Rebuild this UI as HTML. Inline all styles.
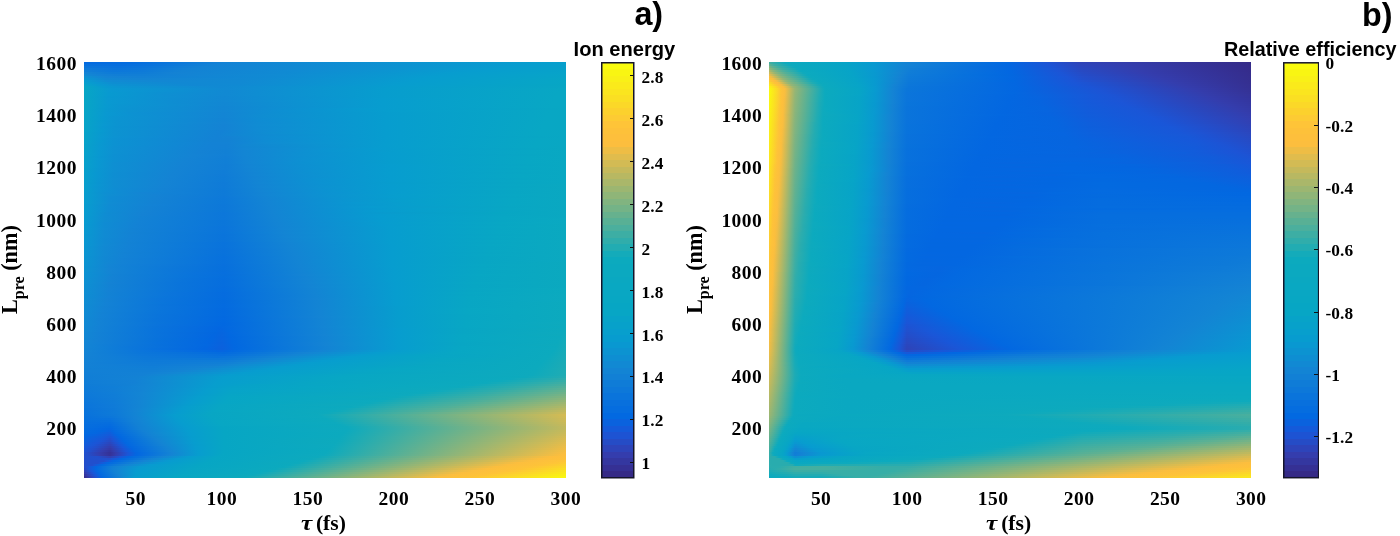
<!DOCTYPE html>
<html><head><meta charset="utf-8"><title>Figure</title>
<style>
html,body{margin:0;padding:0;background:#fff}
#fig{position:relative;width:1400px;height:536px;overflow:hidden;background:#fff;color:#000}
.hm{position:absolute;display:block}
.t{position:absolute;white-space:nowrap;line-height:1;font-family:"Liberation Serif",serif;font-weight:bold;font-size:19.5px;letter-spacing:0.45px;color:#000}
.c{font-size:17.3px;letter-spacing:0.1px}
.yl{text-align:right;width:60px}
.xl{text-align:center;width:60px}
.s{position:absolute;white-space:nowrap;line-height:1;font-family:"Liberation Sans",sans-serif;font-weight:bold;color:#000}
.tk{position:absolute;background:#111;height:1.2px;width:4px}
.ax{position:absolute;white-space:nowrap;line-height:1;font-family:"Liberation Serif",serif;font-weight:bold;font-size:22.2px;color:#000}
</style></head><body><div id="fig">
<svg class="hm" style="left:84px;top:62px" width="482" height="416" viewBox="0 0 482 416" shape-rendering="crispEdges"><defs><linearGradient id="a0"><stop offset="0" stop-color="#046ae0"/><stop offset="0.1" stop-color="#046cdf"/><stop offset="0.29" stop-color="#1382d5"/><stop offset="0.668" stop-color="#0c93d1"/><stop offset="0.959" stop-color="#079ece"/><stop offset="1" stop-color="#079fcd"/></linearGradient><linearGradient id="a1"><stop offset="0" stop-color="#0770dd"/><stop offset="0.079" stop-color="#066ede"/><stop offset="0.141" stop-color="#0973dc"/><stop offset="0.266" stop-color="#1382d5"/><stop offset="0.465" stop-color="#108ad3"/><stop offset="0.909" stop-color="#079dcf"/><stop offset="1" stop-color="#07a0cc"/></linearGradient><linearGradient id="a2"><stop offset="0" stop-color="#0a75db"/><stop offset="0.071" stop-color="#0871dd"/><stop offset="0.129" stop-color="#0a75db"/><stop offset="0.245" stop-color="#1382d5"/><stop offset="0.436" stop-color="#1189d3"/><stop offset="0.88" stop-color="#079dcf"/><stop offset="1" stop-color="#07a0cb"/></linearGradient><linearGradient id="a3"><stop offset="0" stop-color="#0e7ad9"/><stop offset="0.066" stop-color="#0a74db"/><stop offset="0.124" stop-color="#0c77da"/><stop offset="0.224" stop-color="#1382d5"/><stop offset="0.423" stop-color="#1189d3"/><stop offset="0.838" stop-color="#079dcf"/><stop offset="1" stop-color="#07a1ca"/></linearGradient><linearGradient id="a4"><stop offset="0" stop-color="#117fd6"/><stop offset="0.062" stop-color="#0c77da"/><stop offset="0.124" stop-color="#0e7ad8"/><stop offset="0.203" stop-color="#1382d4"/><stop offset="0.444" stop-color="#108bd3"/><stop offset="0.801" stop-color="#079dcf"/><stop offset="1" stop-color="#07a2c9"/></linearGradient><linearGradient id="a5"><stop offset="0" stop-color="#1484d4"/><stop offset="0.058" stop-color="#0e7bd8"/><stop offset="0.12" stop-color="#0f7cd7"/><stop offset="0.187" stop-color="#1482d4"/><stop offset="0.411" stop-color="#108ad3"/><stop offset="0.768" stop-color="#079dcf"/><stop offset="1" stop-color="#07a3c9"/></linearGradient><linearGradient id="a6"><stop offset="0" stop-color="#108ad3"/><stop offset="0.029" stop-color="#1382d5"/><stop offset="0.071" stop-color="#117ed6"/><stop offset="0.12" stop-color="#117fd6"/><stop offset="0.22" stop-color="#1384d4"/><stop offset="0.407" stop-color="#108bd3"/><stop offset="0.743" stop-color="#079dcf"/><stop offset="1" stop-color="#07a4c8"/></linearGradient><linearGradient id="a7"><stop offset="0" stop-color="#0d91d2"/><stop offset="0.046" stop-color="#1483d4"/><stop offset="0.116" stop-color="#1381d5"/><stop offset="0.386" stop-color="#108ad3"/><stop offset="0.718" stop-color="#079dcf"/><stop offset="1" stop-color="#07a4c7"/></linearGradient><linearGradient id="a8"><stop offset="0" stop-color="#0997d1"/><stop offset="0.046" stop-color="#1287d3"/><stop offset="0.112" stop-color="#1484d4"/><stop offset="0.349" stop-color="#1189d3"/><stop offset="0.697" stop-color="#079dcf"/><stop offset="1" stop-color="#07a5c6"/></linearGradient><linearGradient id="a9"><stop offset="0" stop-color="#079dcf"/><stop offset="0.05" stop-color="#108bd3"/><stop offset="0.154" stop-color="#1287d3"/><stop offset="0.328" stop-color="#1189d3"/><stop offset="0.68" stop-color="#079dcf"/><stop offset="1" stop-color="#07a6c5"/></linearGradient><linearGradient id="a10"><stop offset="0" stop-color="#07a0cc"/><stop offset="0.025" stop-color="#0998d1"/><stop offset="0.058" stop-color="#0e8ed2"/><stop offset="0.195" stop-color="#1188d3"/><stop offset="0.324" stop-color="#1189d3"/><stop offset="0.664" stop-color="#079dcf"/><stop offset="1" stop-color="#07a6c5"/></linearGradient><linearGradient id="a11"><stop offset="0" stop-color="#07a3c9"/><stop offset="0.037" stop-color="#0998d1"/><stop offset="0.062" stop-color="#0c92d2"/><stop offset="0.228" stop-color="#1188d3"/><stop offset="0.328" stop-color="#108ad3"/><stop offset="0.651" stop-color="#079dcf"/><stop offset="1" stop-color="#07a6c4"/></linearGradient><linearGradient id="a12"><stop offset="0" stop-color="#07a6c5"/><stop offset="0.046" stop-color="#0899d0"/><stop offset="0.071" stop-color="#0b95d1"/><stop offset="0.282" stop-color="#1189d3"/><stop offset="0.635" stop-color="#079dce"/><stop offset="1" stop-color="#08a6c4"/></linearGradient><linearGradient id="a13"><stop offset="0" stop-color="#07a6c5"/><stop offset="0.058" stop-color="#0999d1"/><stop offset="0.295" stop-color="#118ad3"/><stop offset="0.622" stop-color="#079dce"/><stop offset="0.988" stop-color="#08a7c4"/><stop offset="1" stop-color="#08a7c4"/></linearGradient><linearGradient id="a14"><stop offset="0" stop-color="#07a6c5"/><stop offset="0.054" stop-color="#0999d1"/><stop offset="0.295" stop-color="#1189d3"/><stop offset="0.622" stop-color="#079dce"/><stop offset="0.988" stop-color="#08a7c4"/><stop offset="1" stop-color="#08a7c4"/></linearGradient><linearGradient id="a15"><stop offset="0" stop-color="#07a6c5"/><stop offset="0.05" stop-color="#089ad0"/><stop offset="0.166" stop-color="#0d90d2"/><stop offset="0.295" stop-color="#1189d3"/><stop offset="0.622" stop-color="#079dce"/><stop offset="0.983" stop-color="#08a7c4"/><stop offset="1" stop-color="#08a7c4"/></linearGradient><linearGradient id="a16"><stop offset="0" stop-color="#07a6c5"/><stop offset="0.05" stop-color="#089ad0"/><stop offset="0.17" stop-color="#0e8fd2"/><stop offset="0.29" stop-color="#1189d3"/><stop offset="0.622" stop-color="#079dce"/><stop offset="0.983" stop-color="#08a7c4"/><stop offset="1" stop-color="#08a7c4"/></linearGradient><linearGradient id="a17"><stop offset="0" stop-color="#07a6c5"/><stop offset="0.05" stop-color="#0899d0"/><stop offset="0.178" stop-color="#0e8fd2"/><stop offset="0.29" stop-color="#1188d3"/><stop offset="0.622" stop-color="#079dce"/><stop offset="0.979" stop-color="#08a7c4"/><stop offset="1" stop-color="#08a7c4"/></linearGradient><linearGradient id="a18"><stop offset="0" stop-color="#07a6c5"/><stop offset="0.05" stop-color="#0999d0"/><stop offset="0.183" stop-color="#0e8ed2"/><stop offset="0.29" stop-color="#1188d3"/><stop offset="0.618" stop-color="#079dcf"/><stop offset="0.979" stop-color="#08a7c4"/><stop offset="1" stop-color="#08a7c4"/></linearGradient><linearGradient id="a19"><stop offset="0" stop-color="#07a6c5"/><stop offset="0.05" stop-color="#0999d1"/><stop offset="0.178" stop-color="#0e8ed2"/><stop offset="0.29" stop-color="#1288d3"/><stop offset="0.618" stop-color="#079dcf"/><stop offset="0.975" stop-color="#08a7c4"/><stop offset="1" stop-color="#08a7c4"/></linearGradient><linearGradient id="a20"><stop offset="0" stop-color="#07a6c5"/><stop offset="0.05" stop-color="#0999d1"/><stop offset="0.178" stop-color="#0e8ed2"/><stop offset="0.29" stop-color="#1287d3"/><stop offset="0.618" stop-color="#079dcf"/><stop offset="0.975" stop-color="#08a7c4"/><stop offset="1" stop-color="#08a7c4"/></linearGradient><linearGradient id="a21"><stop offset="0" stop-color="#07a6c5"/><stop offset="0.046" stop-color="#089ad0"/><stop offset="0.071" stop-color="#0a96d1"/><stop offset="0.29" stop-color="#1287d3"/><stop offset="0.618" stop-color="#079dcf"/><stop offset="0.971" stop-color="#08a7c4"/><stop offset="1" stop-color="#08a7c4"/></linearGradient><linearGradient id="a22"><stop offset="0" stop-color="#07a6c5"/><stop offset="0.046" stop-color="#089ad0"/><stop offset="0.075" stop-color="#0b95d1"/><stop offset="0.29" stop-color="#1286d3"/><stop offset="0.618" stop-color="#079dcf"/><stop offset="0.971" stop-color="#08a7c4"/><stop offset="1" stop-color="#08a7c3"/></linearGradient><linearGradient id="a23"><stop offset="0" stop-color="#07a6c6"/><stop offset="0.046" stop-color="#0899d0"/><stop offset="0.083" stop-color="#0b94d1"/><stop offset="0.29" stop-color="#1286d3"/><stop offset="0.581" stop-color="#079cd0"/><stop offset="0.967" stop-color="#08a6c4"/><stop offset="1" stop-color="#08a7c3"/></linearGradient><linearGradient id="a24"><stop offset="0" stop-color="#07a5c6"/><stop offset="0.046" stop-color="#0999d0"/><stop offset="0.091" stop-color="#0c93d1"/><stop offset="0.29" stop-color="#1386d4"/><stop offset="0.415" stop-color="#0d90d2"/><stop offset="0.631" stop-color="#079ece"/><stop offset="0.967" stop-color="#08a7c4"/><stop offset="1" stop-color="#08a7c3"/></linearGradient><linearGradient id="a25"><stop offset="0" stop-color="#07a5c6"/><stop offset="0.046" stop-color="#0999d1"/><stop offset="0.095" stop-color="#0c92d2"/><stop offset="0.29" stop-color="#1385d4"/><stop offset="0.39" stop-color="#0e8ed2"/><stop offset="0.627" stop-color="#079dce"/><stop offset="0.967" stop-color="#08a7c4"/><stop offset="1" stop-color="#08a7c3"/></linearGradient><linearGradient id="a26"><stop offset="0" stop-color="#07a5c6"/><stop offset="0.046" stop-color="#0999d1"/><stop offset="0.1" stop-color="#0c92d2"/><stop offset="0.29" stop-color="#1385d4"/><stop offset="0.369" stop-color="#0f8dd2"/><stop offset="0.627" stop-color="#079dce"/><stop offset="0.963" stop-color="#08a7c4"/><stop offset="1" stop-color="#08a7c3"/></linearGradient><linearGradient id="a27"><stop offset="0" stop-color="#07a5c6"/><stop offset="0.041" stop-color="#089ad0"/><stop offset="0.062" stop-color="#0b95d1"/><stop offset="0.29" stop-color="#1385d4"/><stop offset="0.369" stop-color="#0f8dd2"/><stop offset="0.627" stop-color="#079dce"/><stop offset="0.963" stop-color="#08a7c4"/><stop offset="1" stop-color="#08a7c3"/></linearGradient><linearGradient id="a28"><stop offset="0" stop-color="#07a5c6"/><stop offset="0.041" stop-color="#089ad0"/><stop offset="0.062" stop-color="#0b95d1"/><stop offset="0.29" stop-color="#1384d4"/><stop offset="0.361" stop-color="#0f8cd3"/><stop offset="0.627" stop-color="#079dce"/><stop offset="0.959" stop-color="#08a7c4"/><stop offset="1" stop-color="#08a7c3"/></linearGradient><linearGradient id="a29"><stop offset="0" stop-color="#07a4c7"/><stop offset="0.041" stop-color="#0899d0"/><stop offset="0.066" stop-color="#0b94d1"/><stop offset="0.29" stop-color="#1384d4"/><stop offset="0.365" stop-color="#0f8cd3"/><stop offset="0.627" stop-color="#079dcf"/><stop offset="0.959" stop-color="#08a7c4"/><stop offset="1" stop-color="#08a7c3"/></linearGradient><linearGradient id="a30"><stop offset="0" stop-color="#07a4c7"/><stop offset="0.041" stop-color="#0999d0"/><stop offset="0.066" stop-color="#0b94d1"/><stop offset="0.29" stop-color="#1484d4"/><stop offset="0.357" stop-color="#108bd3"/><stop offset="0.627" stop-color="#079dcf"/><stop offset="0.959" stop-color="#08a7c4"/><stop offset="1" stop-color="#08a7c3"/></linearGradient><linearGradient id="a31"><stop offset="0" stop-color="#07a4c7"/><stop offset="0.041" stop-color="#0999d1"/><stop offset="0.066" stop-color="#0b94d1"/><stop offset="0.29" stop-color="#1483d4"/><stop offset="0.361" stop-color="#108cd3"/><stop offset="0.627" stop-color="#079dcf"/><stop offset="0.954" stop-color="#08a7c4"/><stop offset="1" stop-color="#08a7c3"/></linearGradient><linearGradient id="a32"><stop offset="0" stop-color="#07a4c7"/><stop offset="0.041" stop-color="#0998d1"/><stop offset="0.066" stop-color="#0b93d1"/><stop offset="0.29" stop-color="#1483d4"/><stop offset="0.357" stop-color="#108bd3"/><stop offset="0.627" stop-color="#079dcf"/><stop offset="0.954" stop-color="#08a7c4"/><stop offset="1" stop-color="#08a7c3"/></linearGradient><linearGradient id="a33"><stop offset="0" stop-color="#07a4c7"/><stop offset="0.037" stop-color="#089ad0"/><stop offset="0.062" stop-color="#0b94d1"/><stop offset="0.29" stop-color="#1483d4"/><stop offset="0.365" stop-color="#108cd3"/><stop offset="0.627" stop-color="#079dcf"/><stop offset="0.95" stop-color="#08a7c4"/><stop offset="1" stop-color="#08a7c3"/></linearGradient><linearGradient id="a34"><stop offset="0" stop-color="#07a4c8"/><stop offset="0.037" stop-color="#089ad0"/><stop offset="0.062" stop-color="#0c93d1"/><stop offset="0.286" stop-color="#1382d5"/><stop offset="0.361" stop-color="#108bd3"/><stop offset="0.627" stop-color="#079dcf"/><stop offset="0.95" stop-color="#08a7c4"/><stop offset="1" stop-color="#09a7c3"/></linearGradient><linearGradient id="a35"><stop offset="0" stop-color="#07a3c8"/><stop offset="0.037" stop-color="#0899d0"/><stop offset="0.062" stop-color="#0c93d1"/><stop offset="0.282" stop-color="#1382d5"/><stop offset="0.382" stop-color="#0f8dd2"/><stop offset="0.627" stop-color="#079dcf"/><stop offset="0.946" stop-color="#08a7c4"/><stop offset="1" stop-color="#09a7c3"/></linearGradient><linearGradient id="a36"><stop offset="0" stop-color="#07a3c8"/><stop offset="0.037" stop-color="#0999d0"/><stop offset="0.062" stop-color="#0c93d1"/><stop offset="0.278" stop-color="#1382d5"/><stop offset="0.332" stop-color="#1188d3"/><stop offset="0.627" stop-color="#079dcf"/><stop offset="0.946" stop-color="#08a7c4"/><stop offset="1" stop-color="#09a7c3"/></linearGradient><linearGradient id="a37"><stop offset="0" stop-color="#07a3c8"/><stop offset="0.037" stop-color="#0999d1"/><stop offset="0.062" stop-color="#0c93d2"/><stop offset="0.274" stop-color="#1382d5"/><stop offset="0.303" stop-color="#1483d4"/><stop offset="0.378" stop-color="#0f8cd3"/><stop offset="0.627" stop-color="#079dcf"/><stop offset="0.942" stop-color="#08a6c4"/><stop offset="1" stop-color="#09a7c3"/></linearGradient><linearGradient id="a38"><stop offset="0" stop-color="#07a3c8"/><stop offset="0.037" stop-color="#0998d1"/><stop offset="0.062" stop-color="#0c92d2"/><stop offset="0.27" stop-color="#1382d5"/><stop offset="0.299" stop-color="#1482d4"/><stop offset="0.373" stop-color="#108bd3"/><stop offset="0.627" stop-color="#079dcf"/><stop offset="0.942" stop-color="#08a7c4"/><stop offset="1" stop-color="#09a7c3"/></linearGradient><linearGradient id="a39"><stop offset="0" stop-color="#07a3c9"/><stop offset="0.033" stop-color="#089ad0"/><stop offset="0.062" stop-color="#0c92d2"/><stop offset="0.266" stop-color="#1382d4"/><stop offset="0.299" stop-color="#1382d4"/><stop offset="0.378" stop-color="#0f8cd3"/><stop offset="0.627" stop-color="#079dcf"/><stop offset="0.942" stop-color="#08a7c4"/><stop offset="1" stop-color="#09a7c3"/></linearGradient><linearGradient id="a40"><stop offset="0" stop-color="#07a3c9"/><stop offset="0.037" stop-color="#0998d1"/><stop offset="0.062" stop-color="#0c92d2"/><stop offset="0.266" stop-color="#1382d5"/><stop offset="0.299" stop-color="#1382d5"/><stop offset="0.378" stop-color="#108cd3"/><stop offset="0.627" stop-color="#079dcf"/><stop offset="0.938" stop-color="#08a7c4"/><stop offset="1" stop-color="#09a7c3"/></linearGradient><linearGradient id="a41"><stop offset="0" stop-color="#07a2c9"/><stop offset="0.033" stop-color="#0999d0"/><stop offset="0.062" stop-color="#0c92d2"/><stop offset="0.261" stop-color="#1382d5"/><stop offset="0.295" stop-color="#1381d5"/><stop offset="0.332" stop-color="#1287d3"/><stop offset="0.622" stop-color="#079dcf"/><stop offset="0.938" stop-color="#08a7c4"/><stop offset="1" stop-color="#09a7c3"/></linearGradient><linearGradient id="a42"><stop offset="0" stop-color="#07a2c9"/><stop offset="0.033" stop-color="#0999d1"/><stop offset="0.062" stop-color="#0d91d2"/><stop offset="0.257" stop-color="#1382d5"/><stop offset="0.295" stop-color="#1381d5"/><stop offset="0.332" stop-color="#1286d3"/><stop offset="0.622" stop-color="#079dcf"/><stop offset="0.934" stop-color="#08a7c4"/><stop offset="1" stop-color="#09a7c2"/></linearGradient><linearGradient id="a43"><stop offset="0" stop-color="#07a2c9"/><stop offset="0.033" stop-color="#0999d1"/><stop offset="0.062" stop-color="#0d91d2"/><stop offset="0.253" stop-color="#1382d5"/><stop offset="0.295" stop-color="#1281d5"/><stop offset="0.332" stop-color="#1386d4"/><stop offset="0.602" stop-color="#079cd0"/><stop offset="0.929" stop-color="#08a6c4"/><stop offset="1" stop-color="#09a7c2"/></linearGradient><linearGradient id="a44"><stop offset="0" stop-color="#07a2c9"/><stop offset="0.033" stop-color="#0998d1"/><stop offset="0.062" stop-color="#0d91d2"/><stop offset="0.241" stop-color="#1482d4"/><stop offset="0.295" stop-color="#1280d5"/><stop offset="0.332" stop-color="#1385d4"/><stop offset="0.506" stop-color="#0b95d1"/><stop offset="0.651" stop-color="#079ece"/><stop offset="0.934" stop-color="#08a7c4"/><stop offset="1" stop-color="#09a8c2"/></linearGradient><linearGradient id="a45"><stop offset="0" stop-color="#07a2ca"/><stop offset="0.033" stop-color="#0998d1"/><stop offset="0.062" stop-color="#0d91d2"/><stop offset="0.237" stop-color="#1482d4"/><stop offset="0.295" stop-color="#1280d5"/><stop offset="0.332" stop-color="#1385d4"/><stop offset="0.448" stop-color="#0d90d2"/><stop offset="0.631" stop-color="#079dcf"/><stop offset="0.929" stop-color="#08a7c4"/><stop offset="1" stop-color="#09a8c2"/></linearGradient><linearGradient id="a46"><stop offset="0" stop-color="#07a2ca"/><stop offset="0.033" stop-color="#0998d1"/><stop offset="0.062" stop-color="#0d90d2"/><stop offset="0.228" stop-color="#1483d4"/><stop offset="0.295" stop-color="#1280d6"/><stop offset="0.332" stop-color="#1385d4"/><stop offset="0.436" stop-color="#0e8fd2"/><stop offset="0.631" stop-color="#079dcf"/><stop offset="0.925" stop-color="#08a6c4"/><stop offset="1" stop-color="#09a8c2"/></linearGradient><linearGradient id="a47"><stop offset="0" stop-color="#07a1ca"/><stop offset="0.033" stop-color="#0997d1"/><stop offset="0.062" stop-color="#0d90d2"/><stop offset="0.224" stop-color="#1483d4"/><stop offset="0.295" stop-color="#127fd6"/><stop offset="0.336" stop-color="#1385d4"/><stop offset="0.452" stop-color="#0d90d2"/><stop offset="0.631" stop-color="#079dcf"/><stop offset="0.925" stop-color="#08a7c4"/><stop offset="1" stop-color="#09a8c2"/></linearGradient><linearGradient id="a48"><stop offset="0" stop-color="#07a1ca"/><stop offset="0.029" stop-color="#0999d1"/><stop offset="0.062" stop-color="#0d90d2"/><stop offset="0.216" stop-color="#1483d4"/><stop offset="0.295" stop-color="#117fd6"/><stop offset="0.336" stop-color="#1385d4"/><stop offset="0.444" stop-color="#0d90d2"/><stop offset="0.631" stop-color="#079dcf"/><stop offset="0.925" stop-color="#08a7c4"/><stop offset="1" stop-color="#09a8c2"/></linearGradient><linearGradient id="a49"><stop offset="0" stop-color="#07a1ca"/><stop offset="0.029" stop-color="#0998d1"/><stop offset="0.062" stop-color="#0d90d2"/><stop offset="0.212" stop-color="#1483d4"/><stop offset="0.295" stop-color="#117fd6"/><stop offset="0.34" stop-color="#1385d4"/><stop offset="0.461" stop-color="#0d91d2"/><stop offset="0.635" stop-color="#079dce"/><stop offset="0.921" stop-color="#08a7c4"/><stop offset="1" stop-color="#09a8c2"/></linearGradient><linearGradient id="a50"><stop offset="0" stop-color="#07a1cb"/><stop offset="0.029" stop-color="#0998d1"/><stop offset="0.062" stop-color="#0e8fd2"/><stop offset="0.207" stop-color="#1483d4"/><stop offset="0.295" stop-color="#117fd6"/><stop offset="0.34" stop-color="#1385d4"/><stop offset="0.448" stop-color="#0d90d2"/><stop offset="0.635" stop-color="#079dce"/><stop offset="0.921" stop-color="#08a7c4"/><stop offset="1" stop-color="#09a8c2"/></linearGradient><linearGradient id="a51"><stop offset="0" stop-color="#07a1cb"/><stop offset="0.029" stop-color="#0998d1"/><stop offset="0.062" stop-color="#0e8fd2"/><stop offset="0.203" stop-color="#1483d4"/><stop offset="0.295" stop-color="#117ed6"/><stop offset="0.34" stop-color="#1384d4"/><stop offset="0.432" stop-color="#0e8ed2"/><stop offset="0.631" stop-color="#079dcf"/><stop offset="0.917" stop-color="#08a6c4"/><stop offset="1" stop-color="#09a8c2"/></linearGradient><linearGradient id="a52"><stop offset="0" stop-color="#07a1cb"/><stop offset="0.029" stop-color="#0998d1"/><stop offset="0.062" stop-color="#0e8fd2"/><stop offset="0.199" stop-color="#1483d4"/><stop offset="0.295" stop-color="#117ed6"/><stop offset="0.344" stop-color="#1385d4"/><stop offset="0.456" stop-color="#0d90d2"/><stop offset="0.635" stop-color="#079dcf"/><stop offset="0.917" stop-color="#08a7c4"/><stop offset="1" stop-color="#09a8c2"/></linearGradient><linearGradient id="a53"><stop offset="0" stop-color="#07a0cb"/><stop offset="0.029" stop-color="#0997d1"/><stop offset="0.062" stop-color="#0e8fd2"/><stop offset="0.195" stop-color="#1483d4"/><stop offset="0.295" stop-color="#117ed6"/><stop offset="0.344" stop-color="#1384d4"/><stop offset="0.436" stop-color="#0e8ed2"/><stop offset="0.631" stop-color="#079dcf"/><stop offset="0.913" stop-color="#08a6c4"/><stop offset="1" stop-color="#09a8c2"/></linearGradient><linearGradient id="a54"><stop offset="0" stop-color="#07a0cb"/><stop offset="0.029" stop-color="#0a97d1"/><stop offset="0.062" stop-color="#0e8fd2"/><stop offset="0.191" stop-color="#1483d4"/><stop offset="0.29" stop-color="#107dd7"/><stop offset="0.349" stop-color="#1385d4"/><stop offset="0.465" stop-color="#0d91d2"/><stop offset="0.635" stop-color="#079dcf"/><stop offset="0.913" stop-color="#08a7c4"/><stop offset="1" stop-color="#09a8c2"/></linearGradient><linearGradient id="a55"><stop offset="0" stop-color="#07a0cc"/><stop offset="0.025" stop-color="#0998d1"/><stop offset="0.062" stop-color="#0e8ed2"/><stop offset="0.187" stop-color="#1483d4"/><stop offset="0.29" stop-color="#107dd7"/><stop offset="0.349" stop-color="#1384d4"/><stop offset="0.444" stop-color="#0e8fd2"/><stop offset="0.631" stop-color="#079dcf"/><stop offset="0.909" stop-color="#08a6c4"/><stop offset="1" stop-color="#09a8c2"/></linearGradient><linearGradient id="a56"><stop offset="0" stop-color="#07a0cc"/><stop offset="0.025" stop-color="#0998d1"/><stop offset="0.062" stop-color="#0e8ed2"/><stop offset="0.183" stop-color="#1483d4"/><stop offset="0.29" stop-color="#107cd7"/><stop offset="0.353" stop-color="#1385d4"/><stop offset="0.473" stop-color="#0d91d2"/><stop offset="0.635" stop-color="#079dcf"/><stop offset="0.909" stop-color="#08a7c4"/><stop offset="1" stop-color="#09a8c2"/></linearGradient><linearGradient id="a57"><stop offset="0" stop-color="#07a0cc"/><stop offset="0.025" stop-color="#0998d1"/><stop offset="0.062" stop-color="#0e8ed2"/><stop offset="0.183" stop-color="#1483d4"/><stop offset="0.29" stop-color="#0f7cd7"/><stop offset="0.353" stop-color="#1384d4"/><stop offset="0.452" stop-color="#0e8fd2"/><stop offset="0.635" stop-color="#079dcf"/><stop offset="0.909" stop-color="#08a7c4"/><stop offset="1" stop-color="#09a8c2"/></linearGradient><linearGradient id="a58"><stop offset="0" stop-color="#07a0cc"/><stop offset="0.029" stop-color="#0a96d1"/><stop offset="0.062" stop-color="#0f8ed2"/><stop offset="0.178" stop-color="#1483d4"/><stop offset="0.29" stop-color="#0f7cd7"/><stop offset="0.357" stop-color="#1385d4"/><stop offset="0.481" stop-color="#0c92d2"/><stop offset="0.635" stop-color="#079dcf"/><stop offset="0.905" stop-color="#08a6c4"/><stop offset="1" stop-color="#09a8c2"/></linearGradient><linearGradient id="a59"><stop offset="0" stop-color="#079fcc"/><stop offset="0.029" stop-color="#0a96d1"/><stop offset="0.062" stop-color="#0f8dd2"/><stop offset="0.174" stop-color="#1483d4"/><stop offset="0.29" stop-color="#0f7cd8"/><stop offset="0.357" stop-color="#1384d4"/><stop offset="0.465" stop-color="#0d90d2"/><stop offset="0.635" stop-color="#079dcf"/><stop offset="0.905" stop-color="#08a7c4"/><stop offset="1" stop-color="#09a8c2"/></linearGradient><linearGradient id="a60"><stop offset="0" stop-color="#079fcc"/><stop offset="0.029" stop-color="#0a95d1"/><stop offset="0.062" stop-color="#0f8dd2"/><stop offset="0.174" stop-color="#1483d4"/><stop offset="0.29" stop-color="#0f7bd8"/><stop offset="0.361" stop-color="#1385d4"/><stop offset="0.49" stop-color="#0c92d2"/><stop offset="0.639" stop-color="#079dce"/><stop offset="0.9" stop-color="#08a6c4"/><stop offset="1" stop-color="#09a8c2"/></linearGradient><linearGradient id="a61"><stop offset="0" stop-color="#079fcd"/><stop offset="0.025" stop-color="#0a97d1"/><stop offset="0.062" stop-color="#0f8dd2"/><stop offset="0.17" stop-color="#1483d4"/><stop offset="0.29" stop-color="#0f7bd8"/><stop offset="0.361" stop-color="#1384d4"/><stop offset="0.473" stop-color="#0d90d2"/><stop offset="0.635" stop-color="#079dcf"/><stop offset="0.9" stop-color="#08a7c4"/><stop offset="1" stop-color="#0aa8c1"/></linearGradient><linearGradient id="a62"><stop offset="0" stop-color="#079fcd"/><stop offset="0.025" stop-color="#0a96d1"/><stop offset="0.062" stop-color="#0f8dd2"/><stop offset="0.166" stop-color="#1483d4"/><stop offset="0.29" stop-color="#0f7bd8"/><stop offset="0.365" stop-color="#1385d4"/><stop offset="0.502" stop-color="#0c93d1"/><stop offset="0.639" stop-color="#079dcf"/><stop offset="0.896" stop-color="#08a6c4"/><stop offset="1" stop-color="#0aa8c1"/></linearGradient><linearGradient id="a63"><stop offset="0" stop-color="#079fcd"/><stop offset="0.029" stop-color="#0b95d1"/><stop offset="0.066" stop-color="#0f8cd3"/><stop offset="0.17" stop-color="#1482d4"/><stop offset="0.29" stop-color="#0e7bd8"/><stop offset="0.365" stop-color="#1384d4"/><stop offset="0.485" stop-color="#0d91d2"/><stop offset="0.635" stop-color="#079dcf"/><stop offset="0.896" stop-color="#08a7c4"/><stop offset="1" stop-color="#0aa8c1"/></linearGradient><linearGradient id="a64"><stop offset="0" stop-color="#079fcd"/><stop offset="0.037" stop-color="#0c92d2"/><stop offset="0.075" stop-color="#108bd3"/><stop offset="0.174" stop-color="#1382d5"/><stop offset="0.29" stop-color="#0e7ad8"/><stop offset="0.369" stop-color="#1385d4"/><stop offset="0.515" stop-color="#0b94d1"/><stop offset="0.639" stop-color="#079dcf"/><stop offset="0.892" stop-color="#08a6c4"/><stop offset="1" stop-color="#0aa8c1"/></linearGradient><linearGradient id="a65"><stop offset="0" stop-color="#079ecd"/><stop offset="0.041" stop-color="#0d90d2"/><stop offset="0.12" stop-color="#1385d4"/><stop offset="0.203" stop-color="#1280d6"/><stop offset="0.29" stop-color="#0e7ad8"/><stop offset="0.369" stop-color="#1384d4"/><stop offset="0.498" stop-color="#0c92d2"/><stop offset="0.639" stop-color="#079dcf"/><stop offset="0.892" stop-color="#08a6c4"/><stop offset="1" stop-color="#0aa8c1"/></linearGradient><linearGradient id="a66"><stop offset="0" stop-color="#079ece"/><stop offset="0.05" stop-color="#0f8ed2"/><stop offset="0.145" stop-color="#1483d4"/><stop offset="0.29" stop-color="#0e7ad8"/><stop offset="0.373" stop-color="#1385d4"/><stop offset="0.527" stop-color="#0b95d1"/><stop offset="0.651" stop-color="#079ece"/><stop offset="0.896" stop-color="#08a7c4"/><stop offset="1" stop-color="#0aa8c1"/></linearGradient><linearGradient id="a67"><stop offset="0" stop-color="#079ece"/><stop offset="0.054" stop-color="#0f8cd3"/><stop offset="0.154" stop-color="#1482d4"/><stop offset="0.29" stop-color="#0e79d9"/><stop offset="0.373" stop-color="#1384d4"/><stop offset="0.51" stop-color="#0c93d1"/><stop offset="0.639" stop-color="#079dcf"/><stop offset="0.888" stop-color="#08a6c4"/><stop offset="1" stop-color="#0aa8c1"/></linearGradient><linearGradient id="a68"><stop offset="0" stop-color="#079ece"/><stop offset="0.054" stop-color="#0f8cd3"/><stop offset="0.149" stop-color="#1482d4"/><stop offset="0.29" stop-color="#0d79d9"/><stop offset="0.378" stop-color="#1384d4"/><stop offset="0.544" stop-color="#0a96d1"/><stop offset="0.66" stop-color="#079ecd"/><stop offset="0.892" stop-color="#08a7c4"/><stop offset="1" stop-color="#0aa8c1"/></linearGradient><linearGradient id="a69"><stop offset="0" stop-color="#079ece"/><stop offset="0.054" stop-color="#0f8cd3"/><stop offset="0.149" stop-color="#1382d4"/><stop offset="0.29" stop-color="#0d79d9"/><stop offset="0.378" stop-color="#1384d4"/><stop offset="0.527" stop-color="#0b94d1"/><stop offset="0.647" stop-color="#079ece"/><stop offset="0.888" stop-color="#08a7c4"/><stop offset="1" stop-color="#0aa8c1"/></linearGradient><linearGradient id="a70"><stop offset="0" stop-color="#079ece"/><stop offset="0.054" stop-color="#108cd3"/><stop offset="0.145" stop-color="#1382d4"/><stop offset="0.29" stop-color="#0d79d9"/><stop offset="0.382" stop-color="#1384d4"/><stop offset="0.564" stop-color="#0998d1"/><stop offset="0.697" stop-color="#07a0cc"/><stop offset="0.896" stop-color="#08a7c4"/><stop offset="1" stop-color="#0aa8c1"/></linearGradient><linearGradient id="a71"><stop offset="0" stop-color="#079dce"/><stop offset="0.054" stop-color="#108bd3"/><stop offset="0.145" stop-color="#1382d5"/><stop offset="0.29" stop-color="#0d78d9"/><stop offset="0.382" stop-color="#1384d4"/><stop offset="0.539" stop-color="#0a95d1"/><stop offset="0.656" stop-color="#079ece"/><stop offset="0.884" stop-color="#08a7c4"/><stop offset="1" stop-color="#0aa8c1"/></linearGradient><linearGradient id="a72"><stop offset="0" stop-color="#079dcf"/><stop offset="0.05" stop-color="#0f8cd3"/><stop offset="0.137" stop-color="#1382d4"/><stop offset="0.29" stop-color="#0d78d9"/><stop offset="0.386" stop-color="#1384d4"/><stop offset="0.593" stop-color="#089bd0"/><stop offset="0.876" stop-color="#08a6c4"/><stop offset="1" stop-color="#0aa8c1"/></linearGradient><linearGradient id="a73"><stop offset="0" stop-color="#079dcf"/><stop offset="0.05" stop-color="#0f8cd3"/><stop offset="0.133" stop-color="#1382d4"/><stop offset="0.29" stop-color="#0d78d9"/><stop offset="0.386" stop-color="#1384d4"/><stop offset="0.56" stop-color="#0997d1"/><stop offset="0.676" stop-color="#079fcd"/><stop offset="0.884" stop-color="#08a7c4"/><stop offset="1" stop-color="#0aa8c1"/></linearGradient><linearGradient id="a74"><stop offset="0" stop-color="#079dcf"/><stop offset="0.05" stop-color="#0f8cd3"/><stop offset="0.129" stop-color="#1482d4"/><stop offset="0.29" stop-color="#0c78d9"/><stop offset="0.39" stop-color="#1384d4"/><stop offset="0.61" stop-color="#079cd0"/><stop offset="0.876" stop-color="#08a6c4"/><stop offset="1" stop-color="#0aa8c1"/></linearGradient><linearGradient id="a75"><stop offset="0" stop-color="#079dcf"/><stop offset="0.046" stop-color="#0f8cd2"/><stop offset="0.124" stop-color="#1482d4"/><stop offset="0.29" stop-color="#0c77da"/><stop offset="0.39" stop-color="#1384d4"/><stop offset="0.581" stop-color="#0899d0"/><stop offset="0.859" stop-color="#07a6c4"/><stop offset="1" stop-color="#0aa8c1"/></linearGradient><linearGradient id="a76"><stop offset="0" stop-color="#079dcf"/><stop offset="0.046" stop-color="#0f8cd3"/><stop offset="0.12" stop-color="#1482d4"/><stop offset="0.29" stop-color="#0c77da"/><stop offset="0.394" stop-color="#1384d4"/><stop offset="0.614" stop-color="#079cd0"/><stop offset="0.871" stop-color="#08a6c4"/><stop offset="1" stop-color="#0aa8c1"/></linearGradient><linearGradient id="a77"><stop offset="0" stop-color="#079cd0"/><stop offset="0.041" stop-color="#0f8dd2"/><stop offset="0.12" stop-color="#1382d4"/><stop offset="0.29" stop-color="#0c77da"/><stop offset="0.394" stop-color="#1384d4"/><stop offset="0.61" stop-color="#079cd0"/><stop offset="0.871" stop-color="#08a7c4"/><stop offset="1" stop-color="#0aa8c1"/></linearGradient><linearGradient id="a78"><stop offset="0" stop-color="#079cd0"/><stop offset="0.041" stop-color="#0f8dd2"/><stop offset="0.116" stop-color="#1382d4"/><stop offset="0.29" stop-color="#0c77da"/><stop offset="0.398" stop-color="#1384d4"/><stop offset="0.618" stop-color="#079cd0"/><stop offset="0.871" stop-color="#08a7c4"/><stop offset="1" stop-color="#0aa9c1"/></linearGradient><linearGradient id="a79"><stop offset="0" stop-color="#079cd0"/><stop offset="0.041" stop-color="#0f8dd2"/><stop offset="0.116" stop-color="#1382d5"/><stop offset="0.29" stop-color="#0b76da"/><stop offset="0.398" stop-color="#1384d4"/><stop offset="0.614" stop-color="#079cd0"/><stop offset="0.867" stop-color="#08a6c4"/><stop offset="1" stop-color="#0aa9c1"/></linearGradient><linearGradient id="a80"><stop offset="0" stop-color="#079cd0"/><stop offset="0.041" stop-color="#0f8cd3"/><stop offset="0.112" stop-color="#1382d5"/><stop offset="0.29" stop-color="#0b76da"/><stop offset="0.402" stop-color="#1384d4"/><stop offset="0.627" stop-color="#079dcf"/><stop offset="0.867" stop-color="#08a7c4"/><stop offset="1" stop-color="#0aa9c1"/></linearGradient><linearGradient id="a81"><stop offset="0" stop-color="#079bd0"/><stop offset="0.041" stop-color="#0f8cd3"/><stop offset="0.108" stop-color="#1382d5"/><stop offset="0.29" stop-color="#0b76da"/><stop offset="0.402" stop-color="#1384d4"/><stop offset="0.618" stop-color="#079cd0"/><stop offset="0.863" stop-color="#08a6c4"/><stop offset="1" stop-color="#0aa9c0"/></linearGradient><linearGradient id="a82"><stop offset="0" stop-color="#089bd0"/><stop offset="0.041" stop-color="#0f8cd3"/><stop offset="0.108" stop-color="#1382d5"/><stop offset="0.29" stop-color="#0b75db"/><stop offset="0.407" stop-color="#1384d4"/><stop offset="0.631" stop-color="#079dcf"/><stop offset="0.863" stop-color="#08a7c4"/><stop offset="1" stop-color="#0aa9c0"/></linearGradient><linearGradient id="a83"><stop offset="0" stop-color="#089bd0"/><stop offset="0.041" stop-color="#108cd3"/><stop offset="0.104" stop-color="#1382d4"/><stop offset="0.29" stop-color="#0b75db"/><stop offset="0.411" stop-color="#1385d4"/><stop offset="0.635" stop-color="#079dcf"/><stop offset="0.859" stop-color="#08a6c4"/><stop offset="1" stop-color="#0aa9c0"/></linearGradient><linearGradient id="a84"><stop offset="0" stop-color="#089ad0"/><stop offset="0.041" stop-color="#108bd3"/><stop offset="0.104" stop-color="#1382d5"/><stop offset="0.29" stop-color="#0b75db"/><stop offset="0.411" stop-color="#1384d4"/><stop offset="0.635" stop-color="#079dcf"/><stop offset="0.859" stop-color="#08a7c4"/><stop offset="1" stop-color="#0aa9c0"/></linearGradient><linearGradient id="a85"><stop offset="0" stop-color="#089ad0"/><stop offset="0.041" stop-color="#108bd3"/><stop offset="0.1" stop-color="#1382d4"/><stop offset="0.29" stop-color="#0a75db"/><stop offset="0.415" stop-color="#1385d4"/><stop offset="0.635" stop-color="#079dcf"/><stop offset="0.859" stop-color="#08a7c4"/><stop offset="1" stop-color="#0aa9c0"/></linearGradient><linearGradient id="a86"><stop offset="0" stop-color="#0899d0"/><stop offset="0.041" stop-color="#108bd3"/><stop offset="0.1" stop-color="#1382d5"/><stop offset="0.29" stop-color="#0a74db"/><stop offset="0.415" stop-color="#1384d4"/><stop offset="0.635" stop-color="#079dcf"/><stop offset="0.855" stop-color="#08a6c4"/><stop offset="1" stop-color="#0aa9c0"/></linearGradient><linearGradient id="a87"><stop offset="0" stop-color="#0999d0"/><stop offset="0.041" stop-color="#108bd3"/><stop offset="0.1" stop-color="#1382d5"/><stop offset="0.29" stop-color="#0a74db"/><stop offset="0.419" stop-color="#1385d4"/><stop offset="0.635" stop-color="#079dcf"/><stop offset="0.855" stop-color="#08a7c4"/><stop offset="1" stop-color="#0aa9c0"/></linearGradient><linearGradient id="a88"><stop offset="0" stop-color="#0999d1"/><stop offset="0.041" stop-color="#108ad3"/><stop offset="0.095" stop-color="#1382d5"/><stop offset="0.29" stop-color="#0a74db"/><stop offset="0.419" stop-color="#1384d4"/><stop offset="0.635" stop-color="#079dcf"/><stop offset="0.851" stop-color="#08a6c4"/><stop offset="1" stop-color="#0aa9c0"/></linearGradient><linearGradient id="a89"><stop offset="0" stop-color="#0998d1"/><stop offset="0.041" stop-color="#108ad3"/><stop offset="0.095" stop-color="#1382d5"/><stop offset="0.29" stop-color="#0a74db"/><stop offset="0.423" stop-color="#1385d4"/><stop offset="0.635" stop-color="#079dcf"/><stop offset="0.851" stop-color="#08a7c4"/><stop offset="1" stop-color="#0ba9c0"/></linearGradient><linearGradient id="a90"><stop offset="0" stop-color="#0998d1"/><stop offset="0.041" stop-color="#108ad3"/><stop offset="0.091" stop-color="#1382d4"/><stop offset="0.29" stop-color="#0973dc"/><stop offset="0.423" stop-color="#1384d4"/><stop offset="0.635" stop-color="#079dcf"/><stop offset="0.846" stop-color="#08a6c4"/><stop offset="1" stop-color="#0ba9c0"/></linearGradient><linearGradient id="a91"><stop offset="0" stop-color="#0998d1"/><stop offset="0.041" stop-color="#118ad3"/><stop offset="0.091" stop-color="#1382d5"/><stop offset="0.29" stop-color="#0973dc"/><stop offset="0.427" stop-color="#1384d4"/><stop offset="0.639" stop-color="#079dcf"/><stop offset="0.846" stop-color="#08a7c4"/><stop offset="1" stop-color="#0ba9c0"/></linearGradient><linearGradient id="a92"><stop offset="0" stop-color="#0997d1"/><stop offset="0.041" stop-color="#1189d3"/><stop offset="0.091" stop-color="#1382d5"/><stop offset="0.29" stop-color="#0973dc"/><stop offset="0.427" stop-color="#1384d4"/><stop offset="0.639" stop-color="#079dcf"/><stop offset="0.842" stop-color="#08a6c4"/><stop offset="1" stop-color="#0ba9c0"/></linearGradient><linearGradient id="a93"><stop offset="0" stop-color="#0a97d1"/><stop offset="0.041" stop-color="#1189d3"/><stop offset="0.087" stop-color="#1382d5"/><stop offset="0.29" stop-color="#0972dc"/><stop offset="0.432" stop-color="#1384d4"/><stop offset="0.639" stop-color="#079dcf"/><stop offset="0.842" stop-color="#08a6c4"/><stop offset="1" stop-color="#0ba9c0"/></linearGradient><linearGradient id="a94"><stop offset="0" stop-color="#0a96d1"/><stop offset="0.041" stop-color="#1189d3"/><stop offset="0.087" stop-color="#1382d5"/><stop offset="0.29" stop-color="#0972dc"/><stop offset="0.432" stop-color="#1384d4"/><stop offset="0.639" stop-color="#079dcf"/><stop offset="0.842" stop-color="#08a7c4"/><stop offset="1" stop-color="#0ba9c0"/></linearGradient><linearGradient id="a95"><stop offset="0" stop-color="#0a96d1"/><stop offset="0.041" stop-color="#1189d3"/><stop offset="0.083" stop-color="#1382d4"/><stop offset="0.29" stop-color="#0972dc"/><stop offset="0.436" stop-color="#1384d4"/><stop offset="0.639" stop-color="#079dcf"/><stop offset="0.838" stop-color="#08a6c4"/><stop offset="1" stop-color="#0ba9c0"/></linearGradient><linearGradient id="a96"><stop offset="0" stop-color="#0a96d1"/><stop offset="0.041" stop-color="#1189d3"/><stop offset="0.083" stop-color="#1382d5"/><stop offset="0.29" stop-color="#0872dc"/><stop offset="0.436" stop-color="#1384d4"/><stop offset="0.639" stop-color="#079dcf"/><stop offset="0.838" stop-color="#08a7c4"/><stop offset="1" stop-color="#0ba9c0"/></linearGradient><linearGradient id="a97"><stop offset="0" stop-color="#0a95d1"/><stop offset="0.041" stop-color="#1188d3"/><stop offset="0.083" stop-color="#1382d5"/><stop offset="0.29" stop-color="#0871dd"/><stop offset="0.44" stop-color="#1384d4"/><stop offset="0.639" stop-color="#079dcf"/><stop offset="0.834" stop-color="#08a6c4"/><stop offset="1" stop-color="#0ba9c0"/></linearGradient><linearGradient id="a98"><stop offset="0" stop-color="#0b95d1"/><stop offset="0.041" stop-color="#1188d3"/><stop offset="0.083" stop-color="#1381d5"/><stop offset="0.29" stop-color="#0871dd"/><stop offset="0.44" stop-color="#1384d4"/><stop offset="0.639" stop-color="#079dcf"/><stop offset="0.834" stop-color="#08a6c4"/><stop offset="1" stop-color="#0ba9c0"/></linearGradient><linearGradient id="a99"><stop offset="0" stop-color="#0b95d1"/><stop offset="0.041" stop-color="#1188d3"/><stop offset="0.079" stop-color="#1382d5"/><stop offset="0.29" stop-color="#0871dd"/><stop offset="0.444" stop-color="#1384d4"/><stop offset="0.639" stop-color="#079dcf"/><stop offset="0.83" stop-color="#08a6c4"/><stop offset="1" stop-color="#0ba9c0"/></linearGradient><linearGradient id="a100"><stop offset="0" stop-color="#0b94d1"/><stop offset="0.046" stop-color="#1287d3"/><stop offset="0.079" stop-color="#1382d5"/><stop offset="0.29" stop-color="#0871dd"/><stop offset="0.444" stop-color="#1384d4"/><stop offset="0.639" stop-color="#079dcf"/><stop offset="0.83" stop-color="#08a6c4"/><stop offset="1" stop-color="#0ba9bf"/></linearGradient><linearGradient id="a101"><stop offset="0" stop-color="#0b94d1"/><stop offset="0.05" stop-color="#1385d4"/><stop offset="0.091" stop-color="#1280d6"/><stop offset="0.29" stop-color="#0870dd"/><stop offset="0.448" stop-color="#1384d4"/><stop offset="0.639" stop-color="#079dcf"/><stop offset="0.83" stop-color="#08a7c4"/><stop offset="1" stop-color="#0ba9bf"/></linearGradient><linearGradient id="a102"><stop offset="0" stop-color="#0b93d1"/><stop offset="0.054" stop-color="#1384d4"/><stop offset="0.158" stop-color="#0e7ad8"/><stop offset="0.29" stop-color="#0770dd"/><stop offset="0.448" stop-color="#1384d4"/><stop offset="0.639" stop-color="#079dcf"/><stop offset="0.826" stop-color="#08a6c4"/><stop offset="1" stop-color="#0ba9bf"/></linearGradient><linearGradient id="a103"><stop offset="0" stop-color="#0c93d1"/><stop offset="0.054" stop-color="#1484d4"/><stop offset="0.166" stop-color="#0d79d9"/><stop offset="0.29" stop-color="#0770dd"/><stop offset="0.452" stop-color="#1384d4"/><stop offset="0.643" stop-color="#079dcf"/><stop offset="0.826" stop-color="#08a7c4"/><stop offset="1" stop-color="#0ba9bf"/></linearGradient><linearGradient id="a104"><stop offset="0" stop-color="#0c93d1"/><stop offset="0.054" stop-color="#1484d4"/><stop offset="0.174" stop-color="#0d78d9"/><stop offset="0.29" stop-color="#076fdd"/><stop offset="0.452" stop-color="#1384d4"/><stop offset="0.643" stop-color="#079dcf"/><stop offset="0.822" stop-color="#08a6c4"/><stop offset="1" stop-color="#0ba9bf"/></linearGradient><linearGradient id="a105"><stop offset="0" stop-color="#0c92d2"/><stop offset="0.058" stop-color="#1483d4"/><stop offset="0.207" stop-color="#0b75db"/><stop offset="0.29" stop-color="#076fde"/><stop offset="0.456" stop-color="#1384d4"/><stop offset="0.643" stop-color="#079dcf"/><stop offset="0.822" stop-color="#08a6c4"/><stop offset="1" stop-color="#0ba9bf"/></linearGradient><linearGradient id="a106"><stop offset="0" stop-color="#0c92d2"/><stop offset="0.062" stop-color="#1382d4"/><stop offset="0.232" stop-color="#0973dc"/><stop offset="0.295" stop-color="#076fdd"/><stop offset="0.456" stop-color="#1484d4"/><stop offset="0.643" stop-color="#079dcf"/><stop offset="0.822" stop-color="#08a7c4"/><stop offset="1" stop-color="#0ba9bf"/></linearGradient><linearGradient id="a107"><stop offset="0" stop-color="#0c92d2"/><stop offset="0.058" stop-color="#1482d4"/><stop offset="0.207" stop-color="#0a75db"/><stop offset="0.29" stop-color="#066fde"/><stop offset="0.461" stop-color="#1384d4"/><stop offset="0.643" stop-color="#079dcf"/><stop offset="0.817" stop-color="#08a6c4"/><stop offset="1" stop-color="#0ba9bf"/></linearGradient><linearGradient id="a108"><stop offset="0" stop-color="#0d91d2"/><stop offset="0.058" stop-color="#1482d4"/><stop offset="0.207" stop-color="#0a74db"/><stop offset="0.29" stop-color="#066ede"/><stop offset="0.461" stop-color="#1484d4"/><stop offset="0.643" stop-color="#079dcf"/><stop offset="0.813" stop-color="#08a6c4"/><stop offset="1" stop-color="#0ba9bf"/></linearGradient><linearGradient id="a109"><stop offset="0" stop-color="#0d91d2"/><stop offset="0.058" stop-color="#1382d4"/><stop offset="0.207" stop-color="#0a74db"/><stop offset="0.29" stop-color="#066ede"/><stop offset="0.465" stop-color="#1384d4"/><stop offset="0.643" stop-color="#079dcf"/><stop offset="0.813" stop-color="#08a6c4"/><stop offset="1" stop-color="#0ba9bf"/></linearGradient><linearGradient id="a110"><stop offset="0" stop-color="#0d91d2"/><stop offset="0.054" stop-color="#1482d4"/><stop offset="0.199" stop-color="#0a74db"/><stop offset="0.29" stop-color="#066ede"/><stop offset="0.469" stop-color="#1385d4"/><stop offset="0.647" stop-color="#079dcf"/><stop offset="0.813" stop-color="#08a7c4"/><stop offset="1" stop-color="#0ba9bf"/></linearGradient><linearGradient id="a111"><stop offset="0" stop-color="#0d90d2"/><stop offset="0.054" stop-color="#1382d4"/><stop offset="0.199" stop-color="#0a74db"/><stop offset="0.29" stop-color="#066ede"/><stop offset="0.469" stop-color="#1384d4"/><stop offset="0.647" stop-color="#079dcf"/><stop offset="0.809" stop-color="#08a6c4"/><stop offset="1" stop-color="#0ba9bf"/></linearGradient><linearGradient id="a112"><stop offset="0" stop-color="#0d90d2"/><stop offset="0.054" stop-color="#1382d4"/><stop offset="0.199" stop-color="#0a74db"/><stop offset="0.29" stop-color="#066dde"/><stop offset="0.473" stop-color="#1385d4"/><stop offset="0.647" stop-color="#079dcf"/><stop offset="0.809" stop-color="#08a6c4"/><stop offset="1" stop-color="#0ba9bf"/></linearGradient><linearGradient id="a113"><stop offset="0" stop-color="#0e8fd2"/><stop offset="0.054" stop-color="#1382d5"/><stop offset="0.199" stop-color="#0a74db"/><stop offset="0.29" stop-color="#056ddf"/><stop offset="0.473" stop-color="#1384d4"/><stop offset="0.647" stop-color="#079dcf"/><stop offset="0.809" stop-color="#08a7c4"/><stop offset="1" stop-color="#0baabf"/></linearGradient><linearGradient id="a114"><stop offset="0" stop-color="#0e8fd2"/><stop offset="0.05" stop-color="#1482d4"/><stop offset="0.17" stop-color="#0b76da"/><stop offset="0.29" stop-color="#056ddf"/><stop offset="0.477" stop-color="#1384d4"/><stop offset="0.647" stop-color="#079dcf"/><stop offset="0.805" stop-color="#08a6c4"/><stop offset="1" stop-color="#0baabf"/></linearGradient><linearGradient id="a115"><stop offset="0" stop-color="#0e8fd2"/><stop offset="0.05" stop-color="#1382d4"/><stop offset="0.174" stop-color="#0b75db"/><stop offset="0.29" stop-color="#056cdf"/><stop offset="0.477" stop-color="#1384d4"/><stop offset="0.647" stop-color="#079dcf"/><stop offset="0.805" stop-color="#08a7c4"/><stop offset="1" stop-color="#0baabf"/></linearGradient><linearGradient id="a116"><stop offset="0" stop-color="#0e8ed2"/><stop offset="0.05" stop-color="#1382d4"/><stop offset="0.174" stop-color="#0b75db"/><stop offset="0.29" stop-color="#056cdf"/><stop offset="0.481" stop-color="#1384d4"/><stop offset="0.647" stop-color="#079dcf"/><stop offset="0.801" stop-color="#08a6c4"/><stop offset="1" stop-color="#0caabf"/></linearGradient><linearGradient id="a117"><stop offset="0" stop-color="#0e8ed2"/><stop offset="0.05" stop-color="#1382d5"/><stop offset="0.174" stop-color="#0a75db"/><stop offset="0.29" stop-color="#056cdf"/><stop offset="0.481" stop-color="#1384d4"/><stop offset="0.647" stop-color="#079dcf"/><stop offset="0.801" stop-color="#08a7c4"/><stop offset="1" stop-color="#0caabf"/></linearGradient><linearGradient id="a118"><stop offset="0" stop-color="#0f8ed2"/><stop offset="0.046" stop-color="#1482d4"/><stop offset="0.162" stop-color="#0b75db"/><stop offset="0.29" stop-color="#046cdf"/><stop offset="0.481" stop-color="#1484d4"/><stop offset="0.647" stop-color="#079dcf"/><stop offset="0.801" stop-color="#08a7c4"/><stop offset="1" stop-color="#0caabf"/></linearGradient><linearGradient id="a119"><stop offset="0" stop-color="#0f8dd2"/><stop offset="0.046" stop-color="#1382d4"/><stop offset="0.162" stop-color="#0b75db"/><stop offset="0.29" stop-color="#046bdf"/><stop offset="0.485" stop-color="#1384d4"/><stop offset="0.647" stop-color="#079dcf"/><stop offset="0.797" stop-color="#08a6c4"/><stop offset="1" stop-color="#0caabf"/></linearGradient><linearGradient id="a120"><stop offset="0" stop-color="#0f8dd2"/><stop offset="0.046" stop-color="#1382d5"/><stop offset="0.166" stop-color="#0a75db"/><stop offset="0.29" stop-color="#046bdf"/><stop offset="0.485" stop-color="#1384d4"/><stop offset="0.647" stop-color="#079dcf"/><stop offset="0.797" stop-color="#08a6c4"/><stop offset="1" stop-color="#0caabe"/></linearGradient><linearGradient id="a121"><stop offset="0" stop-color="#0f8cd2"/><stop offset="0.046" stop-color="#1382d5"/><stop offset="0.166" stop-color="#0a74db"/><stop offset="0.29" stop-color="#046be0"/><stop offset="0.485" stop-color="#1384d4"/><stop offset="0.647" stop-color="#079dcf"/><stop offset="0.797" stop-color="#08a6c4"/><stop offset="1" stop-color="#0caabe"/></linearGradient><linearGradient id="a122"><stop offset="0" stop-color="#0f8cd3"/><stop offset="0.041" stop-color="#1382d4"/><stop offset="0.158" stop-color="#0b75db"/><stop offset="0.29" stop-color="#046be0"/><stop offset="0.485" stop-color="#1384d4"/><stop offset="0.651" stop-color="#079dce"/><stop offset="0.797" stop-color="#08a6c4"/><stop offset="1" stop-color="#0caabe"/></linearGradient><linearGradient id="a123"><stop offset="0" stop-color="#0f8cd3"/><stop offset="0.041" stop-color="#1382d5"/><stop offset="0.158" stop-color="#0b75db"/><stop offset="0.29" stop-color="#046ae0"/><stop offset="0.49" stop-color="#1385d4"/><stop offset="0.651" stop-color="#079dce"/><stop offset="0.797" stop-color="#08a7c4"/><stop offset="1" stop-color="#0caabe"/></linearGradient><linearGradient id="a124"><stop offset="0" stop-color="#108bd3"/><stop offset="0.041" stop-color="#1382d5"/><stop offset="0.158" stop-color="#0a75db"/><stop offset="0.29" stop-color="#036ae0"/><stop offset="0.49" stop-color="#1384d4"/><stop offset="0.651" stop-color="#079dce"/><stop offset="0.797" stop-color="#08a7c4"/><stop offset="1" stop-color="#0caabe"/></linearGradient><linearGradient id="a125"><stop offset="0" stop-color="#108bd3"/><stop offset="0.037" stop-color="#1382d4"/><stop offset="0.154" stop-color="#0a75db"/><stop offset="0.29" stop-color="#036ae0"/><stop offset="0.49" stop-color="#1384d4"/><stop offset="0.651" stop-color="#079dce"/><stop offset="0.797" stop-color="#08a7c4"/><stop offset="1" stop-color="#0caabe"/></linearGradient><linearGradient id="a126"><stop offset="0" stop-color="#108bd3"/><stop offset="0.037" stop-color="#1382d5"/><stop offset="0.154" stop-color="#0a74db"/><stop offset="0.29" stop-color="#036ae0"/><stop offset="0.49" stop-color="#1384d4"/><stop offset="0.651" stop-color="#079dce"/><stop offset="0.793" stop-color="#08a6c4"/><stop offset="1" stop-color="#0caabe"/></linearGradient><linearGradient id="a127"><stop offset="0" stop-color="#108ad3"/><stop offset="0.037" stop-color="#1382d5"/><stop offset="0.154" stop-color="#0a74db"/><stop offset="0.29" stop-color="#0369e0"/><stop offset="0.49" stop-color="#1484d4"/><stop offset="0.651" stop-color="#079dce"/><stop offset="0.793" stop-color="#08a6c4"/><stop offset="1" stop-color="#0caabe"/></linearGradient><linearGradient id="a128"><stop offset="0" stop-color="#108ad3"/><stop offset="0.033" stop-color="#1382d4"/><stop offset="0.149" stop-color="#0a74db"/><stop offset="0.29" stop-color="#0369e1"/><stop offset="0.494" stop-color="#1384d4"/><stop offset="0.651" stop-color="#079dce"/><stop offset="0.793" stop-color="#08a6c4"/><stop offset="1" stop-color="#0caabe"/></linearGradient><linearGradient id="a129"><stop offset="0" stop-color="#1189d3"/><stop offset="0.033" stop-color="#1382d5"/><stop offset="0.149" stop-color="#0a74db"/><stop offset="0.29" stop-color="#0269e1"/><stop offset="0.494" stop-color="#1384d4"/><stop offset="0.651" stop-color="#079dce"/><stop offset="0.793" stop-color="#08a7c4"/><stop offset="1" stop-color="#0caabe"/></linearGradient><linearGradient id="a130"><stop offset="0" stop-color="#1189d3"/><stop offset="0.033" stop-color="#1382d5"/><stop offset="0.154" stop-color="#0a74db"/><stop offset="0.29" stop-color="#0268e1"/><stop offset="0.494" stop-color="#1384d4"/><stop offset="0.651" stop-color="#079dce"/><stop offset="0.793" stop-color="#08a7c4"/><stop offset="1" stop-color="#0daabe"/></linearGradient><linearGradient id="a131"><stop offset="0" stop-color="#1189d3"/><stop offset="0.033" stop-color="#1382d5"/><stop offset="0.154" stop-color="#0a73dc"/><stop offset="0.29" stop-color="#0268e1"/><stop offset="0.494" stop-color="#1384d4"/><stop offset="0.651" stop-color="#079dce"/><stop offset="0.793" stop-color="#08a7c4"/><stop offset="1" stop-color="#0daabd"/></linearGradient><linearGradient id="a132"><stop offset="0" stop-color="#1188d3"/><stop offset="0.029" stop-color="#1382d5"/><stop offset="0.149" stop-color="#0a73db"/><stop offset="0.282" stop-color="#0367e1"/><stop offset="0.336" stop-color="#066ede"/><stop offset="0.498" stop-color="#1385d4"/><stop offset="0.651" stop-color="#079dce"/><stop offset="0.793" stop-color="#08a7c4"/><stop offset="0.996" stop-color="#0caabe"/><stop offset="1" stop-color="#0eaabd"/></linearGradient><linearGradient id="a133"><stop offset="0" stop-color="#1188d3"/><stop offset="0.029" stop-color="#1382d5"/><stop offset="0.149" stop-color="#0973dc"/><stop offset="0.278" stop-color="#0367e1"/><stop offset="0.286" stop-color="#0466e0"/><stop offset="0.299" stop-color="#0369e1"/><stop offset="0.498" stop-color="#1384d4"/><stop offset="0.651" stop-color="#079dcf"/><stop offset="0.788" stop-color="#08a6c4"/><stop offset="0.996" stop-color="#0daabd"/><stop offset="1" stop-color="#0faabc"/></linearGradient><linearGradient id="a134"><stop offset="0" stop-color="#1288d3"/><stop offset="0.029" stop-color="#1382d5"/><stop offset="0.149" stop-color="#0973dc"/><stop offset="0.274" stop-color="#0368e1"/><stop offset="0.286" stop-color="#0566e0"/><stop offset="0.299" stop-color="#0269e1"/><stop offset="0.498" stop-color="#1384d4"/><stop offset="0.651" stop-color="#079dcf"/><stop offset="0.788" stop-color="#08a6c4"/><stop offset="0.992" stop-color="#0caabe"/><stop offset="1" stop-color="#10aabc"/></linearGradient><linearGradient id="a135"><stop offset="0" stop-color="#1287d3"/><stop offset="0.029" stop-color="#1381d5"/><stop offset="0.154" stop-color="#0972dc"/><stop offset="0.274" stop-color="#0367e0"/><stop offset="0.286" stop-color="#0665df"/><stop offset="0.303" stop-color="#0369e1"/><stop offset="0.498" stop-color="#1384d4"/><stop offset="0.651" stop-color="#079dcf"/><stop offset="0.788" stop-color="#08a6c4"/><stop offset="0.992" stop-color="#0daabe"/><stop offset="1" stop-color="#1ab"/></linearGradient><linearGradient id="a136"><stop offset="0" stop-color="#1287d3"/><stop offset="0.025" stop-color="#1382d5"/><stop offset="0.149" stop-color="#0973dc"/><stop offset="0.27" stop-color="#0367e1"/><stop offset="0.286" stop-color="#0765df"/><stop offset="0.303" stop-color="#0269e1"/><stop offset="0.498" stop-color="#1484d4"/><stop offset="0.651" stop-color="#079dcf"/><stop offset="0.788" stop-color="#08a7c4"/><stop offset="0.992" stop-color="#0daabd"/><stop offset="1" stop-color="#12aabb"/></linearGradient><linearGradient id="a137"><stop offset="0" stop-color="#1287d3"/><stop offset="0.029" stop-color="#1381d5"/><stop offset="0.154" stop-color="#0972dc"/><stop offset="0.266" stop-color="#0367e1"/><stop offset="0.286" stop-color="#0764df"/><stop offset="0.303" stop-color="#0268e1"/><stop offset="0.502" stop-color="#1384d4"/><stop offset="0.651" stop-color="#079dcf"/><stop offset="0.788" stop-color="#08a7c4"/><stop offset="0.988" stop-color="#0caabe"/><stop offset="1" stop-color="#12abbb"/></linearGradient><linearGradient id="a138"><stop offset="0" stop-color="#1286d3"/><stop offset="0.029" stop-color="#1381d5"/><stop offset="0.154" stop-color="#0872dc"/><stop offset="0.261" stop-color="#0268e1"/><stop offset="0.286" stop-color="#0864df"/><stop offset="0.307" stop-color="#0269e1"/><stop offset="0.502" stop-color="#1384d4"/><stop offset="0.651" stop-color="#079dcf"/><stop offset="0.788" stop-color="#08a7c4"/><stop offset="0.988" stop-color="#0daabe"/><stop offset="1" stop-color="#13abba"/></linearGradient><linearGradient id="a139"><stop offset="0" stop-color="#1386d4"/><stop offset="0.025" stop-color="#1381d5"/><stop offset="0.154" stop-color="#0871dc"/><stop offset="0.261" stop-color="#0367e1"/><stop offset="0.286" stop-color="#0963de"/><stop offset="0.307" stop-color="#0268e1"/><stop offset="0.502" stop-color="#1384d4"/><stop offset="0.651" stop-color="#079dcf"/><stop offset="0.788" stop-color="#08a7c4"/><stop offset="0.983" stop-color="#0caabe"/><stop offset="1" stop-color="#14abba"/></linearGradient><linearGradient id="a140"><stop offset="0" stop-color="#1385d4"/><stop offset="0.033" stop-color="#1280d6"/><stop offset="0.154" stop-color="#0871dd"/><stop offset="0.257" stop-color="#0367e1"/><stop offset="0.286" stop-color="#0962de"/><stop offset="0.307" stop-color="#0268e1"/><stop offset="0.502" stop-color="#1484d4"/><stop offset="0.651" stop-color="#079dcf"/><stop offset="0.784" stop-color="#08a6c4"/><stop offset="0.983" stop-color="#0caabe"/><stop offset="1" stop-color="#15abb9"/></linearGradient><linearGradient id="a141"><stop offset="0" stop-color="#1385d4"/><stop offset="0.05" stop-color="#107dd7"/><stop offset="0.17" stop-color="#076fdd"/><stop offset="0.253" stop-color="#0368e1"/><stop offset="0.286" stop-color="#0a62de"/><stop offset="0.311" stop-color="#0268e1"/><stop offset="0.502" stop-color="#1484d4"/><stop offset="0.651" stop-color="#079dcf"/><stop offset="0.784" stop-color="#08a6c4"/><stop offset="0.983" stop-color="#0daabd"/><stop offset="1" stop-color="#16abb9"/></linearGradient><linearGradient id="a142"><stop offset="0" stop-color="#1385d4"/><stop offset="0.095" stop-color="#0c77da"/><stop offset="0.253" stop-color="#0367e1"/><stop offset="0.286" stop-color="#0b61de"/><stop offset="0.311" stop-color="#0268e1"/><stop offset="0.506" stop-color="#1384d4"/><stop offset="0.651" stop-color="#079dcf"/><stop offset="0.784" stop-color="#08a7c4"/><stop offset="0.979" stop-color="#0caabe"/><stop offset="1" stop-color="#16abb8"/></linearGradient><linearGradient id="a143"><stop offset="0" stop-color="#1384d4"/><stop offset="0.145" stop-color="#0871dd"/><stop offset="0.249" stop-color="#0367e1"/><stop offset="0.286" stop-color="#0b61dd"/><stop offset="0.315" stop-color="#0269e1"/><stop offset="0.506" stop-color="#1384d4"/><stop offset="0.651" stop-color="#079dcf"/><stop offset="0.784" stop-color="#08a7c4"/><stop offset="0.979" stop-color="#0daabe"/><stop offset="1" stop-color="#17abb8"/></linearGradient><linearGradient id="a144"><stop offset="0" stop-color="#1484d4"/><stop offset="0.12" stop-color="#0b75db"/><stop offset="0.274" stop-color="#0367e1"/><stop offset="0.286" stop-color="#0665e0"/><stop offset="0.299" stop-color="#0268e1"/><stop offset="0.49" stop-color="#1384d4"/><stop offset="0.631" stop-color="#079dcf"/><stop offset="0.776" stop-color="#08a7c4"/><stop offset="0.975" stop-color="#0caabe"/><stop offset="1" stop-color="#18abb8"/></linearGradient><linearGradient id="a145"><stop offset="0" stop-color="#1483d4"/><stop offset="0.12" stop-color="#0b76da"/><stop offset="0.212" stop-color="#0871dc"/><stop offset="0.29" stop-color="#046bdf"/><stop offset="0.461" stop-color="#1484d4"/><stop offset="0.606" stop-color="#079dcf"/><stop offset="0.768" stop-color="#08a7c4"/><stop offset="0.971" stop-color="#0caabe"/><stop offset="1" stop-color="#19abb7"/></linearGradient><linearGradient id="a146"><stop offset="0" stop-color="#1483d4"/><stop offset="0.124" stop-color="#0c77da"/><stop offset="0.245" stop-color="#0972dc"/><stop offset="0.29" stop-color="#076fde"/><stop offset="0.436" stop-color="#1384d4"/><stop offset="0.577" stop-color="#079dcf"/><stop offset="0.71" stop-color="#07a5c6"/><stop offset="0.967" stop-color="#0caabe"/><stop offset="1" stop-color="#19abb7"/></linearGradient><linearGradient id="a147"><stop offset="0" stop-color="#1482d4"/><stop offset="0.071" stop-color="#107dd7"/><stop offset="0.129" stop-color="#0d78d9"/><stop offset="0.278" stop-color="#0973dc"/><stop offset="0.324" stop-color="#0d78d9"/><stop offset="0.407" stop-color="#1384d4"/><stop offset="0.548" stop-color="#079dcf"/><stop offset="0.693" stop-color="#07a5c6"/><stop offset="0.963" stop-color="#0caabe"/><stop offset="1" stop-color="#1aabb7"/></linearGradient><linearGradient id="a148"><stop offset="0" stop-color="#1382d4"/><stop offset="0.079" stop-color="#107dd7"/><stop offset="0.129" stop-color="#0d79d9"/><stop offset="0.295" stop-color="#0c78d9"/><stop offset="0.382" stop-color="#1385d4"/><stop offset="0.523" stop-color="#079dcf"/><stop offset="0.743" stop-color="#08a7c3"/><stop offset="0.959" stop-color="#0caabe"/><stop offset="1" stop-color="#1babb6"/></linearGradient><linearGradient id="a149"><stop offset="0" stop-color="#1382d5"/><stop offset="0.133" stop-color="#0e7ad8"/><stop offset="0.295" stop-color="#0f7cd8"/><stop offset="0.353" stop-color="#1384d4"/><stop offset="0.494" stop-color="#079dcf"/><stop offset="0.739" stop-color="#08a7c3"/><stop offset="0.954" stop-color="#0caabe"/><stop offset="1" stop-color="#1babb6"/></linearGradient><linearGradient id="a150"><stop offset="0" stop-color="#1381d5"/><stop offset="0.079" stop-color="#107dd7"/><stop offset="0.162" stop-color="#0f7bd8"/><stop offset="0.29" stop-color="#117fd6"/><stop offset="0.328" stop-color="#1385d4"/><stop offset="0.465" stop-color="#079dcf"/><stop offset="0.73" stop-color="#09a7c3"/><stop offset="0.95" stop-color="#0caabe"/><stop offset="1" stop-color="#1cabb5"/></linearGradient><linearGradient id="a151"><stop offset="0" stop-color="#1381d5"/><stop offset="0.141" stop-color="#107cd7"/><stop offset="0.278" stop-color="#1381d5"/><stop offset="0.315" stop-color="#1288d3"/><stop offset="0.44" stop-color="#079dcf"/><stop offset="0.726" stop-color="#09a7c2"/><stop offset="0.946" stop-color="#0caabe"/><stop offset="1" stop-color="#1dabb5"/></linearGradient><linearGradient id="a152"><stop offset="0" stop-color="#1281d5"/><stop offset="0.141" stop-color="#107ed7"/><stop offset="0.257" stop-color="#1483d4"/><stop offset="0.411" stop-color="#079dcf"/><stop offset="0.689" stop-color="#08a7c3"/><stop offset="0.942" stop-color="#0caabe"/><stop offset="1" stop-color="#1dabb5"/></linearGradient><linearGradient id="a153"><stop offset="0" stop-color="#1280d5"/><stop offset="0.145" stop-color="#117fd6"/><stop offset="0.232" stop-color="#1484d4"/><stop offset="0.386" stop-color="#079dcf"/><stop offset="0.651" stop-color="#08a7c4"/><stop offset="0.938" stop-color="#0caabe"/><stop offset="1" stop-color="#1eacb4"/></linearGradient><linearGradient id="a154"><stop offset="0" stop-color="#1280d6"/><stop offset="0.145" stop-color="#1280d5"/><stop offset="0.207" stop-color="#1385d4"/><stop offset="0.357" stop-color="#079dcf"/><stop offset="0.618" stop-color="#08a7c4"/><stop offset="0.938" stop-color="#0eaabd"/><stop offset="1" stop-color="#1facb4"/></linearGradient><linearGradient id="a155"><stop offset="0" stop-color="#127fd6"/><stop offset="0.137" stop-color="#1381d5"/><stop offset="0.183" stop-color="#1386d4"/><stop offset="0.332" stop-color="#079dcf"/><stop offset="0.589" stop-color="#08a6c4"/><stop offset="0.934" stop-color="#0eaabd"/><stop offset="1" stop-color="#1facb4"/></linearGradient><linearGradient id="a156"><stop offset="0" stop-color="#117fd6"/><stop offset="0.12" stop-color="#1381d5"/><stop offset="0.162" stop-color="#1287d3"/><stop offset="0.303" stop-color="#079dcf"/><stop offset="0.564" stop-color="#08a7c4"/><stop offset="0.929" stop-color="#0eaabd"/><stop offset="1" stop-color="#20acb3"/></linearGradient><linearGradient id="a157"><stop offset="0" stop-color="#117ed6"/><stop offset="0.112" stop-color="#1382d4"/><stop offset="0.29" stop-color="#079ece"/><stop offset="0.539" stop-color="#08a7c4"/><stop offset="0.913" stop-color="#0daabd"/><stop offset="1" stop-color="#25acb1"/></linearGradient><linearGradient id="a158"><stop offset="0" stop-color="#117ed6"/><stop offset="0.108" stop-color="#1382d5"/><stop offset="0.174" stop-color="#0f8cd2"/><stop offset="0.286" stop-color="#079ece"/><stop offset="0.527" stop-color="#08a7c4"/><stop offset="0.884" stop-color="#0daabe"/><stop offset="0.983" stop-color="#29acaf"/><stop offset="1" stop-color="#2fadac"/></linearGradient><linearGradient id="a159"><stop offset="0" stop-color="#107dd7"/><stop offset="0.104" stop-color="#1381d5"/><stop offset="0.145" stop-color="#1288d3"/><stop offset="0.278" stop-color="#079ece"/><stop offset="0.498" stop-color="#08a6c4"/><stop offset="0.859" stop-color="#0daabd"/><stop offset="0.959" stop-color="#29acaf"/><stop offset="1" stop-color="#38aea7"/></linearGradient><linearGradient id="a160"><stop offset="0" stop-color="#107dd7"/><stop offset="0.104" stop-color="#1381d5"/><stop offset="0.141" stop-color="#1287d3"/><stop offset="0.274" stop-color="#079ece"/><stop offset="0.477" stop-color="#08a6c4"/><stop offset="0.834" stop-color="#0daabd"/><stop offset="0.938" stop-color="#2badae"/><stop offset="1" stop-color="#41aea2"/></linearGradient><linearGradient id="a161"><stop offset="0" stop-color="#0f7cd7"/><stop offset="0.087" stop-color="#1280d5"/><stop offset="0.129" stop-color="#1385d4"/><stop offset="0.27" stop-color="#079ece"/><stop offset="0.353" stop-color="#07a3c8"/><stop offset="0.573" stop-color="#09a8c2"/><stop offset="0.805" stop-color="#0daabe"/><stop offset="0.913" stop-color="#2badae"/><stop offset="1" stop-color="#4aaf9d"/></linearGradient><linearGradient id="a162"><stop offset="0" stop-color="#0f7bd8"/><stop offset="0.058" stop-color="#107ed7"/><stop offset="0.124" stop-color="#1385d4"/><stop offset="0.261" stop-color="#079dce"/><stop offset="0.311" stop-color="#07a2c9"/><stop offset="0.485" stop-color="#08a7c4"/><stop offset="0.78" stop-color="#0daabd"/><stop offset="0.892" stop-color="#2cadad"/><stop offset="1" stop-color="#54b098"/></linearGradient><linearGradient id="a163"><stop offset="0" stop-color="#0e7bd8"/><stop offset="0.062" stop-color="#117ed6"/><stop offset="0.124" stop-color="#1385d4"/><stop offset="0.257" stop-color="#079ece"/><stop offset="0.307" stop-color="#07a3c9"/><stop offset="0.485" stop-color="#08a7c3"/><stop offset="0.755" stop-color="#0eaabd"/><stop offset="0.876" stop-color="#2fadab"/><stop offset="1" stop-color="#5db193"/></linearGradient><linearGradient id="a164"><stop offset="0" stop-color="#0e7ad8"/><stop offset="0.062" stop-color="#117ed6"/><stop offset="0.12" stop-color="#1384d4"/><stop offset="0.253" stop-color="#079ece"/><stop offset="0.307" stop-color="#07a4c8"/><stop offset="0.635" stop-color="#0ba9c0"/><stop offset="0.726" stop-color="#0daabe"/><stop offset="0.855" stop-color="#31adaa"/><stop offset="0.979" stop-color="#5eb192"/><stop offset="1" stop-color="#66b28e"/></linearGradient><linearGradient id="a165"><stop offset="0" stop-color="#0e79d9"/><stop offset="0.062" stop-color="#107ed7"/><stop offset="0.12" stop-color="#1385d4"/><stop offset="0.245" stop-color="#079dcf"/><stop offset="0.303" stop-color="#07a4c7"/><stop offset="0.701" stop-color="#0daabd"/><stop offset="0.838" stop-color="#34ada9"/><stop offset="0.954" stop-color="#5eb193"/><stop offset="1" stop-color="#6fb289"/></linearGradient><linearGradient id="a166"><stop offset="0" stop-color="#0d79d9"/><stop offset="0.062" stop-color="#107dd7"/><stop offset="0.12" stop-color="#1385d4"/><stop offset="0.241" stop-color="#079dce"/><stop offset="0.303" stop-color="#07a5c6"/><stop offset="0.672" stop-color="#0daabe"/><stop offset="0.822" stop-color="#36aea7"/><stop offset="0.925" stop-color="#5bb194"/><stop offset="1" stop-color="#79b384"/></linearGradient><linearGradient id="a167"><stop offset="0" stop-color="#0d78d9"/><stop offset="0.062" stop-color="#107dd7"/><stop offset="0.116" stop-color="#1384d4"/><stop offset="0.237" stop-color="#079ece"/><stop offset="0.303" stop-color="#07a6c5"/><stop offset="0.647" stop-color="#0daabd"/><stop offset="0.809" stop-color="#3aaea5"/><stop offset="0.905" stop-color="#5db193"/><stop offset="1" stop-color="#82b47f"/></linearGradient><linearGradient id="a168"><stop offset="0" stop-color="#0c77da"/><stop offset="0.062" stop-color="#107cd7"/><stop offset="0.116" stop-color="#1384d4"/><stop offset="0.232" stop-color="#079ece"/><stop offset="0.299" stop-color="#07a6c5"/><stop offset="0.627" stop-color="#0caabe"/><stop offset="0.68" stop-color="#1dabb5"/><stop offset="0.834" stop-color="#4aaf9d"/><stop offset="1" stop-color="#8bb57a"/></linearGradient><linearGradient id="a169"><stop offset="0" stop-color="#0c77da"/><stop offset="0.062" stop-color="#0f7cd7"/><stop offset="0.116" stop-color="#1385d4"/><stop offset="0.224" stop-color="#079dcf"/><stop offset="0.295" stop-color="#07a6c5"/><stop offset="0.61" stop-color="#0daabe"/><stop offset="0.66" stop-color="#1eabb4"/><stop offset="0.813" stop-color="#4baf9c"/><stop offset="1" stop-color="#94b575"/></linearGradient><linearGradient id="a170"><stop offset="0" stop-color="#0b76da"/><stop offset="0.062" stop-color="#0f7cd8"/><stop offset="0.116" stop-color="#1385d4"/><stop offset="0.22" stop-color="#079dcf"/><stop offset="0.29" stop-color="#07a6c5"/><stop offset="0.593" stop-color="#0daabd"/><stop offset="0.656" stop-color="#24acb1"/><stop offset="0.797" stop-color="#4eb09b"/><stop offset="1" stop-color="#9eb670"/></linearGradient><linearGradient id="a171"><stop offset="0" stop-color="#0b75db"/><stop offset="0.062" stop-color="#0f7bd8"/><stop offset="0.112" stop-color="#1384d4"/><stop offset="0.216" stop-color="#079dce"/><stop offset="0.286" stop-color="#08a6c4"/><stop offset="0.577" stop-color="#0eaabd"/><stop offset="0.656" stop-color="#2badae"/><stop offset="0.776" stop-color="#4fb09a"/><stop offset="1" stop-color="#a7b76b"/></linearGradient><linearGradient id="a172"><stop offset="0" stop-color="#0b75db"/><stop offset="0.062" stop-color="#0f7bd8"/><stop offset="0.112" stop-color="#1384d4"/><stop offset="0.212" stop-color="#079ece"/><stop offset="0.282" stop-color="#08a6c4"/><stop offset="0.556" stop-color="#0caabe"/><stop offset="0.656" stop-color="#32adaa"/><stop offset="0.755" stop-color="#50b099"/><stop offset="1" stop-color="#b0b866"/></linearGradient><linearGradient id="a173"><stop offset="0" stop-color="#0a74db"/><stop offset="0.062" stop-color="#0e7ad8"/><stop offset="0.112" stop-color="#1385d4"/><stop offset="0.203" stop-color="#079dcf"/><stop offset="0.278" stop-color="#08a6c4"/><stop offset="0.539" stop-color="#0daabe"/><stop offset="0.656" stop-color="#39aea6"/><stop offset="0.734" stop-color="#52b099"/><stop offset="1" stop-color="#bab861"/></linearGradient><linearGradient id="a174"><stop offset="0" stop-color="#0a73db"/><stop offset="0.062" stop-color="#0e7ad8"/><stop offset="0.108" stop-color="#1484d4"/><stop offset="0.199" stop-color="#079dcf"/><stop offset="0.274" stop-color="#08a7c4"/><stop offset="0.523" stop-color="#0daabd"/><stop offset="0.656" stop-color="#40aea2"/><stop offset="0.718" stop-color="#54b097"/><stop offset="1" stop-color="#c3b95c"/></linearGradient><linearGradient id="a175"><stop offset="0" stop-color="#0973dc"/><stop offset="0.066" stop-color="#0e7bd8"/><stop offset="0.108" stop-color="#1384d4"/><stop offset="0.195" stop-color="#079dcf"/><stop offset="0.266" stop-color="#08a6c4"/><stop offset="0.506" stop-color="#0daabd"/><stop offset="0.656" stop-color="#47af9f"/><stop offset="1" stop-color="#ccba58"/></linearGradient><linearGradient id="a176"><stop offset="0" stop-color="#0972dc"/><stop offset="0.066" stop-color="#0e7ad8"/><stop offset="0.108" stop-color="#1384d4"/><stop offset="0.187" stop-color="#079dcf"/><stop offset="0.261" stop-color="#08a6c4"/><stop offset="0.485" stop-color="#0caabe"/><stop offset="1" stop-color="#d5bb53"/></linearGradient><linearGradient id="a177"><stop offset="0" stop-color="#0871dc"/><stop offset="0.058" stop-color="#0c77da"/><stop offset="0.108" stop-color="#1483d4"/><stop offset="0.191" stop-color="#079dcf"/><stop offset="0.266" stop-color="#08a6c4"/><stop offset="0.494" stop-color="#0daabe"/><stop offset="1" stop-color="#d3bb54"/></linearGradient><linearGradient id="a178"><stop offset="0" stop-color="#0871dd"/><stop offset="0.054" stop-color="#0973dc"/><stop offset="0.112" stop-color="#1484d4"/><stop offset="0.195" stop-color="#079dcf"/><stop offset="0.27" stop-color="#08a6c4"/><stop offset="0.502" stop-color="#0caabe"/><stop offset="1" stop-color="#d0ba56"/></linearGradient><linearGradient id="a179"><stop offset="0" stop-color="#0770dd"/><stop offset="0.054" stop-color="#0871dd"/><stop offset="0.1" stop-color="#1280d6"/><stop offset="0.12" stop-color="#1385d4"/><stop offset="0.199" stop-color="#079dcf"/><stop offset="0.278" stop-color="#08a7c4"/><stop offset="0.515" stop-color="#0daabd"/><stop offset="1" stop-color="#cdba57"/></linearGradient><linearGradient id="a180"><stop offset="0" stop-color="#076fde"/><stop offset="0.054" stop-color="#066ede"/><stop offset="0.104" stop-color="#1280d5"/><stop offset="0.12" stop-color="#1384d4"/><stop offset="0.203" stop-color="#079dcf"/><stop offset="0.282" stop-color="#08a7c4"/><stop offset="0.523" stop-color="#0daabe"/><stop offset="1" stop-color="#c9ba59"/></linearGradient><linearGradient id="a181"><stop offset="0" stop-color="#066ede"/><stop offset="0.054" stop-color="#056cdf"/><stop offset="0.108" stop-color="#1280d5"/><stop offset="0.129" stop-color="#1286d4"/><stop offset="0.207" stop-color="#079dcf"/><stop offset="0.286" stop-color="#08a7c4"/><stop offset="0.531" stop-color="#0caabe"/><stop offset="1" stop-color="#c6b95b"/></linearGradient><linearGradient id="a182"><stop offset="0" stop-color="#066ede"/><stop offset="0.054" stop-color="#036ae0"/><stop offset="0.112" stop-color="#1280d5"/><stop offset="0.133" stop-color="#1286d3"/><stop offset="0.212" stop-color="#079dcf"/><stop offset="0.286" stop-color="#07a6c4"/><stop offset="0.544" stop-color="#0daabd"/><stop offset="1" stop-color="#c2b95d"/></linearGradient><linearGradient id="a183"><stop offset="0" stop-color="#056ddf"/><stop offset="0.05" stop-color="#0367e1"/><stop offset="0.054" stop-color="#0467e0"/><stop offset="0.066" stop-color="#056ddf"/><stop offset="0.116" stop-color="#1281d5"/><stop offset="0.137" stop-color="#1286d3"/><stop offset="0.216" stop-color="#079dcf"/><stop offset="0.29" stop-color="#07a6c4"/><stop offset="0.548" stop-color="#0daabe"/><stop offset="1" stop-color="#c2b95d"/></linearGradient><linearGradient id="a184"><stop offset="0" stop-color="#046bdf"/><stop offset="0.037" stop-color="#0367e0"/><stop offset="0.054" stop-color="#0a62de"/><stop offset="0.058" stop-color="#0466e0"/><stop offset="0.066" stop-color="#046be0"/><stop offset="0.124" stop-color="#1381d5"/><stop offset="0.154" stop-color="#108ad3"/><stop offset="0.216" stop-color="#079dcf"/><stop offset="0.29" stop-color="#07a6c4"/><stop offset="0.544" stop-color="#0daabe"/><stop offset="1" stop-color="#c7ba5a"/></linearGradient><linearGradient id="a185"><stop offset="0" stop-color="#036ae0"/><stop offset="0.025" stop-color="#0467e0"/><stop offset="0.054" stop-color="#105ddb"/><stop offset="0.062" stop-color="#0566e0"/><stop offset="0.066" stop-color="#0369e1"/><stop offset="0.129" stop-color="#1381d5"/><stop offset="0.149" stop-color="#1288d3"/><stop offset="0.22" stop-color="#079dcf"/><stop offset="0.29" stop-color="#07a6c4"/><stop offset="0.539" stop-color="#0caabe"/><stop offset="0.996" stop-color="#c9ba59"/><stop offset="1" stop-color="#cbba58"/></linearGradient><linearGradient id="a186"><stop offset="0" stop-color="#0268e1"/><stop offset="0.025" stop-color="#0863df"/><stop offset="0.054" stop-color="#1659d9"/><stop offset="0.066" stop-color="#0565e0"/><stop offset="0.071" stop-color="#0269e1"/><stop offset="0.133" stop-color="#1381d5"/><stop offset="0.154" stop-color="#1288d3"/><stop offset="0.22" stop-color="#079dcf"/><stop offset="0.29" stop-color="#07a6c4"/><stop offset="0.535" stop-color="#0caabe"/><stop offset="0.988" stop-color="#caba59"/><stop offset="1" stop-color="#d0ba55"/></linearGradient><linearGradient id="a187"><stop offset="0" stop-color="#0466e0"/><stop offset="0.037" stop-color="#125cda"/><stop offset="0.054" stop-color="#1c54d5"/><stop offset="0.071" stop-color="#0665e0"/><stop offset="0.075" stop-color="#0268e1"/><stop offset="0.141" stop-color="#1382d4"/><stop offset="0.224" stop-color="#079dce"/><stop offset="0.29" stop-color="#07a6c4"/><stop offset="0.531" stop-color="#0caabe"/><stop offset="0.979" stop-color="#cbba58"/><stop offset="1" stop-color="#d5bb53"/></linearGradient><linearGradient id="a188"><stop offset="0" stop-color="#0864df"/><stop offset="0.037" stop-color="#1758d9"/><stop offset="0.046" stop-color="#1c54d5"/><stop offset="0.054" stop-color="#214fcd"/><stop offset="0.058" stop-color="#1d54d4"/><stop offset="0.075" stop-color="#0665df"/><stop offset="0.079" stop-color="#0268e1"/><stop offset="0.149" stop-color="#1483d4"/><stop offset="0.224" stop-color="#079dcf"/><stop offset="0.29" stop-color="#07a6c4"/><stop offset="0.531" stop-color="#0daabd"/><stop offset="0.975" stop-color="#ceba57"/><stop offset="1" stop-color="#dabb50"/></linearGradient><linearGradient id="a189"><stop offset="0" stop-color="#0b61dd"/><stop offset="0.037" stop-color="#1c54d5"/><stop offset="0.054" stop-color="#264bc5"/><stop offset="0.062" stop-color="#1d53d4"/><stop offset="0.075" stop-color="#0c60dd"/><stop offset="0.083" stop-color="#0268e1"/><stop offset="0.154" stop-color="#1483d4"/><stop offset="0.228" stop-color="#079dce"/><stop offset="0.29" stop-color="#07a6c4"/><stop offset="0.527" stop-color="#0daabd"/><stop offset="0.68" stop-color="#50b09a"/><stop offset="0.971" stop-color="#d0ba55"/><stop offset="1" stop-color="#debc4e"/></linearGradient><linearGradient id="a190"><stop offset="0" stop-color="#0f5edc"/><stop offset="0.029" stop-color="#1c54d6"/><stop offset="0.054" stop-color="#2b46bd"/><stop offset="0.066" stop-color="#1d53d3"/><stop offset="0.075" stop-color="#125cda"/><stop offset="0.087" stop-color="#0268e1"/><stop offset="0.158" stop-color="#1483d4"/><stop offset="0.228" stop-color="#079dcf"/><stop offset="0.29" stop-color="#07a6c4"/><stop offset="0.523" stop-color="#0daabd"/><stop offset="0.676" stop-color="#51b099"/><stop offset="0.967" stop-color="#d3bb54"/><stop offset="1" stop-color="#e3bc4b"/></linearGradient><linearGradient id="a191"><stop offset="0" stop-color="#125cdb"/><stop offset="0.021" stop-color="#1b55d6"/><stop offset="0.037" stop-color="#254cc7"/><stop offset="0.054" stop-color="#3042b5"/><stop offset="0.071" stop-color="#1e53d3"/><stop offset="0.079" stop-color="#135bda"/><stop offset="0.091" stop-color="#0368e1"/><stop offset="0.162" stop-color="#1483d4"/><stop offset="0.232" stop-color="#079dce"/><stop offset="0.29" stop-color="#07a6c4"/><stop offset="0.519" stop-color="#0daabe"/><stop offset="0.963" stop-color="#d6bb52"/><stop offset="1" stop-color="#e8bc49"/></linearGradient><linearGradient id="a192"><stop offset="0" stop-color="#1659d9"/><stop offset="0.017" stop-color="#1d53d4"/><stop offset="0.029" stop-color="#244dc9"/><stop offset="0.054" stop-color="#343dad"/><stop offset="0.075" stop-color="#1e52d2"/><stop offset="0.079" stop-color="#1957d8"/><stop offset="0.095" stop-color="#0367e1"/><stop offset="0.17" stop-color="#1384d4"/><stop offset="0.232" stop-color="#079dcf"/><stop offset="0.29" stop-color="#07a6c4"/><stop offset="0.515" stop-color="#0daabe"/><stop offset="0.967" stop-color="#dcbb4f"/><stop offset="1" stop-color="#edbd46"/></linearGradient><linearGradient id="a193"><stop offset="0" stop-color="#1956d8"/><stop offset="0.017" stop-color="#2050cf"/><stop offset="0.046" stop-color="#343eae"/><stop offset="0.054" stop-color="#3439a6"/><stop offset="0.058" stop-color="#343dad"/><stop offset="0.083" stop-color="#1956d8"/><stop offset="0.1" stop-color="#0367e0"/><stop offset="0.145" stop-color="#0e79d9"/><stop offset="0.174" stop-color="#1384d4"/><stop offset="0.232" stop-color="#079dcf"/><stop offset="0.29" stop-color="#07a6c4"/><stop offset="0.51" stop-color="#0caabe"/><stop offset="0.983" stop-color="#e9bc48"/><stop offset="1" stop-color="#f1bd44"/></linearGradient><linearGradient id="a194"><stop offset="0" stop-color="#1c54d5"/><stop offset="0.012" stop-color="#214fcd"/><stop offset="0.037" stop-color="#343eb0"/><stop offset="0.054" stop-color="#34359e"/><stop offset="0.062" stop-color="#343dac"/><stop offset="0.087" stop-color="#1a56d8"/><stop offset="0.104" stop-color="#0467e0"/><stop offset="0.116" stop-color="#056cdf"/><stop offset="0.178" stop-color="#1484d4"/><stop offset="0.237" stop-color="#079dcf"/><stop offset="0.29" stop-color="#07a6c4"/><stop offset="0.506" stop-color="#0caabe"/><stop offset="1" stop-color="#f6be41"/></linearGradient><linearGradient id="a195"><stop offset="0" stop-color="#1f51d1"/><stop offset="0.012" stop-color="#264ac5"/><stop offset="0.033" stop-color="#343dad"/><stop offset="0.054" stop-color="#353196"/><stop offset="0.066" stop-color="#343cac"/><stop offset="0.083" stop-color="#244dc9"/><stop offset="0.091" stop-color="#1a56d7"/><stop offset="0.108" stop-color="#0466e0"/><stop offset="0.116" stop-color="#046ae0"/><stop offset="0.183" stop-color="#1484d4"/><stop offset="0.237" stop-color="#079dcf"/><stop offset="0.29" stop-color="#07a6c4"/><stop offset="0.502" stop-color="#0caabe"/><stop offset="1" stop-color="#fbbe3f"/></linearGradient><linearGradient id="a196"><stop offset="0" stop-color="#214fcd"/><stop offset="0.008" stop-color="#224ecb"/><stop offset="0.033" stop-color="#343eae"/><stop offset="0.054" stop-color="#353297"/><stop offset="0.066" stop-color="#343dae"/><stop offset="0.087" stop-color="#1e52d2"/><stop offset="0.091" stop-color="#1957d8"/><stop offset="0.108" stop-color="#0367e1"/><stop offset="0.178" stop-color="#1483d4"/><stop offset="0.237" stop-color="#079dcf"/><stop offset="0.286" stop-color="#07a6c4"/><stop offset="0.498" stop-color="#0daabe"/><stop offset="0.992" stop-color="#fcbe3e"/><stop offset="1" stop-color="#fcbf3d"/></linearGradient><linearGradient id="a197"><stop offset="0" stop-color="#224fcc"/><stop offset="0.029" stop-color="#214fcd"/><stop offset="0.054" stop-color="#3240b3"/><stop offset="0.075" stop-color="#1b55d7"/><stop offset="0.091" stop-color="#0466e0"/><stop offset="0.1" stop-color="#046bdf"/><stop offset="0.162" stop-color="#1484d4"/><stop offset="0.216" stop-color="#079dcf"/><stop offset="0.278" stop-color="#07a6c4"/><stop offset="0.485" stop-color="#0daabd"/><stop offset="0.967" stop-color="#fcbe3e"/><stop offset="1" stop-color="#fdc03c"/></linearGradient><linearGradient id="a198"><stop offset="0" stop-color="#234ecb"/><stop offset="0.008" stop-color="#214fcd"/><stop offset="0.054" stop-color="#2150ce"/><stop offset="0.058" stop-color="#1c54d5"/><stop offset="0.075" stop-color="#0665e0"/><stop offset="0.079" stop-color="#0269e1"/><stop offset="0.141" stop-color="#1483d4"/><stop offset="0.195" stop-color="#079cd0"/><stop offset="0.27" stop-color="#07a6c4"/><stop offset="0.469" stop-color="#0caabe"/><stop offset="0.718" stop-color="#8ab47b"/><stop offset="0.946" stop-color="#fcbe3e"/><stop offset="1" stop-color="#fec13a"/></linearGradient><linearGradient id="a199"><stop offset="0" stop-color="#244dc9"/><stop offset="0.004" stop-color="#214fcd"/><stop offset="0.041" stop-color="#214fcd"/><stop offset="0.046" stop-color="#1c54d6"/><stop offset="0.058" stop-color="#0764df"/><stop offset="0.062" stop-color="#0268e1"/><stop offset="0.124" stop-color="#1484d4"/><stop offset="0.174" stop-color="#089bd0"/><stop offset="0.261" stop-color="#07a6c4"/><stop offset="0.456" stop-color="#0daabe"/><stop offset="0.689" stop-color="#84b47e"/><stop offset="0.925" stop-color="#fcbe3e"/><stop offset="0.996" stop-color="#fec438"/><stop offset="1" stop-color="#fec537"/></linearGradient><linearGradient id="a200"><stop offset="0" stop-color="#244cc8"/><stop offset="0.004" stop-color="#214fcd"/><stop offset="0.029" stop-color="#214fcd"/><stop offset="0.037" stop-color="#1659d9"/><stop offset="0.046" stop-color="#0765df"/><stop offset="0.05" stop-color="#0369e0"/><stop offset="0.104" stop-color="#1483d4"/><stop offset="0.158" stop-color="#079bd0"/><stop offset="0.253" stop-color="#07a6c4"/><stop offset="0.444" stop-color="#0daabd"/><stop offset="0.68" stop-color="#89b47b"/><stop offset="0.9" stop-color="#fcbe3e"/><stop offset="0.975" stop-color="#fec438"/><stop offset="1" stop-color="#fdcb32"/></linearGradient><linearGradient id="a201"><stop offset="0" stop-color="#254cc7"/><stop offset="0.004" stop-color="#214fcd"/><stop offset="0.017" stop-color="#214fcd"/><stop offset="0.021" stop-color="#1e53d3"/><stop offset="0.029" stop-color="#0f5edc"/><stop offset="0.037" stop-color="#0269e1"/><stop offset="0.062" stop-color="#0d78d9"/><stop offset="0.087" stop-color="#1483d4"/><stop offset="0.137" stop-color="#089bd0"/><stop offset="0.245" stop-color="#07a6c4"/><stop offset="0.427" stop-color="#0caabe"/><stop offset="0.88" stop-color="#fcbe3e"/><stop offset="0.95" stop-color="#fec338"/><stop offset="1" stop-color="#fcd12e"/></linearGradient><linearGradient id="a202"><stop offset="0" stop-color="#264bc5"/><stop offset="0.004" stop-color="#214fcd"/><stop offset="0.008" stop-color="#1f52d1"/><stop offset="0.012" stop-color="#1857d8"/><stop offset="0.025" stop-color="#0268e1"/><stop offset="0.058" stop-color="#117fd6"/><stop offset="0.071" stop-color="#1484d4"/><stop offset="0.116" stop-color="#089ad0"/><stop offset="0.237" stop-color="#07a6c4"/><stop offset="0.415" stop-color="#0caabe"/><stop offset="0.855" stop-color="#fbbe3e"/><stop offset="0.929" stop-color="#fec438"/><stop offset="1" stop-color="#fbd729"/></linearGradient><linearGradient id="a203"><stop offset="0" stop-color="#2c46bc"/><stop offset="0.008" stop-color="#1e52d2"/><stop offset="0.012" stop-color="#1758d8"/><stop offset="0.025" stop-color="#0269e1"/><stop offset="0.058" stop-color="#1280d5"/><stop offset="0.071" stop-color="#1386d4"/><stop offset="0.112" stop-color="#079bd0"/><stop offset="0.228" stop-color="#08a6c4"/><stop offset="0.398" stop-color="#0caabe"/><stop offset="0.834" stop-color="#fcbe3e"/><stop offset="0.905" stop-color="#fec338"/><stop offset="1" stop-color="#fade24"/></linearGradient><linearGradient id="a204"><stop offset="0" stop-color="#333fb1"/><stop offset="0.012" stop-color="#1e52d2"/><stop offset="0.017" stop-color="#1758d9"/><stop offset="0.025" stop-color="#0764df"/><stop offset="0.029" stop-color="#0369e0"/><stop offset="0.062" stop-color="#1281d5"/><stop offset="0.071" stop-color="#1385d4"/><stop offset="0.108" stop-color="#079cd0"/><stop offset="0.22" stop-color="#08a6c4"/><stop offset="0.382" stop-color="#0caabe"/><stop offset="0.809" stop-color="#fcbe3e"/><stop offset="0.88" stop-color="#fec338"/><stop offset="1" stop-color="#fae51f"/></linearGradient><linearGradient id="a205"><stop offset="0" stop-color="#3439a5"/><stop offset="0.004" stop-color="#333fb1"/><stop offset="0.017" stop-color="#1e52d3"/><stop offset="0.021" stop-color="#1659d9"/><stop offset="0.029" stop-color="#0565e0"/><stop offset="0.033" stop-color="#036ae0"/><stop offset="0.066" stop-color="#1382d5"/><stop offset="0.087" stop-color="#0e8fd2"/><stop offset="0.108" stop-color="#079dcf"/><stop offset="0.212" stop-color="#08a6c4"/><stop offset="0.365" stop-color="#0caabe"/><stop offset="0.784" stop-color="#fbbe3f"/><stop offset="0.855" stop-color="#fec338"/><stop offset="1" stop-color="#faeb1a"/></linearGradient><linearGradient id="a206"><stop offset="0" stop-color="#353399"/><stop offset="0.008" stop-color="#333fb1"/><stop offset="0.021" stop-color="#1d53d3"/><stop offset="0.029" stop-color="#0d60dd"/><stop offset="0.033" stop-color="#0467e0"/><stop offset="0.041" stop-color="#066ede"/><stop offset="0.071" stop-color="#1483d4"/><stop offset="0.108" stop-color="#079dce"/><stop offset="0.203" stop-color="#08a7c4"/><stop offset="0.353" stop-color="#0daabd"/><stop offset="0.763" stop-color="#fcbe3e"/><stop offset="0.83" stop-color="#fec338"/><stop offset="0.971" stop-color="#faea1b"/><stop offset="1" stop-color="#f9f115"/></linearGradient><linearGradient id="a207"><stop offset="0" stop-color="#352d8d"/><stop offset="0.012" stop-color="#333fb1"/><stop offset="0.025" stop-color="#1d53d4"/><stop offset="0.037" stop-color="#0268e1"/><stop offset="0.071" stop-color="#1381d5"/><stop offset="0.083" stop-color="#108cd3"/><stop offset="0.104" stop-color="#079dcf"/><stop offset="0.187" stop-color="#07a6c4"/><stop offset="0.336" stop-color="#0daabd"/><stop offset="0.739" stop-color="#fbbe3e"/><stop offset="0.809" stop-color="#fec437"/><stop offset="0.938" stop-color="#fae81c"/><stop offset="1" stop-color="#f9f711"/></linearGradient></defs><rect y="0" width="482" height="2.6" fill="url(#a0)"/><rect y="2" width="482" height="2.6" fill="url(#a1)"/><rect y="4" width="482" height="2.6" fill="url(#a2)"/><rect y="6" width="482" height="2.6" fill="url(#a3)"/><rect y="8" width="482" height="2.6" fill="url(#a4)"/><rect y="10" width="482" height="2.6" fill="url(#a5)"/><rect y="12" width="482" height="2.6" fill="url(#a6)"/><rect y="14" width="482" height="2.6" fill="url(#a7)"/><rect y="16" width="482" height="2.6" fill="url(#a8)"/><rect y="18" width="482" height="2.6" fill="url(#a9)"/><rect y="20" width="482" height="2.6" fill="url(#a10)"/><rect y="22" width="482" height="2.6" fill="url(#a11)"/><rect y="24" width="482" height="2.6" fill="url(#a12)"/><rect y="26" width="482" height="2.6" fill="url(#a13)"/><rect y="28" width="482" height="2.6" fill="url(#a14)"/><rect y="30" width="482" height="2.6" fill="url(#a15)"/><rect y="32" width="482" height="2.6" fill="url(#a16)"/><rect y="34" width="482" height="2.6" fill="url(#a17)"/><rect y="36" width="482" height="2.6" fill="url(#a18)"/><rect y="38" width="482" height="2.6" fill="url(#a19)"/><rect y="40" width="482" height="2.6" fill="url(#a20)"/><rect y="42" width="482" height="2.6" fill="url(#a21)"/><rect y="44" width="482" height="2.6" fill="url(#a22)"/><rect y="46" width="482" height="2.6" fill="url(#a23)"/><rect y="48" width="482" height="2.6" fill="url(#a24)"/><rect y="50" width="482" height="2.6" fill="url(#a25)"/><rect y="52" width="482" height="2.6" fill="url(#a26)"/><rect y="54" width="482" height="2.6" fill="url(#a27)"/><rect y="56" width="482" height="2.6" fill="url(#a28)"/><rect y="58" width="482" height="2.6" fill="url(#a29)"/><rect y="60" width="482" height="2.6" fill="url(#a30)"/><rect y="62" width="482" height="2.6" fill="url(#a31)"/><rect y="64" width="482" height="2.6" fill="url(#a32)"/><rect y="66" width="482" height="2.6" fill="url(#a33)"/><rect y="68" width="482" height="2.6" fill="url(#a34)"/><rect y="70" width="482" height="2.6" fill="url(#a35)"/><rect y="72" width="482" height="2.6" fill="url(#a36)"/><rect y="74" width="482" height="2.6" fill="url(#a37)"/><rect y="76" width="482" height="2.6" fill="url(#a38)"/><rect y="78" width="482" height="2.6" fill="url(#a39)"/><rect y="80" width="482" height="2.6" fill="url(#a40)"/><rect y="82" width="482" height="2.6" fill="url(#a41)"/><rect y="84" width="482" height="2.6" fill="url(#a42)"/><rect y="86" width="482" height="2.6" fill="url(#a43)"/><rect y="88" width="482" height="2.6" fill="url(#a44)"/><rect y="90" width="482" height="2.6" fill="url(#a45)"/><rect y="92" width="482" height="2.6" fill="url(#a46)"/><rect y="94" width="482" height="2.6" fill="url(#a47)"/><rect y="96" width="482" height="2.6" fill="url(#a48)"/><rect y="98" width="482" height="2.6" fill="url(#a49)"/><rect y="100" width="482" height="2.6" fill="url(#a50)"/><rect y="102" width="482" height="2.6" fill="url(#a51)"/><rect y="104" width="482" height="2.6" fill="url(#a52)"/><rect y="106" width="482" height="2.6" fill="url(#a53)"/><rect y="108" width="482" height="2.6" fill="url(#a54)"/><rect y="110" width="482" height="2.6" fill="url(#a55)"/><rect y="112" width="482" height="2.6" fill="url(#a56)"/><rect y="114" width="482" height="2.6" fill="url(#a57)"/><rect y="116" width="482" height="2.6" fill="url(#a58)"/><rect y="118" width="482" height="2.6" fill="url(#a59)"/><rect y="120" width="482" height="2.6" fill="url(#a60)"/><rect y="122" width="482" height="2.6" fill="url(#a61)"/><rect y="124" width="482" height="2.6" fill="url(#a62)"/><rect y="126" width="482" height="2.6" fill="url(#a63)"/><rect y="128" width="482" height="2.6" fill="url(#a64)"/><rect y="130" width="482" height="2.6" fill="url(#a65)"/><rect y="132" width="482" height="2.6" fill="url(#a66)"/><rect y="134" width="482" height="2.6" fill="url(#a67)"/><rect y="136" width="482" height="2.6" fill="url(#a68)"/><rect y="138" width="482" height="2.6" fill="url(#a69)"/><rect y="140" width="482" height="2.6" fill="url(#a70)"/><rect y="142" width="482" height="2.6" fill="url(#a71)"/><rect y="144" width="482" height="2.6" fill="url(#a72)"/><rect y="146" width="482" height="2.6" fill="url(#a73)"/><rect y="148" width="482" height="2.6" fill="url(#a74)"/><rect y="150" width="482" height="2.6" fill="url(#a75)"/><rect y="152" width="482" height="2.6" fill="url(#a76)"/><rect y="154" width="482" height="2.6" fill="url(#a77)"/><rect y="156" width="482" height="2.6" fill="url(#a78)"/><rect y="158" width="482" height="2.6" fill="url(#a79)"/><rect y="160" width="482" height="2.6" fill="url(#a80)"/><rect y="162" width="482" height="2.6" fill="url(#a81)"/><rect y="164" width="482" height="2.6" fill="url(#a82)"/><rect y="166" width="482" height="2.6" fill="url(#a83)"/><rect y="168" width="482" height="2.6" fill="url(#a84)"/><rect y="170" width="482" height="2.6" fill="url(#a85)"/><rect y="172" width="482" height="2.6" fill="url(#a86)"/><rect y="174" width="482" height="2.6" fill="url(#a87)"/><rect y="176" width="482" height="2.6" fill="url(#a88)"/><rect y="178" width="482" height="2.6" fill="url(#a89)"/><rect y="180" width="482" height="2.6" fill="url(#a90)"/><rect y="182" width="482" height="2.6" fill="url(#a91)"/><rect y="184" width="482" height="2.6" fill="url(#a92)"/><rect y="186" width="482" height="2.6" fill="url(#a93)"/><rect y="188" width="482" height="2.6" fill="url(#a94)"/><rect y="190" width="482" height="2.6" fill="url(#a95)"/><rect y="192" width="482" height="2.6" fill="url(#a96)"/><rect y="194" width="482" height="2.6" fill="url(#a97)"/><rect y="196" width="482" height="2.6" fill="url(#a98)"/><rect y="198" width="482" height="2.6" fill="url(#a99)"/><rect y="200" width="482" height="2.6" fill="url(#a100)"/><rect y="202" width="482" height="2.6" fill="url(#a101)"/><rect y="204" width="482" height="2.6" fill="url(#a102)"/><rect y="206" width="482" height="2.6" fill="url(#a103)"/><rect y="208" width="482" height="2.6" fill="url(#a104)"/><rect y="210" width="482" height="2.6" fill="url(#a105)"/><rect y="212" width="482" height="2.6" fill="url(#a106)"/><rect y="214" width="482" height="2.6" fill="url(#a107)"/><rect y="216" width="482" height="2.6" fill="url(#a108)"/><rect y="218" width="482" height="2.6" fill="url(#a109)"/><rect y="220" width="482" height="2.6" fill="url(#a110)"/><rect y="222" width="482" height="2.6" fill="url(#a111)"/><rect y="224" width="482" height="2.6" fill="url(#a112)"/><rect y="226" width="482" height="2.6" fill="url(#a113)"/><rect y="228" width="482" height="2.6" fill="url(#a114)"/><rect y="230" width="482" height="2.6" fill="url(#a115)"/><rect y="232" width="482" height="2.6" fill="url(#a116)"/><rect y="234" width="482" height="2.6" fill="url(#a117)"/><rect y="236" width="482" height="2.6" fill="url(#a118)"/><rect y="238" width="482" height="2.6" fill="url(#a119)"/><rect y="240" width="482" height="2.6" fill="url(#a120)"/><rect y="242" width="482" height="2.6" fill="url(#a121)"/><rect y="244" width="482" height="2.6" fill="url(#a122)"/><rect y="246" width="482" height="2.6" fill="url(#a123)"/><rect y="248" width="482" height="2.6" fill="url(#a124)"/><rect y="250" width="482" height="2.6" fill="url(#a125)"/><rect y="252" width="482" height="2.6" fill="url(#a126)"/><rect y="254" width="482" height="2.6" fill="url(#a127)"/><rect y="256" width="482" height="2.6" fill="url(#a128)"/><rect y="258" width="482" height="2.6" fill="url(#a129)"/><rect y="260" width="482" height="2.6" fill="url(#a130)"/><rect y="262" width="482" height="2.6" fill="url(#a131)"/><rect y="264" width="482" height="2.6" fill="url(#a132)"/><rect y="266" width="482" height="2.6" fill="url(#a133)"/><rect y="268" width="482" height="2.6" fill="url(#a134)"/><rect y="270" width="482" height="2.6" fill="url(#a135)"/><rect y="272" width="482" height="2.6" fill="url(#a136)"/><rect y="274" width="482" height="2.6" fill="url(#a137)"/><rect y="276" width="482" height="2.6" fill="url(#a138)"/><rect y="278" width="482" height="2.6" fill="url(#a139)"/><rect y="280" width="482" height="2.6" fill="url(#a140)"/><rect y="282" width="482" height="2.6" fill="url(#a141)"/><rect y="284" width="482" height="2.6" fill="url(#a142)"/><rect y="286" width="482" height="2.6" fill="url(#a143)"/><rect y="288" width="482" height="2.6" fill="url(#a144)"/><rect y="290" width="482" height="2.6" fill="url(#a145)"/><rect y="292" width="482" height="2.6" fill="url(#a146)"/><rect y="294" width="482" height="2.6" fill="url(#a147)"/><rect y="296" width="482" height="2.6" fill="url(#a148)"/><rect y="298" width="482" height="2.6" fill="url(#a149)"/><rect y="300" width="482" height="2.6" fill="url(#a150)"/><rect y="302" width="482" height="2.6" fill="url(#a151)"/><rect y="304" width="482" height="2.6" fill="url(#a152)"/><rect y="306" width="482" height="2.6" fill="url(#a153)"/><rect y="308" width="482" height="2.6" fill="url(#a154)"/><rect y="310" width="482" height="2.6" fill="url(#a155)"/><rect y="312" width="482" height="2.6" fill="url(#a156)"/><rect y="314" width="482" height="2.6" fill="url(#a157)"/><rect y="316" width="482" height="2.6" fill="url(#a158)"/><rect y="318" width="482" height="2.6" fill="url(#a159)"/><rect y="320" width="482" height="2.6" fill="url(#a160)"/><rect y="322" width="482" height="2.6" fill="url(#a161)"/><rect y="324" width="482" height="2.6" fill="url(#a162)"/><rect y="326" width="482" height="2.6" fill="url(#a163)"/><rect y="328" width="482" height="2.6" fill="url(#a164)"/><rect y="330" width="482" height="2.6" fill="url(#a165)"/><rect y="332" width="482" height="2.6" fill="url(#a166)"/><rect y="334" width="482" height="2.6" fill="url(#a167)"/><rect y="336" width="482" height="2.6" fill="url(#a168)"/><rect y="338" width="482" height="2.6" fill="url(#a169)"/><rect y="340" width="482" height="2.6" fill="url(#a170)"/><rect y="342" width="482" height="2.6" fill="url(#a171)"/><rect y="344" width="482" height="2.6" fill="url(#a172)"/><rect y="346" width="482" height="2.6" fill="url(#a173)"/><rect y="348" width="482" height="2.6" fill="url(#a174)"/><rect y="350" width="482" height="2.6" fill="url(#a175)"/><rect y="352" width="482" height="2.6" fill="url(#a176)"/><rect y="354" width="482" height="2.6" fill="url(#a177)"/><rect y="356" width="482" height="2.6" fill="url(#a178)"/><rect y="358" width="482" height="2.6" fill="url(#a179)"/><rect y="360" width="482" height="2.6" fill="url(#a180)"/><rect y="362" width="482" height="2.6" fill="url(#a181)"/><rect y="364" width="482" height="2.6" fill="url(#a182)"/><rect y="366" width="482" height="2.6" fill="url(#a183)"/><rect y="368" width="482" height="2.6" fill="url(#a184)"/><rect y="370" width="482" height="2.6" fill="url(#a185)"/><rect y="372" width="482" height="2.6" fill="url(#a186)"/><rect y="374" width="482" height="2.6" fill="url(#a187)"/><rect y="376" width="482" height="2.6" fill="url(#a188)"/><rect y="378" width="482" height="2.6" fill="url(#a189)"/><rect y="380" width="482" height="2.6" fill="url(#a190)"/><rect y="382" width="482" height="2.6" fill="url(#a191)"/><rect y="384" width="482" height="2.6" fill="url(#a192)"/><rect y="386" width="482" height="2.6" fill="url(#a193)"/><rect y="388" width="482" height="2.6" fill="url(#a194)"/><rect y="390" width="482" height="2.6" fill="url(#a195)"/><rect y="392" width="482" height="2.6" fill="url(#a196)"/><rect y="394" width="482" height="2.6" fill="url(#a197)"/><rect y="396" width="482" height="2.6" fill="url(#a198)"/><rect y="398" width="482" height="2.6" fill="url(#a199)"/><rect y="400" width="482" height="2.6" fill="url(#a200)"/><rect y="402" width="482" height="2.6" fill="url(#a201)"/><rect y="404" width="482" height="2.6" fill="url(#a202)"/><rect y="406" width="482" height="2.6" fill="url(#a203)"/><rect y="408" width="482" height="2.6" fill="url(#a204)"/><rect y="410" width="482" height="2.6" fill="url(#a205)"/><rect y="412" width="482" height="2.6" fill="url(#a206)"/><rect y="414" width="482" height="2" fill="url(#a207)"/></svg><svg class="hm" style="left:769px;top:62px" width="482" height="416" viewBox="0 0 482 416" shape-rendering="crispEdges"><defs><linearGradient id="b0"><stop offset="0" stop-color="#4aaf9d"/><stop offset="0.004" stop-color="#3daea4"/><stop offset="0.033" stop-color="#0faabc"/><stop offset="0.037" stop-color="#0caabe"/><stop offset="0.158" stop-color="#07a4c7"/><stop offset="0.216" stop-color="#089ad0"/><stop offset="0.286" stop-color="#1382d4"/><stop offset="0.494" stop-color="#0268e1"/><stop offset="0.577" stop-color="#1c54d5"/><stop offset="0.647" stop-color="#2e43b8"/><stop offset="0.734" stop-color="#343dac"/><stop offset="1" stop-color="#352b88"/></linearGradient><linearGradient id="b1"><stop offset="0" stop-color="#65b18e"/><stop offset="0.008" stop-color="#49af9e"/><stop offset="0.012" stop-color="#3daea4"/><stop offset="0.041" stop-color="#10aabc"/><stop offset="0.046" stop-color="#0caabe"/><stop offset="0.158" stop-color="#07a4c7"/><stop offset="0.216" stop-color="#089ad0"/><stop offset="0.282" stop-color="#1483d4"/><stop offset="0.494" stop-color="#0268e1"/><stop offset="0.581" stop-color="#1c54d6"/><stop offset="0.647" stop-color="#2d45bb"/><stop offset="0.743" stop-color="#343dad"/><stop offset="1" stop-color="#352b89"/></linearGradient><linearGradient id="b2"><stop offset="0" stop-color="#80b480"/><stop offset="0.008" stop-color="#60b191"/><stop offset="0.021" stop-color="#3eaea3"/><stop offset="0.05" stop-color="#10aabc"/><stop offset="0.054" stop-color="#0caabe"/><stop offset="0.162" stop-color="#07a4c7"/><stop offset="0.22" stop-color="#0999d1"/><stop offset="0.282" stop-color="#1382d5"/><stop offset="0.444" stop-color="#066dde"/><stop offset="0.498" stop-color="#0367e1"/><stop offset="0.589" stop-color="#1c54d5"/><stop offset="0.647" stop-color="#2b46be"/><stop offset="0.755" stop-color="#343dac"/><stop offset="1" stop-color="#352b8a"/></linearGradient><linearGradient id="b3"><stop offset="0" stop-color="#9bb672"/><stop offset="0.008" stop-color="#78b385"/><stop offset="0.017" stop-color="#5cb193"/><stop offset="0.029" stop-color="#3eaea3"/><stop offset="0.054" stop-color="#17abb8"/><stop offset="0.058" stop-color="#0eaabd"/><stop offset="0.071" stop-color="#0ba9bf"/><stop offset="0.166" stop-color="#07a4c7"/><stop offset="0.22" stop-color="#0999d1"/><stop offset="0.278" stop-color="#1483d4"/><stop offset="0.295" stop-color="#117ed6"/><stop offset="0.498" stop-color="#0268e1"/><stop offset="0.593" stop-color="#1c55d6"/><stop offset="0.647" stop-color="#2948c0"/><stop offset="0.763" stop-color="#343dad"/><stop offset="1" stop-color="#352c8b"/></linearGradient><linearGradient id="b4"><stop offset="0" stop-color="#b7b863"/><stop offset="0.008" stop-color="#8fb578"/><stop offset="0.017" stop-color="#71b288"/><stop offset="0.029" stop-color="#4fb09a"/><stop offset="0.041" stop-color="#38aea7"/><stop offset="0.054" stop-color="#24acb1"/><stop offset="0.062" stop-color="#12abbb"/><stop offset="0.066" stop-color="#0caabe"/><stop offset="0.166" stop-color="#07a4c7"/><stop offset="0.22" stop-color="#0999d1"/><stop offset="0.278" stop-color="#1382d4"/><stop offset="0.295" stop-color="#107dd7"/><stop offset="0.502" stop-color="#0367e1"/><stop offset="0.602" stop-color="#1c54d5"/><stop offset="0.647" stop-color="#274ac3"/><stop offset="0.768" stop-color="#343eae"/><stop offset="1" stop-color="#352c8c"/></linearGradient><linearGradient id="b5"><stop offset="0" stop-color="#d2ba55"/><stop offset="0.012" stop-color="#95b575"/><stop offset="0.021" stop-color="#78b385"/><stop offset="0.033" stop-color="#57b096"/><stop offset="0.05" stop-color="#38aea7"/><stop offset="0.058" stop-color="#28acaf"/><stop offset="0.071" stop-color="#0faabd"/><stop offset="0.079" stop-color="#0caabf"/><stop offset="0.17" stop-color="#07a4c7"/><stop offset="0.22" stop-color="#0999d0"/><stop offset="0.274" stop-color="#1483d4"/><stop offset="0.29" stop-color="#107dd7"/><stop offset="0.469" stop-color="#046be0"/><stop offset="0.502" stop-color="#0367e1"/><stop offset="0.606" stop-color="#1b55d6"/><stop offset="0.651" stop-color="#264bc5"/><stop offset="0.78" stop-color="#343dae"/><stop offset="1" stop-color="#352d8d"/></linearGradient><linearGradient id="b6"><stop offset="0" stop-color="#edbd46"/><stop offset="0.017" stop-color="#9bb672"/><stop offset="0.025" stop-color="#7eb381"/><stop offset="0.037" stop-color="#5eb192"/><stop offset="0.058" stop-color="#35ada8"/><stop offset="0.071" stop-color="#19abb7"/><stop offset="0.079" stop-color="#0caabe"/><stop offset="0.17" stop-color="#07a4c7"/><stop offset="0.22" stop-color="#0999d0"/><stop offset="0.274" stop-color="#1382d4"/><stop offset="0.29" stop-color="#0f7cd8"/><stop offset="0.456" stop-color="#046cdf"/><stop offset="0.506" stop-color="#0367e0"/><stop offset="0.614" stop-color="#1c54d6"/><stop offset="0.651" stop-color="#244cc8"/><stop offset="0.797" stop-color="#343dad"/><stop offset="1" stop-color="#352d8e"/></linearGradient><linearGradient id="b7"><stop offset="0" stop-color="#fdbf3c"/><stop offset="0.004" stop-color="#f3bd43"/><stop offset="0.021" stop-color="#a1b66e"/><stop offset="0.025" stop-color="#90b577"/><stop offset="0.037" stop-color="#6eb28a"/><stop offset="0.062" stop-color="#39aea6"/><stop offset="0.075" stop-color="#1cabb5"/><stop offset="0.083" stop-color="#0faabc"/><stop offset="0.087" stop-color="#0caabe"/><stop offset="0.174" stop-color="#07a4c7"/><stop offset="0.22" stop-color="#0899d0"/><stop offset="0.27" stop-color="#1483d4"/><stop offset="0.29" stop-color="#0e7bd8"/><stop offset="0.49" stop-color="#0369e1"/><stop offset="0.515" stop-color="#0566e0"/><stop offset="0.618" stop-color="#1b55d7"/><stop offset="0.651" stop-color="#234ecb"/><stop offset="0.805" stop-color="#343dae"/><stop offset="1" stop-color="#352e8e"/></linearGradient><linearGradient id="b8"><stop offset="0" stop-color="#fec338"/><stop offset="0.008" stop-color="#fabe3f"/><stop offset="0.029" stop-color="#95b575"/><stop offset="0.041" stop-color="#73b387"/><stop offset="0.071" stop-color="#33ada9"/><stop offset="0.083" stop-color="#18abb7"/><stop offset="0.091" stop-color="#0daabe"/><stop offset="0.178" stop-color="#07a4c7"/><stop offset="0.22" stop-color="#089ad0"/><stop offset="0.27" stop-color="#1382d4"/><stop offset="0.29" stop-color="#0e7ad8"/><stop offset="0.506" stop-color="#0367e1"/><stop offset="0.627" stop-color="#1c54d6"/><stop offset="0.651" stop-color="#214fcd"/><stop offset="0.817" stop-color="#343dae"/><stop offset="1" stop-color="#352e8f"/></linearGradient><linearGradient id="b9"><stop offset="0" stop-color="#fcd12e"/><stop offset="0.004" stop-color="#fdc636"/><stop offset="0.008" stop-color="#fdc13b"/><stop offset="0.012" stop-color="#fcbe3d"/><stop offset="0.017" stop-color="#ecbd46"/><stop offset="0.033" stop-color="#9ab672"/><stop offset="0.041" stop-color="#82b47f"/><stop offset="0.087" stop-color="#1babb6"/><stop offset="0.1" stop-color="#0caabe"/><stop offset="0.178" stop-color="#07a4c7"/><stop offset="0.22" stop-color="#089ad0"/><stop offset="0.266" stop-color="#1483d4"/><stop offset="0.29" stop-color="#0d79d9"/><stop offset="0.506" stop-color="#0268e1"/><stop offset="0.631" stop-color="#1b55d7"/><stop offset="0.656" stop-color="#2051cf"/><stop offset="0.834" stop-color="#343dad"/><stop offset="1" stop-color="#352f90"/></linearGradient><linearGradient id="b10"><stop offset="0" stop-color="#fade24"/><stop offset="0.012" stop-color="#fec13a"/><stop offset="0.017" stop-color="#fdbf3c"/><stop offset="0.021" stop-color="#f3bd43"/><stop offset="0.037" stop-color="#a1b66f"/><stop offset="0.041" stop-color="#91b577"/><stop offset="0.091" stop-color="#1eacb4"/><stop offset="0.104" stop-color="#0daabd"/><stop offset="0.183" stop-color="#07a4c7"/><stop offset="0.22" stop-color="#089ad0"/><stop offset="0.266" stop-color="#1382d4"/><stop offset="0.29" stop-color="#0c78d9"/><stop offset="0.51" stop-color="#0367e1"/><stop offset="0.635" stop-color="#1a56d7"/><stop offset="0.838" stop-color="#343eae"/><stop offset="1" stop-color="#352f91"/></linearGradient><linearGradient id="b11"><stop offset="0" stop-color="#fae91b"/><stop offset="0.017" stop-color="#fec338"/><stop offset="0.025" stop-color="#f9be3f"/><stop offset="0.046" stop-color="#95b575"/><stop offset="0.1" stop-color="#1aabb6"/><stop offset="0.112" stop-color="#0caabe"/><stop offset="0.187" stop-color="#07a4c8"/><stop offset="0.22" stop-color="#089ad0"/><stop offset="0.261" stop-color="#1483d4"/><stop offset="0.29" stop-color="#0c77da"/><stop offset="0.51" stop-color="#0367e1"/><stop offset="0.639" stop-color="#1956d8"/><stop offset="0.855" stop-color="#343dad"/><stop offset="1" stop-color="#353092"/></linearGradient><linearGradient id="b12"><stop offset="0" stop-color="#f9f513"/><stop offset="0.017" stop-color="#fcd02e"/><stop offset="0.021" stop-color="#fdc636"/><stop offset="0.025" stop-color="#fdc13b"/><stop offset="0.029" stop-color="#fcbe3d"/><stop offset="0.033" stop-color="#ecbd47"/><stop offset="0.05" stop-color="#9ab672"/><stop offset="0.066" stop-color="#72b288"/><stop offset="0.104" stop-color="#1dabb5"/><stop offset="0.112" stop-color="#10aabc"/><stop offset="0.116" stop-color="#0caabe"/><stop offset="0.187" stop-color="#07a4c7"/><stop offset="0.22" stop-color="#089bd0"/><stop offset="0.261" stop-color="#1382d4"/><stop offset="0.29" stop-color="#0b76da"/><stop offset="0.515" stop-color="#0367e1"/><stop offset="0.668" stop-color="#1c54d5"/><stop offset="0.867" stop-color="#343dad"/><stop offset="1" stop-color="#353093"/></linearGradient><linearGradient id="b13"><stop offset="0" stop-color="#f9fb0e"/><stop offset="0.017" stop-color="#fbd829"/><stop offset="0.025" stop-color="#fec338"/><stop offset="0.033" stop-color="#fbbe3f"/><stop offset="0.054" stop-color="#96b575"/><stop offset="0.108" stop-color="#1babb6"/><stop offset="0.116" stop-color="#0daabd"/><stop offset="0.187" stop-color="#07a5c6"/><stop offset="0.22" stop-color="#089bd0"/><stop offset="0.257" stop-color="#1484d4"/><stop offset="0.286" stop-color="#0b76da"/><stop offset="0.515" stop-color="#0367e1"/><stop offset="0.68" stop-color="#1c54d5"/><stop offset="0.88" stop-color="#343dad"/><stop offset="1" stop-color="#353194"/></linearGradient><linearGradient id="b14"><stop offset="0" stop-color="#f9fa0f"/><stop offset="0.017" stop-color="#fbd729"/><stop offset="0.025" stop-color="#fec338"/><stop offset="0.033" stop-color="#f9be3f"/><stop offset="0.054" stop-color="#95b575"/><stop offset="0.108" stop-color="#1babb6"/><stop offset="0.116" stop-color="#0caabe"/><stop offset="0.187" stop-color="#07a5c6"/><stop offset="0.22" stop-color="#089bd0"/><stop offset="0.257" stop-color="#1483d4"/><stop offset="0.286" stop-color="#0b76da"/><stop offset="0.51" stop-color="#0367e1"/><stop offset="0.689" stop-color="#1c54d5"/><stop offset="0.888" stop-color="#343dad"/><stop offset="1" stop-color="#353296"/></linearGradient><linearGradient id="b15"><stop offset="0" stop-color="#f9fa0f"/><stop offset="0.017" stop-color="#fbd72a"/><stop offset="0.025" stop-color="#fec239"/><stop offset="0.029" stop-color="#fdc03c"/><stop offset="0.033" stop-color="#f8be40"/><stop offset="0.054" stop-color="#93b576"/><stop offset="0.108" stop-color="#1aabb7"/><stop offset="0.116" stop-color="#0caabe"/><stop offset="0.187" stop-color="#07a5c6"/><stop offset="0.22" stop-color="#089ad0"/><stop offset="0.257" stop-color="#1483d4"/><stop offset="0.286" stop-color="#0b75db"/><stop offset="0.506" stop-color="#0368e1"/><stop offset="0.593" stop-color="#0e5fdc"/><stop offset="0.697" stop-color="#1c54d5"/><stop offset="0.9" stop-color="#343dac"/><stop offset="1" stop-color="#353398"/></linearGradient><linearGradient id="b16"><stop offset="0" stop-color="#f9f90f"/><stop offset="0.017" stop-color="#fbd62a"/><stop offset="0.025" stop-color="#fec239"/><stop offset="0.029" stop-color="#fdc03c"/><stop offset="0.033" stop-color="#f7be41"/><stop offset="0.054" stop-color="#92b576"/><stop offset="0.104" stop-color="#21acb3"/><stop offset="0.116" stop-color="#0caabe"/><stop offset="0.187" stop-color="#07a5c7"/><stop offset="0.22" stop-color="#089ad0"/><stop offset="0.257" stop-color="#1483d4"/><stop offset="0.286" stop-color="#0b75db"/><stop offset="0.506" stop-color="#0367e1"/><stop offset="0.564" stop-color="#0963de"/><stop offset="0.66" stop-color="#1659d9"/><stop offset="0.71" stop-color="#1c54d5"/><stop offset="0.909" stop-color="#343dac"/><stop offset="1" stop-color="#35349a"/></linearGradient><linearGradient id="b17"><stop offset="0" stop-color="#f9f910"/><stop offset="0.017" stop-color="#fbd52b"/><stop offset="0.025" stop-color="#fec239"/><stop offset="0.029" stop-color="#fdc03c"/><stop offset="0.033" stop-color="#f6bd41"/><stop offset="0.054" stop-color="#91b577"/><stop offset="0.104" stop-color="#20acb3"/><stop offset="0.116" stop-color="#0caabe"/><stop offset="0.187" stop-color="#07a4c7"/><stop offset="0.22" stop-color="#089ad0"/><stop offset="0.257" stop-color="#1483d4"/><stop offset="0.286" stop-color="#0b75db"/><stop offset="0.502" stop-color="#0367e1"/><stop offset="0.56" stop-color="#0864df"/><stop offset="0.66" stop-color="#1659d9"/><stop offset="0.718" stop-color="#1c54d5"/><stop offset="0.917" stop-color="#343dad"/><stop offset="1" stop-color="#34349c"/></linearGradient><linearGradient id="b18"><stop offset="0" stop-color="#f9f810"/><stop offset="0.017" stop-color="#fbd52b"/><stop offset="0.025" stop-color="#fec23a"/><stop offset="0.029" stop-color="#fdbf3c"/><stop offset="0.033" stop-color="#f4bd42"/><stop offset="0.054" stop-color="#90b577"/><stop offset="0.104" stop-color="#1facb4"/><stop offset="0.116" stop-color="#0caabe"/><stop offset="0.187" stop-color="#07a4c7"/><stop offset="0.22" stop-color="#089ad0"/><stop offset="0.257" stop-color="#1483d4"/><stop offset="0.286" stop-color="#0b75db"/><stop offset="0.502" stop-color="#0367e1"/><stop offset="0.56" stop-color="#0764df"/><stop offset="0.66" stop-color="#1559d9"/><stop offset="0.726" stop-color="#1c54d5"/><stop offset="0.925" stop-color="#343dad"/><stop offset="1" stop-color="#34359e"/></linearGradient><linearGradient id="b19"><stop offset="0" stop-color="#f9f711"/><stop offset="0.017" stop-color="#fbd42c"/><stop offset="0.025" stop-color="#fec13a"/><stop offset="0.029" stop-color="#fdbf3c"/><stop offset="0.033" stop-color="#f3bd43"/><stop offset="0.054" stop-color="#8fb578"/><stop offset="0.104" stop-color="#1eacb4"/><stop offset="0.116" stop-color="#0caabe"/><stop offset="0.187" stop-color="#07a4c7"/><stop offset="0.22" stop-color="#089ad0"/><stop offset="0.257" stop-color="#1483d4"/><stop offset="0.286" stop-color="#0b75db"/><stop offset="0.498" stop-color="#0367e1"/><stop offset="0.564" stop-color="#0764df"/><stop offset="0.66" stop-color="#155ada"/><stop offset="0.73" stop-color="#1c55d6"/><stop offset="0.934" stop-color="#343dad"/><stop offset="1" stop-color="#3436a0"/></linearGradient><linearGradient id="b20"><stop offset="0" stop-color="#f9f711"/><stop offset="0.017" stop-color="#fcd32c"/><stop offset="0.025" stop-color="#fec13a"/><stop offset="0.029" stop-color="#fdbf3d"/><stop offset="0.033" stop-color="#f2bd43"/><stop offset="0.05" stop-color="#a1b66f"/><stop offset="0.054" stop-color="#8eb579"/><stop offset="0.104" stop-color="#1dabb5"/><stop offset="0.116" stop-color="#0caabe"/><stop offset="0.187" stop-color="#07a4c7"/><stop offset="0.22" stop-color="#0899d0"/><stop offset="0.257" stop-color="#1483d4"/><stop offset="0.286" stop-color="#0a75db"/><stop offset="0.498" stop-color="#0367e1"/><stop offset="0.564" stop-color="#0764df"/><stop offset="0.66" stop-color="#145ada"/><stop offset="0.734" stop-color="#1b55d7"/><stop offset="0.946" stop-color="#343dac"/><stop offset="1" stop-color="#3437a2"/></linearGradient><linearGradient id="b21"><stop offset="0" stop-color="#f9f612"/><stop offset="0.017" stop-color="#fcd32d"/><stop offset="0.021" stop-color="#fdc834"/><stop offset="0.025" stop-color="#fec13a"/><stop offset="0.029" stop-color="#fcbf3d"/><stop offset="0.033" stop-color="#f0bd44"/><stop offset="0.05" stop-color="#9fb66f"/><stop offset="0.054" stop-color="#8db579"/><stop offset="0.104" stop-color="#1dabb5"/><stop offset="0.116" stop-color="#0caabe"/><stop offset="0.187" stop-color="#07a4c7"/><stop offset="0.22" stop-color="#0899d0"/><stop offset="0.257" stop-color="#1482d4"/><stop offset="0.286" stop-color="#0a75db"/><stop offset="0.494" stop-color="#0367e1"/><stop offset="0.568" stop-color="#0764df"/><stop offset="0.66" stop-color="#145bda"/><stop offset="0.743" stop-color="#1b55d7"/><stop offset="0.954" stop-color="#343dad"/><stop offset="1" stop-color="#3438a3"/></linearGradient><linearGradient id="b22"><stop offset="0" stop-color="#f9f612"/><stop offset="0.017" stop-color="#fcd22d"/><stop offset="0.021" stop-color="#fdc835"/><stop offset="0.025" stop-color="#fdc13a"/><stop offset="0.029" stop-color="#fcbf3d"/><stop offset="0.033" stop-color="#efbd45"/><stop offset="0.05" stop-color="#9eb670"/><stop offset="0.054" stop-color="#8cb57a"/><stop offset="0.104" stop-color="#1cabb5"/><stop offset="0.112" stop-color="#10aabc"/><stop offset="0.116" stop-color="#0caabe"/><stop offset="0.187" stop-color="#07a4c7"/><stop offset="0.22" stop-color="#0899d0"/><stop offset="0.257" stop-color="#1482d4"/><stop offset="0.286" stop-color="#0a74db"/><stop offset="0.494" stop-color="#0367e1"/><stop offset="0.568" stop-color="#0665df"/><stop offset="0.66" stop-color="#135bda"/><stop offset="0.747" stop-color="#1a56d7"/><stop offset="0.963" stop-color="#343dad"/><stop offset="1" stop-color="#3439a5"/></linearGradient><linearGradient id="b23"><stop offset="0" stop-color="#f9f512"/><stop offset="0.017" stop-color="#fcd12e"/><stop offset="0.021" stop-color="#fdc735"/><stop offset="0.025" stop-color="#fdc13a"/><stop offset="0.029" stop-color="#fcbf3d"/><stop offset="0.033" stop-color="#eebd46"/><stop offset="0.05" stop-color="#9db671"/><stop offset="0.054" stop-color="#8bb57a"/><stop offset="0.1" stop-color="#24acb1"/><stop offset="0.112" stop-color="#0faabc"/><stop offset="0.12" stop-color="#0caabf"/><stop offset="0.187" stop-color="#07a4c7"/><stop offset="0.22" stop-color="#0999d0"/><stop offset="0.257" stop-color="#1382d4"/><stop offset="0.286" stop-color="#0a74db"/><stop offset="0.49" stop-color="#0367e1"/><stop offset="0.573" stop-color="#0665df"/><stop offset="0.66" stop-color="#125cda"/><stop offset="0.759" stop-color="#1a56d7"/><stop offset="0.971" stop-color="#343dad"/><stop offset="1" stop-color="#343aa7"/></linearGradient><linearGradient id="b24"><stop offset="0" stop-color="#f9f513"/><stop offset="0.017" stop-color="#fcd12e"/><stop offset="0.021" stop-color="#fdc636"/><stop offset="0.025" stop-color="#fdc13b"/><stop offset="0.029" stop-color="#fcbf3d"/><stop offset="0.033" stop-color="#edbd46"/><stop offset="0.05" stop-color="#9cb671"/><stop offset="0.054" stop-color="#8ab57b"/><stop offset="0.1" stop-color="#23acb2"/><stop offset="0.112" stop-color="#0faabd"/><stop offset="0.12" stop-color="#0baabf"/><stop offset="0.187" stop-color="#07a4c7"/><stop offset="0.22" stop-color="#0999d1"/><stop offset="0.257" stop-color="#1382d4"/><stop offset="0.286" stop-color="#0a74db"/><stop offset="0.49" stop-color="#0367e1"/><stop offset="0.577" stop-color="#0765df"/><stop offset="0.66" stop-color="#125cdb"/><stop offset="0.768" stop-color="#1a56d7"/><stop offset="0.983" stop-color="#343dac"/><stop offset="1" stop-color="#343ba9"/></linearGradient><linearGradient id="b25"><stop offset="0" stop-color="#f9f413"/><stop offset="0.017" stop-color="#fcd02f"/><stop offset="0.021" stop-color="#fdc636"/><stop offset="0.029" stop-color="#fcbe3e"/><stop offset="0.033" stop-color="#ebbd47"/><stop offset="0.05" stop-color="#9bb672"/><stop offset="0.054" stop-color="#89b47b"/><stop offset="0.1" stop-color="#22acb2"/><stop offset="0.112" stop-color="#0eaabd"/><stop offset="0.129" stop-color="#0ba9c0"/><stop offset="0.187" stop-color="#07a4c7"/><stop offset="0.22" stop-color="#0999d1"/><stop offset="0.257" stop-color="#1382d5"/><stop offset="0.286" stop-color="#0a74db"/><stop offset="0.485" stop-color="#0367e1"/><stop offset="0.581" stop-color="#0764df"/><stop offset="0.66" stop-color="#115cdb"/><stop offset="0.776" stop-color="#1a56d7"/><stop offset="0.992" stop-color="#343dad"/><stop offset="1" stop-color="#343cab"/></linearGradient><linearGradient id="b26"><stop offset="0" stop-color="#f9f414"/><stop offset="0.017" stop-color="#fccf2f"/><stop offset="0.021" stop-color="#fec537"/><stop offset="0.029" stop-color="#fcbe3e"/><stop offset="0.041" stop-color="#c2b95d"/><stop offset="0.05" stop-color="#9ab672"/><stop offset="0.054" stop-color="#88b47c"/><stop offset="0.1" stop-color="#21acb3"/><stop offset="0.112" stop-color="#0eaabd"/><stop offset="0.183" stop-color="#07a5c6"/><stop offset="0.216" stop-color="#089bd0"/><stop offset="0.253" stop-color="#1484d4"/><stop offset="0.286" stop-color="#0a74db"/><stop offset="0.481" stop-color="#0368e1"/><stop offset="0.539" stop-color="#0566e0"/><stop offset="0.585" stop-color="#0764df"/><stop offset="0.66" stop-color="#115ddb"/><stop offset="0.784" stop-color="#1a56d7"/><stop offset="1" stop-color="#343dad"/></linearGradient><linearGradient id="b27"><stop offset="0" stop-color="#f9f314"/><stop offset="0.017" stop-color="#fccf30"/><stop offset="0.021" stop-color="#fec437"/><stop offset="0.029" stop-color="#fcbe3e"/><stop offset="0.05" stop-color="#99b673"/><stop offset="0.054" stop-color="#87b47c"/><stop offset="0.1" stop-color="#20acb3"/><stop offset="0.112" stop-color="#0daabd"/><stop offset="0.183" stop-color="#07a5c6"/><stop offset="0.216" stop-color="#089bd0"/><stop offset="0.253" stop-color="#1484d4"/><stop offset="0.286" stop-color="#0a74db"/><stop offset="0.481" stop-color="#0367e1"/><stop offset="0.585" stop-color="#0665df"/><stop offset="0.66" stop-color="#105ddb"/><stop offset="0.793" stop-color="#1a56d8"/><stop offset="1" stop-color="#343eaf"/></linearGradient><linearGradient id="b28"><stop offset="0" stop-color="#f9f314"/><stop offset="0.017" stop-color="#fcce30"/><stop offset="0.021" stop-color="#fec438"/><stop offset="0.029" stop-color="#fcbe3e"/><stop offset="0.05" stop-color="#97b674"/><stop offset="0.054" stop-color="#86b47d"/><stop offset="0.1" stop-color="#1facb4"/><stop offset="0.112" stop-color="#0daabe"/><stop offset="0.183" stop-color="#07a5c6"/><stop offset="0.216" stop-color="#089bd0"/><stop offset="0.253" stop-color="#1484d4"/><stop offset="0.286" stop-color="#0a74db"/><stop offset="0.477" stop-color="#0367e1"/><stop offset="0.544" stop-color="#0566e0"/><stop offset="0.589" stop-color="#0665df"/><stop offset="0.66" stop-color="#0f5edc"/><stop offset="0.801" stop-color="#1a56d8"/><stop offset="1" stop-color="#333fb1"/></linearGradient><linearGradient id="b29"><stop offset="0" stop-color="#f9f215"/><stop offset="0.017" stop-color="#fccd31"/><stop offset="0.021" stop-color="#fec338"/><stop offset="0.029" stop-color="#fabe3f"/><stop offset="0.05" stop-color="#96b674"/><stop offset="0.054" stop-color="#85b47d"/><stop offset="0.1" stop-color="#1eacb4"/><stop offset="0.112" stop-color="#0caabe"/><stop offset="0.183" stop-color="#07a5c6"/><stop offset="0.216" stop-color="#089ad0"/><stop offset="0.253" stop-color="#1483d4"/><stop offset="0.286" stop-color="#0a73dc"/><stop offset="0.477" stop-color="#0367e1"/><stop offset="0.593" stop-color="#0665df"/><stop offset="0.66" stop-color="#0f5edc"/><stop offset="0.809" stop-color="#1956d8"/><stop offset="1" stop-color="#3240b3"/></linearGradient><linearGradient id="b30"><stop offset="0" stop-color="#f9f115"/><stop offset="0.012" stop-color="#fbd729"/><stop offset="0.021" stop-color="#fec239"/><stop offset="0.029" stop-color="#f9be40"/><stop offset="0.05" stop-color="#95b575"/><stop offset="0.054" stop-color="#84b47e"/><stop offset="0.095" stop-color="#26acb0"/><stop offset="0.104" stop-color="#18abb8"/><stop offset="0.112" stop-color="#0caabe"/><stop offset="0.183" stop-color="#07a5c7"/><stop offset="0.216" stop-color="#089ad0"/><stop offset="0.253" stop-color="#1483d4"/><stop offset="0.286" stop-color="#0a73dc"/><stop offset="0.473" stop-color="#0367e1"/><stop offset="0.556" stop-color="#0566e0"/><stop offset="0.598" stop-color="#0665df"/><stop offset="0.66" stop-color="#0e5fdc"/><stop offset="0.817" stop-color="#1956d8"/><stop offset="1" stop-color="#3141b4"/></linearGradient><linearGradient id="b31"><stop offset="0" stop-color="#f9f116"/><stop offset="0.012" stop-color="#fbd62a"/><stop offset="0.021" stop-color="#fec239"/><stop offset="0.025" stop-color="#fdc03c"/><stop offset="0.029" stop-color="#f8be40"/><stop offset="0.05" stop-color="#94b575"/><stop offset="0.054" stop-color="#83b47f"/><stop offset="0.095" stop-color="#25acb1"/><stop offset="0.1" stop-color="#1dabb5"/><stop offset="0.112" stop-color="#0caabe"/><stop offset="0.183" stop-color="#07a4c7"/><stop offset="0.216" stop-color="#089ad0"/><stop offset="0.253" stop-color="#1483d4"/><stop offset="0.286" stop-color="#0973dc"/><stop offset="0.473" stop-color="#0367e1"/><stop offset="0.598" stop-color="#0665df"/><stop offset="0.66" stop-color="#0e5fdc"/><stop offset="0.826" stop-color="#1956d8"/><stop offset="0.917" stop-color="#254cc7"/><stop offset="1" stop-color="#2f42b6"/></linearGradient><linearGradient id="b32"><stop offset="0" stop-color="#f9f016"/><stop offset="0.012" stop-color="#fbd62a"/><stop offset="0.021" stop-color="#fec239"/><stop offset="0.025" stop-color="#fdc03c"/><stop offset="0.029" stop-color="#f7be41"/><stop offset="0.05" stop-color="#93b576"/><stop offset="0.054" stop-color="#82b47f"/><stop offset="0.095" stop-color="#24acb1"/><stop offset="0.104" stop-color="#17abb8"/><stop offset="0.112" stop-color="#0caabe"/><stop offset="0.183" stop-color="#07a4c7"/><stop offset="0.216" stop-color="#089ad0"/><stop offset="0.253" stop-color="#1483d4"/><stop offset="0.286" stop-color="#0973dc"/><stop offset="0.469" stop-color="#0367e1"/><stop offset="0.573" stop-color="#0566e0"/><stop offset="0.61" stop-color="#0764df"/><stop offset="0.664" stop-color="#0d5fdc"/><stop offset="0.834" stop-color="#1957d8"/><stop offset="0.917" stop-color="#244dc9"/><stop offset="1" stop-color="#2e43b8"/></linearGradient><linearGradient id="b33"><stop offset="0" stop-color="#f9f016"/><stop offset="0.012" stop-color="#fbd52b"/><stop offset="0.021" stop-color="#fec239"/><stop offset="0.025" stop-color="#fdbf3c"/><stop offset="0.029" stop-color="#f5bd42"/><stop offset="0.05" stop-color="#92b576"/><stop offset="0.054" stop-color="#81b480"/><stop offset="0.095" stop-color="#23acb2"/><stop offset="0.104" stop-color="#17abb8"/><stop offset="0.112" stop-color="#0caabe"/><stop offset="0.183" stop-color="#07a4c7"/><stop offset="0.216" stop-color="#089ad0"/><stop offset="0.253" stop-color="#1483d4"/><stop offset="0.286" stop-color="#0973dc"/><stop offset="0.469" stop-color="#0367e1"/><stop offset="0.606" stop-color="#0665df"/><stop offset="0.66" stop-color="#0d60dd"/><stop offset="0.842" stop-color="#1957d8"/><stop offset="0.905" stop-color="#214fcd"/><stop offset="1" stop-color="#2d44ba"/></linearGradient><linearGradient id="b34"><stop offset="0" stop-color="#f9ef17"/><stop offset="0.012" stop-color="#fbd42b"/><stop offset="0.021" stop-color="#fec13a"/><stop offset="0.025" stop-color="#fdbf3c"/><stop offset="0.029" stop-color="#f4bd42"/><stop offset="0.05" stop-color="#91b577"/><stop offset="0.054" stop-color="#80b480"/><stop offset="0.095" stop-color="#23acb2"/><stop offset="0.108" stop-color="#11aabc"/><stop offset="0.112" stop-color="#0caabe"/><stop offset="0.183" stop-color="#07a4c7"/><stop offset="0.216" stop-color="#089ad0"/><stop offset="0.253" stop-color="#1483d4"/><stop offset="0.286" stop-color="#0973dc"/><stop offset="0.465" stop-color="#0367e1"/><stop offset="0.61" stop-color="#0665df"/><stop offset="0.664" stop-color="#0c60dd"/><stop offset="0.846" stop-color="#1857d8"/><stop offset="0.892" stop-color="#1e52d2"/><stop offset="1" stop-color="#2c45bc"/></linearGradient><linearGradient id="b35"><stop offset="0" stop-color="#f9ef17"/><stop offset="0.012" stop-color="#fbd42c"/><stop offset="0.021" stop-color="#fec13a"/><stop offset="0.025" stop-color="#fdbf3d"/><stop offset="0.029" stop-color="#f3bd43"/><stop offset="0.05" stop-color="#90b578"/><stop offset="0.054" stop-color="#7fb481"/><stop offset="0.095" stop-color="#22acb2"/><stop offset="0.108" stop-color="#10aabc"/><stop offset="0.112" stop-color="#0caabe"/><stop offset="0.183" stop-color="#07a4c7"/><stop offset="0.216" stop-color="#0899d0"/><stop offset="0.253" stop-color="#1482d4"/><stop offset="0.286" stop-color="#0973dc"/><stop offset="0.465" stop-color="#0367e1"/><stop offset="0.61" stop-color="#0665e0"/><stop offset="0.664" stop-color="#0c61dd"/><stop offset="0.855" stop-color="#1857d8"/><stop offset="0.896" stop-color="#1e53d3"/><stop offset="1" stop-color="#2b47be"/></linearGradient><linearGradient id="b36"><stop offset="0" stop-color="#f9ee18"/><stop offset="0.012" stop-color="#fcd32c"/><stop offset="0.021" stop-color="#fec13a"/><stop offset="0.025" stop-color="#fdbf3d"/><stop offset="0.029" stop-color="#f2bd44"/><stop offset="0.05" stop-color="#8fb578"/><stop offset="0.054" stop-color="#7eb381"/><stop offset="0.091" stop-color="#29acaf"/><stop offset="0.104" stop-color="#15abb9"/><stop offset="0.112" stop-color="#0caabe"/><stop offset="0.183" stop-color="#07a4c7"/><stop offset="0.216" stop-color="#0899d0"/><stop offset="0.253" stop-color="#1482d4"/><stop offset="0.286" stop-color="#0972dc"/><stop offset="0.461" stop-color="#0367e1"/><stop offset="0.614" stop-color="#0665e0"/><stop offset="0.664" stop-color="#0b61dd"/><stop offset="0.863" stop-color="#1858d8"/><stop offset="0.905" stop-color="#1d53d3"/><stop offset="1" stop-color="#2a48c0"/></linearGradient><linearGradient id="b37"><stop offset="0" stop-color="#f9ee18"/><stop offset="0.012" stop-color="#fcd22d"/><stop offset="0.017" stop-color="#fdc835"/><stop offset="0.021" stop-color="#fec13a"/><stop offset="0.025" stop-color="#fcbf3d"/><stop offset="0.029" stop-color="#f0bd44"/><stop offset="0.05" stop-color="#8eb579"/><stop offset="0.054" stop-color="#7db382"/><stop offset="0.091" stop-color="#28acaf"/><stop offset="0.104" stop-color="#15abb9"/><stop offset="0.112" stop-color="#0caabe"/><stop offset="0.183" stop-color="#07a4c7"/><stop offset="0.216" stop-color="#0999d0"/><stop offset="0.253" stop-color="#1382d4"/><stop offset="0.286" stop-color="#0972dc"/><stop offset="0.456" stop-color="#0368e1"/><stop offset="0.519" stop-color="#0566e0"/><stop offset="0.618" stop-color="#0665df"/><stop offset="0.668" stop-color="#0b61de"/><stop offset="0.871" stop-color="#1758d8"/><stop offset="0.917" stop-color="#1e52d2"/><stop offset="1" stop-color="#2849c2"/></linearGradient><linearGradient id="b38"><stop offset="0" stop-color="#f9ed19"/><stop offset="0.012" stop-color="#fcd22d"/><stop offset="0.017" stop-color="#fdc735"/><stop offset="0.021" stop-color="#fdc13a"/><stop offset="0.025" stop-color="#fcbf3d"/><stop offset="0.029" stop-color="#efbd45"/><stop offset="0.05" stop-color="#8db579"/><stop offset="0.054" stop-color="#7cb382"/><stop offset="0.091" stop-color="#27acb0"/><stop offset="0.1" stop-color="#19abb7"/><stop offset="0.108" stop-color="#0faabd"/><stop offset="0.116" stop-color="#0baabf"/><stop offset="0.183" stop-color="#07a4c7"/><stop offset="0.216" stop-color="#0999d1"/><stop offset="0.253" stop-color="#1382d4"/><stop offset="0.286" stop-color="#0972dc"/><stop offset="0.456" stop-color="#0367e1"/><stop offset="0.622" stop-color="#0665df"/><stop offset="0.672" stop-color="#0a62de"/><stop offset="0.876" stop-color="#1758d9"/><stop offset="0.921" stop-color="#1d53d3"/><stop offset="1" stop-color="#274ac4"/></linearGradient><linearGradient id="b39"><stop offset="0" stop-color="#f9ed19"/><stop offset="0.012" stop-color="#fcd12e"/><stop offset="0.017" stop-color="#fdc736"/><stop offset="0.021" stop-color="#fdc13b"/><stop offset="0.025" stop-color="#fcbf3d"/><stop offset="0.029" stop-color="#eebd46"/><stop offset="0.05" stop-color="#8cb57a"/><stop offset="0.054" stop-color="#7bb383"/><stop offset="0.091" stop-color="#26acb0"/><stop offset="0.1" stop-color="#19abb7"/><stop offset="0.108" stop-color="#0eaabd"/><stop offset="0.12" stop-color="#0ba9bf"/><stop offset="0.183" stop-color="#07a4c7"/><stop offset="0.216" stop-color="#0999d1"/><stop offset="0.253" stop-color="#1382d5"/><stop offset="0.286" stop-color="#0972dc"/><stop offset="0.452" stop-color="#0367e1"/><stop offset="0.523" stop-color="#0566e0"/><stop offset="0.627" stop-color="#0665df"/><stop offset="0.697" stop-color="#0b61de"/><stop offset="0.888" stop-color="#1758d9"/><stop offset="0.929" stop-color="#1d53d4"/><stop offset="1" stop-color="#264bc5"/></linearGradient><linearGradient id="b40"><stop offset="0" stop-color="#faec19"/><stop offset="0.012" stop-color="#fcd02e"/><stop offset="0.017" stop-color="#fdc636"/><stop offset="0.021" stop-color="#fdc13b"/><stop offset="0.025" stop-color="#fcbe3d"/><stop offset="0.029" stop-color="#edbd46"/><stop offset="0.05" stop-color="#8bb57a"/><stop offset="0.054" stop-color="#7ab384"/><stop offset="0.091" stop-color="#25acb0"/><stop offset="0.1" stop-color="#18abb7"/><stop offset="0.108" stop-color="#0eaabd"/><stop offset="0.154" stop-color="#09a7c3"/><stop offset="0.183" stop-color="#07a4c7"/><stop offset="0.216" stop-color="#0998d1"/><stop offset="0.249" stop-color="#1484d4"/><stop offset="0.286" stop-color="#0972dc"/><stop offset="0.452" stop-color="#0367e1"/><stop offset="0.631" stop-color="#0665df"/><stop offset="0.888" stop-color="#1659d9"/><stop offset="0.934" stop-color="#1c54d5"/><stop offset="1" stop-color="#254cc7"/></linearGradient><linearGradient id="b41"><stop offset="0" stop-color="#faeb1a"/><stop offset="0.017" stop-color="#fec537"/><stop offset="0.025" stop-color="#fcbe3e"/><stop offset="0.033" stop-color="#d8bb51"/><stop offset="0.05" stop-color="#8ab47b"/><stop offset="0.054" stop-color="#79b384"/><stop offset="0.091" stop-color="#25acb1"/><stop offset="0.1" stop-color="#18abb8"/><stop offset="0.108" stop-color="#0daabd"/><stop offset="0.178" stop-color="#07a5c6"/><stop offset="0.212" stop-color="#089bd0"/><stop offset="0.249" stop-color="#1484d4"/><stop offset="0.286" stop-color="#0872dc"/><stop offset="0.448" stop-color="#0367e1"/><stop offset="0.535" stop-color="#0566e0"/><stop offset="0.635" stop-color="#0665df"/><stop offset="0.884" stop-color="#155ad9"/><stop offset="0.942" stop-color="#1c54d5"/><stop offset="1" stop-color="#244dc9"/></linearGradient><linearGradient id="b42"><stop offset="0" stop-color="#faeb1a"/><stop offset="0.017" stop-color="#fec537"/><stop offset="0.025" stop-color="#fcbe3e"/><stop offset="0.05" stop-color="#89b47b"/><stop offset="0.054" stop-color="#78b385"/><stop offset="0.091" stop-color="#24acb1"/><stop offset="0.1" stop-color="#17abb8"/><stop offset="0.108" stop-color="#0daabe"/><stop offset="0.178" stop-color="#07a5c6"/><stop offset="0.212" stop-color="#089bd0"/><stop offset="0.249" stop-color="#1484d4"/><stop offset="0.286" stop-color="#0872dc"/><stop offset="0.448" stop-color="#0367e1"/><stop offset="0.635" stop-color="#0665e0"/><stop offset="0.884" stop-color="#145ada"/><stop offset="0.95" stop-color="#1c54d5"/><stop offset="1" stop-color="#224ecb"/></linearGradient><linearGradient id="b43"><stop offset="0" stop-color="#faea1b"/><stop offset="0.017" stop-color="#fec438"/><stop offset="0.025" stop-color="#fcbe3e"/><stop offset="0.05" stop-color="#88b47c"/><stop offset="0.054" stop-color="#77b385"/><stop offset="0.087" stop-color="#2badae"/><stop offset="0.095" stop-color="#1cabb6"/><stop offset="0.108" stop-color="#0caabe"/><stop offset="0.178" stop-color="#07a5c6"/><stop offset="0.212" stop-color="#089ad0"/><stop offset="0.249" stop-color="#1483d4"/><stop offset="0.286" stop-color="#0871dc"/><stop offset="0.444" stop-color="#0367e1"/><stop offset="0.56" stop-color="#0566e0"/><stop offset="0.639" stop-color="#0665df"/><stop offset="0.88" stop-color="#135bda"/><stop offset="0.959" stop-color="#1c54d5"/><stop offset="1" stop-color="#214fcd"/></linearGradient><linearGradient id="b44"><stop offset="0" stop-color="#faea1b"/><stop offset="0.017" stop-color="#fec338"/><stop offset="0.025" stop-color="#fbbe3e"/><stop offset="0.05" stop-color="#87b47d"/><stop offset="0.054" stop-color="#75b386"/><stop offset="0.087" stop-color="#2aacae"/><stop offset="0.1" stop-color="#16abb9"/><stop offset="0.108" stop-color="#0caabe"/><stop offset="0.178" stop-color="#07a5c7"/><stop offset="0.212" stop-color="#089ad0"/><stop offset="0.249" stop-color="#1483d4"/><stop offset="0.286" stop-color="#0871dd"/><stop offset="0.444" stop-color="#0367e1"/><stop offset="0.664" stop-color="#0665df"/><stop offset="0.884" stop-color="#125cdb"/><stop offset="0.967" stop-color="#1c54d6"/><stop offset="1" stop-color="#2050cf"/></linearGradient><linearGradient id="b45"><stop offset="0" stop-color="#fae91b"/><stop offset="0.017" stop-color="#fec339"/><stop offset="0.025" stop-color="#fabe3f"/><stop offset="0.05" stop-color="#86b47d"/><stop offset="0.054" stop-color="#74b386"/><stop offset="0.087" stop-color="#29acae"/><stop offset="0.1" stop-color="#16abb9"/><stop offset="0.108" stop-color="#0caabe"/><stop offset="0.178" stop-color="#07a5c7"/><stop offset="0.212" stop-color="#089ad0"/><stop offset="0.249" stop-color="#1483d4"/><stop offset="0.286" stop-color="#0871dd"/><stop offset="0.44" stop-color="#0367e1"/><stop offset="0.614" stop-color="#0566e0"/><stop offset="0.863" stop-color="#0f5edc"/><stop offset="0.975" stop-color="#1c54d6"/><stop offset="1" stop-color="#1f51d1"/></linearGradient><linearGradient id="b46"><stop offset="0" stop-color="#fae91c"/><stop offset="0.017" stop-color="#fec239"/><stop offset="0.025" stop-color="#f9be40"/><stop offset="0.05" stop-color="#85b47e"/><stop offset="0.054" stop-color="#73b387"/><stop offset="0.087" stop-color="#28acaf"/><stop offset="0.1" stop-color="#15abb9"/><stop offset="0.108" stop-color="#0caabe"/><stop offset="0.178" stop-color="#07a4c7"/><stop offset="0.212" stop-color="#089ad0"/><stop offset="0.249" stop-color="#1483d4"/><stop offset="0.286" stop-color="#0871dd"/><stop offset="0.44" stop-color="#0367e0"/><stop offset="0.718" stop-color="#0764df"/><stop offset="0.913" stop-color="#135bda"/><stop offset="0.988" stop-color="#1c54d5"/><stop offset="1" stop-color="#1e52d3"/></linearGradient><linearGradient id="b47"><stop offset="0" stop-color="#fae81c"/><stop offset="0.017" stop-color="#fec239"/><stop offset="0.021" stop-color="#fdc03c"/><stop offset="0.025" stop-color="#f8be40"/><stop offset="0.05" stop-color="#84b47e"/><stop offset="0.054" stop-color="#72b387"/><stop offset="0.087" stop-color="#27acaf"/><stop offset="0.1" stop-color="#15abb9"/><stop offset="0.108" stop-color="#0caabe"/><stop offset="0.178" stop-color="#07a4c7"/><stop offset="0.212" stop-color="#089ad0"/><stop offset="0.249" stop-color="#1483d4"/><stop offset="0.286" stop-color="#0871dd"/><stop offset="0.436" stop-color="#0367e1"/><stop offset="0.726" stop-color="#0764df"/><stop offset="0.921" stop-color="#125cda"/><stop offset="0.996" stop-color="#1c54d5"/><stop offset="1" stop-color="#1d54d4"/></linearGradient><linearGradient id="b48"><stop offset="0" stop-color="#fae81d"/><stop offset="0.017" stop-color="#fec239"/><stop offset="0.021" stop-color="#fdc03c"/><stop offset="0.025" stop-color="#f6be41"/><stop offset="0.05" stop-color="#83b47f"/><stop offset="0.054" stop-color="#71b288"/><stop offset="0.087" stop-color="#27acb0"/><stop offset="0.1" stop-color="#14abba"/><stop offset="0.108" stop-color="#0caabe"/><stop offset="0.178" stop-color="#07a4c7"/><stop offset="0.212" stop-color="#089ad0"/><stop offset="0.249" stop-color="#1483d4"/><stop offset="0.286" stop-color="#0871dd"/><stop offset="0.432" stop-color="#0367e1"/><stop offset="0.498" stop-color="#0566e0"/><stop offset="0.701" stop-color="#0566e0"/><stop offset="0.913" stop-color="#105ddb"/><stop offset="1" stop-color="#1b55d6"/></linearGradient><linearGradient id="b49"><stop offset="0" stop-color="#fae71d"/><stop offset="0.017" stop-color="#fec23a"/><stop offset="0.021" stop-color="#fdbf3c"/><stop offset="0.025" stop-color="#f5bd42"/><stop offset="0.05" stop-color="#82b47f"/><stop offset="0.054" stop-color="#70b288"/><stop offset="0.087" stop-color="#26acb0"/><stop offset="0.104" stop-color="#0faabd"/><stop offset="0.112" stop-color="#0caabf"/><stop offset="0.178" stop-color="#07a4c7"/><stop offset="0.212" stop-color="#0899d0"/><stop offset="0.249" stop-color="#1482d4"/><stop offset="0.286" stop-color="#0871dd"/><stop offset="0.432" stop-color="#0367e1"/><stop offset="0.714" stop-color="#0566e0"/><stop offset="0.921" stop-color="#105ddb"/><stop offset="1" stop-color="#1a56d7"/></linearGradient><linearGradient id="b50"><stop offset="0" stop-color="#fae61e"/><stop offset="0.017" stop-color="#fec13a"/><stop offset="0.021" stop-color="#fdbf3c"/><stop offset="0.025" stop-color="#f4bd42"/><stop offset="0.05" stop-color="#81b480"/><stop offset="0.054" stop-color="#6fb289"/><stop offset="0.087" stop-color="#25acb1"/><stop offset="0.1" stop-color="#13abba"/><stop offset="0.108" stop-color="#0caabe"/><stop offset="0.178" stop-color="#07a4c7"/><stop offset="0.212" stop-color="#0899d0"/><stop offset="0.249" stop-color="#1482d4"/><stop offset="0.286" stop-color="#0870dd"/><stop offset="0.427" stop-color="#0367e1"/><stop offset="0.502" stop-color="#0566e0"/><stop offset="0.639" stop-color="#0367e1"/><stop offset="0.876" stop-color="#0c61dd"/><stop offset="1" stop-color="#1957d8"/></linearGradient><linearGradient id="b51"><stop offset="0" stop-color="#fae61e"/><stop offset="0.012" stop-color="#fdc934"/><stop offset="0.017" stop-color="#fec13a"/><stop offset="0.021" stop-color="#fdbf3d"/><stop offset="0.025" stop-color="#f3bd43"/><stop offset="0.05" stop-color="#80b480"/><stop offset="0.054" stop-color="#6eb28a"/><stop offset="0.083" stop-color="#2cadad"/><stop offset="0.095" stop-color="#18abb8"/><stop offset="0.104" stop-color="#0eaabd"/><stop offset="0.17" stop-color="#07a6c5"/><stop offset="0.212" stop-color="#0999d0"/><stop offset="0.249" stop-color="#1382d4"/><stop offset="0.286" stop-color="#0870dd"/><stop offset="0.427" stop-color="#0367e1"/><stop offset="0.631" stop-color="#0367e0"/><stop offset="0.759" stop-color="#0566e0"/><stop offset="0.946" stop-color="#105ddb"/><stop offset="1" stop-color="#1758d9"/></linearGradient><linearGradient id="b52"><stop offset="0" stop-color="#fae51e"/><stop offset="0.012" stop-color="#fdc834"/><stop offset="0.017" stop-color="#fec13a"/><stop offset="0.021" stop-color="#fcbf3d"/><stop offset="0.025" stop-color="#f1bd44"/><stop offset="0.05" stop-color="#7fb481"/><stop offset="0.054" stop-color="#6db28a"/><stop offset="0.083" stop-color="#2badae"/><stop offset="0.095" stop-color="#17abb8"/><stop offset="0.104" stop-color="#0daabd"/><stop offset="0.178" stop-color="#07a4c7"/><stop offset="0.212" stop-color="#0999d1"/><stop offset="0.249" stop-color="#1382d4"/><stop offset="0.286" stop-color="#0770dd"/><stop offset="0.423" stop-color="#0367e1"/><stop offset="0.519" stop-color="#0566e0"/><stop offset="0.627" stop-color="#0367e1"/><stop offset="0.747" stop-color="#0466e0"/><stop offset="0.942" stop-color="#0f5edc"/><stop offset="1" stop-color="#1659d9"/></linearGradient><linearGradient id="b53"><stop offset="0" stop-color="#fae51f"/><stop offset="0.012" stop-color="#fdc735"/><stop offset="0.017" stop-color="#fdc13a"/><stop offset="0.021" stop-color="#fcbf3d"/><stop offset="0.025" stop-color="#f0bd44"/><stop offset="0.05" stop-color="#7db381"/><stop offset="0.054" stop-color="#6cb28b"/><stop offset="0.083" stop-color="#2aadae"/><stop offset="0.095" stop-color="#17abb8"/><stop offset="0.104" stop-color="#0daabe"/><stop offset="0.178" stop-color="#07a4c7"/><stop offset="0.212" stop-color="#0999d1"/><stop offset="0.249" stop-color="#1382d5"/><stop offset="0.286" stop-color="#0770dd"/><stop offset="0.423" stop-color="#0367e1"/><stop offset="0.622" stop-color="#0367e1"/><stop offset="0.763" stop-color="#0467e0"/><stop offset="0.954" stop-color="#0f5edc"/><stop offset="1" stop-color="#145ada"/></linearGradient><linearGradient id="b54"><stop offset="0" stop-color="#fae41f"/><stop offset="0.012" stop-color="#fdc735"/><stop offset="0.017" stop-color="#fdc13a"/><stop offset="0.021" stop-color="#fcbf3d"/><stop offset="0.025" stop-color="#efbd45"/><stop offset="0.05" stop-color="#7cb382"/><stop offset="0.054" stop-color="#6bb28b"/><stop offset="0.083" stop-color="#29acae"/><stop offset="0.095" stop-color="#16abb8"/><stop offset="0.104" stop-color="#0caabe"/><stop offset="0.174" stop-color="#07a5c6"/><stop offset="0.212" stop-color="#0999d1"/><stop offset="0.249" stop-color="#1382d5"/><stop offset="0.286" stop-color="#0770dd"/><stop offset="0.419" stop-color="#0367e1"/><stop offset="0.548" stop-color="#0566e0"/><stop offset="0.622" stop-color="#0368e1"/><stop offset="0.793" stop-color="#0466e0"/><stop offset="0.971" stop-color="#0f5edc"/><stop offset="1" stop-color="#135bda"/></linearGradient><linearGradient id="b55"><stop offset="0" stop-color="#fae420"/><stop offset="0.012" stop-color="#fdc636"/><stop offset="0.017" stop-color="#fdc13b"/><stop offset="0.021" stop-color="#fcbf3d"/><stop offset="0.025" stop-color="#eebd46"/><stop offset="0.05" stop-color="#7bb383"/><stop offset="0.054" stop-color="#6ab28c"/><stop offset="0.083" stop-color="#29acaf"/><stop offset="0.095" stop-color="#16abb9"/><stop offset="0.104" stop-color="#0caabe"/><stop offset="0.174" stop-color="#07a5c6"/><stop offset="0.207" stop-color="#089bd0"/><stop offset="0.245" stop-color="#1484d4"/><stop offset="0.286" stop-color="#0770dd"/><stop offset="0.419" stop-color="#0367e1"/><stop offset="0.61" stop-color="#0367e0"/><stop offset="0.714" stop-color="#0268e1"/><stop offset="0.909" stop-color="#0963de"/><stop offset="1" stop-color="#115cdb"/></linearGradient><linearGradient id="b56"><stop offset="0" stop-color="#fae320"/><stop offset="0.012" stop-color="#fec536"/><stop offset="0.021" stop-color="#fcbe3d"/><stop offset="0.025" stop-color="#edbd46"/><stop offset="0.05" stop-color="#7ab383"/><stop offset="0.054" stop-color="#69b28c"/><stop offset="0.083" stop-color="#28acaf"/><stop offset="0.095" stop-color="#15abb9"/><stop offset="0.104" stop-color="#0caabe"/><stop offset="0.174" stop-color="#07a5c6"/><stop offset="0.207" stop-color="#089bd0"/><stop offset="0.245" stop-color="#1484d4"/><stop offset="0.286" stop-color="#0770dd"/><stop offset="0.415" stop-color="#0367e1"/><stop offset="0.593" stop-color="#0566e0"/><stop offset="0.639" stop-color="#0369e1"/><stop offset="0.826" stop-color="#0467e0"/><stop offset="0.992" stop-color="#0f5edc"/><stop offset="1" stop-color="#105edc"/></linearGradient><linearGradient id="b57"><stop offset="0" stop-color="#fae320"/><stop offset="0.012" stop-color="#fec537"/><stop offset="0.021" stop-color="#fcbe3e"/><stop offset="0.029" stop-color="#d8bb51"/><stop offset="0.05" stop-color="#79b384"/><stop offset="0.054" stop-color="#68b28d"/><stop offset="0.083" stop-color="#27acb0"/><stop offset="0.1" stop-color="#10aabc"/><stop offset="0.104" stop-color="#0caabe"/><stop offset="0.174" stop-color="#07a5c6"/><stop offset="0.207" stop-color="#089bd0"/><stop offset="0.245" stop-color="#1483d4"/><stop offset="0.286" stop-color="#076fdd"/><stop offset="0.411" stop-color="#0368e1"/><stop offset="0.469" stop-color="#0566e0"/><stop offset="0.602" stop-color="#0367e1"/><stop offset="0.701" stop-color="#0369e1"/><stop offset="0.851" stop-color="#0466e0"/><stop offset="1" stop-color="#0e5fdc"/></linearGradient><linearGradient id="b58"><stop offset="0" stop-color="#fae221"/><stop offset="0.012" stop-color="#fec437"/><stop offset="0.021" stop-color="#fcbe3e"/><stop offset="0.05" stop-color="#78b384"/><stop offset="0.054" stop-color="#67b28d"/><stop offset="0.083" stop-color="#26acb0"/><stop offset="0.1" stop-color="#0faabc"/><stop offset="0.104" stop-color="#0caabe"/><stop offset="0.174" stop-color="#07a5c7"/><stop offset="0.207" stop-color="#089ad0"/><stop offset="0.245" stop-color="#1483d4"/><stop offset="0.286" stop-color="#076fdd"/><stop offset="0.411" stop-color="#0367e1"/><stop offset="0.593" stop-color="#0367e0"/><stop offset="0.689" stop-color="#0369e0"/><stop offset="0.863" stop-color="#0467e0"/><stop offset="1" stop-color="#0d60dd"/></linearGradient><linearGradient id="b59"><stop offset="0" stop-color="#fae221"/><stop offset="0.012" stop-color="#fec338"/><stop offset="0.021" stop-color="#fcbe3e"/><stop offset="0.05" stop-color="#77b385"/><stop offset="0.054" stop-color="#66b18e"/><stop offset="0.079" stop-color="#2dadac"/><stop offset="0.091" stop-color="#19abb7"/><stop offset="0.104" stop-color="#0caabe"/><stop offset="0.174" stop-color="#07a5c7"/><stop offset="0.207" stop-color="#089ad0"/><stop offset="0.245" stop-color="#1483d4"/><stop offset="0.286" stop-color="#076fde"/><stop offset="0.407" stop-color="#0367e1"/><stop offset="0.473" stop-color="#0566e0"/><stop offset="0.593" stop-color="#0367e1"/><stop offset="0.697" stop-color="#0369e0"/><stop offset="0.884" stop-color="#0467e0"/><stop offset="1" stop-color="#0b61dd"/></linearGradient><linearGradient id="b60"><stop offset="0" stop-color="#fae122"/><stop offset="0.012" stop-color="#fec338"/><stop offset="0.021" stop-color="#fbbe3f"/><stop offset="0.046" stop-color="#88b47c"/><stop offset="0.054" stop-color="#65b18f"/><stop offset="0.079" stop-color="#2cadad"/><stop offset="0.091" stop-color="#19abb7"/><stop offset="0.1" stop-color="#0eaabd"/><stop offset="0.112" stop-color="#0ba9bf"/><stop offset="0.174" stop-color="#07a4c7"/><stop offset="0.207" stop-color="#089ad0"/><stop offset="0.245" stop-color="#1483d4"/><stop offset="0.286" stop-color="#076fde"/><stop offset="0.407" stop-color="#0367e1"/><stop offset="0.585" stop-color="#0367e0"/><stop offset="0.689" stop-color="#036ae0"/><stop offset="0.905" stop-color="#0367e0"/><stop offset="1" stop-color="#0a62de"/></linearGradient><linearGradient id="b61"><stop offset="0" stop-color="#fae022"/><stop offset="0.012" stop-color="#fec239"/><stop offset="0.021" stop-color="#fabe3f"/><stop offset="0.046" stop-color="#87b47c"/><stop offset="0.054" stop-color="#64b18f"/><stop offset="0.079" stop-color="#2badad"/><stop offset="0.091" stop-color="#18abb8"/><stop offset="0.1" stop-color="#0eaabd"/><stop offset="0.129" stop-color="#0aa8c1"/><stop offset="0.174" stop-color="#07a4c7"/><stop offset="0.207" stop-color="#089ad0"/><stop offset="0.245" stop-color="#1483d4"/><stop offset="0.286" stop-color="#076fde"/><stop offset="0.402" stop-color="#0367e1"/><stop offset="0.485" stop-color="#0566e0"/><stop offset="0.585" stop-color="#0367e1"/><stop offset="0.697" stop-color="#036ae0"/><stop offset="0.925" stop-color="#0367e0"/><stop offset="1" stop-color="#0863de"/></linearGradient><linearGradient id="b62"><stop offset="0" stop-color="#fae023"/><stop offset="0.012" stop-color="#fec239"/><stop offset="0.017" stop-color="#fdc03c"/><stop offset="0.021" stop-color="#f9be40"/><stop offset="0.046" stop-color="#86b47d"/><stop offset="0.054" stop-color="#63b190"/><stop offset="0.079" stop-color="#2aadae"/><stop offset="0.091" stop-color="#18abb8"/><stop offset="0.1" stop-color="#0daabd"/><stop offset="0.174" stop-color="#07a4c7"/><stop offset="0.207" stop-color="#089ad0"/><stop offset="0.245" stop-color="#1483d4"/><stop offset="0.286" stop-color="#076fde"/><stop offset="0.402" stop-color="#0367e1"/><stop offset="0.577" stop-color="#0367e1"/><stop offset="0.689" stop-color="#036ae0"/><stop offset="0.946" stop-color="#0367e0"/><stop offset="1" stop-color="#0764df"/></linearGradient><linearGradient id="b63"><stop offset="0" stop-color="#fadf23"/><stop offset="0.012" stop-color="#fec239"/><stop offset="0.017" stop-color="#fdc03c"/><stop offset="0.021" stop-color="#f7be40"/><stop offset="0.046" stop-color="#85b47d"/><stop offset="0.054" stop-color="#62b190"/><stop offset="0.079" stop-color="#29acae"/><stop offset="0.091" stop-color="#17abb8"/><stop offset="0.1" stop-color="#0daabe"/><stop offset="0.174" stop-color="#07a4c7"/><stop offset="0.207" stop-color="#0899d0"/><stop offset="0.245" stop-color="#1483d4"/><stop offset="0.286" stop-color="#066fde"/><stop offset="0.398" stop-color="#0367e1"/><stop offset="0.502" stop-color="#0566e0"/><stop offset="0.577" stop-color="#0368e1"/><stop offset="0.693" stop-color="#046ae0"/><stop offset="0.967" stop-color="#0367e0"/><stop offset="1" stop-color="#0565e0"/></linearGradient><linearGradient id="b64"><stop offset="0" stop-color="#fadf23"/><stop offset="0.012" stop-color="#fec23a"/><stop offset="0.017" stop-color="#fdbf3c"/><stop offset="0.021" stop-color="#f6be41"/><stop offset="0.046" stop-color="#84b47e"/><stop offset="0.054" stop-color="#61b191"/><stop offset="0.079" stop-color="#29acaf"/><stop offset="0.095" stop-color="#12aabb"/><stop offset="0.1" stop-color="#0caabe"/><stop offset="0.174" stop-color="#07a4c7"/><stop offset="0.207" stop-color="#0899d0"/><stop offset="0.245" stop-color="#1482d4"/><stop offset="0.286" stop-color="#066ede"/><stop offset="0.398" stop-color="#0367e1"/><stop offset="0.564" stop-color="#0367e0"/><stop offset="0.685" stop-color="#046be0"/><stop offset="0.992" stop-color="#0367e0"/><stop offset="1" stop-color="#0467e0"/></linearGradient><linearGradient id="b65"><stop offset="0" stop-color="#fade24"/><stop offset="0.012" stop-color="#fec13a"/><stop offset="0.017" stop-color="#fdbf3c"/><stop offset="0.021" stop-color="#f5bd42"/><stop offset="0.046" stop-color="#83b47e"/><stop offset="0.054" stop-color="#60b191"/><stop offset="0.079" stop-color="#28acaf"/><stop offset="0.095" stop-color="#1ab"/><stop offset="0.1" stop-color="#0caabe"/><stop offset="0.174" stop-color="#07a4c7"/><stop offset="0.207" stop-color="#0999d0"/><stop offset="0.245" stop-color="#1382d4"/><stop offset="0.286" stop-color="#066ede"/><stop offset="0.394" stop-color="#0367e1"/><stop offset="0.544" stop-color="#0566e0"/><stop offset="0.593" stop-color="#0369e1"/><stop offset="0.73" stop-color="#046be0"/><stop offset="1" stop-color="#0268e1"/></linearGradient><linearGradient id="b66"><stop offset="0" stop-color="#fade24"/><stop offset="0.008" stop-color="#fdc934"/><stop offset="0.012" stop-color="#fec13a"/><stop offset="0.017" stop-color="#fdbf3d"/><stop offset="0.021" stop-color="#f4bd42"/><stop offset="0.046" stop-color="#82b47f"/><stop offset="0.054" stop-color="#5fb192"/><stop offset="0.079" stop-color="#27acaf"/><stop offset="0.095" stop-color="#11aabc"/><stop offset="0.1" stop-color="#0caabe"/><stop offset="0.174" stop-color="#07a4c7"/><stop offset="0.207" stop-color="#0999d0"/><stop offset="0.245" stop-color="#1382d4"/><stop offset="0.286" stop-color="#066ede"/><stop offset="0.394" stop-color="#0367e1"/><stop offset="0.556" stop-color="#0367e1"/><stop offset="0.685" stop-color="#046bdf"/><stop offset="1" stop-color="#0268e1"/></linearGradient><linearGradient id="b67"><stop offset="0" stop-color="#fadd25"/><stop offset="0.008" stop-color="#fdc834"/><stop offset="0.012" stop-color="#fec13a"/><stop offset="0.017" stop-color="#fdbf3d"/><stop offset="0.021" stop-color="#f3bd43"/><stop offset="0.05" stop-color="#6fb289"/><stop offset="0.054" stop-color="#5eb192"/><stop offset="0.079" stop-color="#27acb0"/><stop offset="0.095" stop-color="#10aabc"/><stop offset="0.1" stop-color="#0caabe"/><stop offset="0.174" stop-color="#07a4c7"/><stop offset="0.207" stop-color="#0999d1"/><stop offset="0.245" stop-color="#1382d5"/><stop offset="0.286" stop-color="#066ede"/><stop offset="0.39" stop-color="#0367e1"/><stop offset="0.544" stop-color="#0466e0"/><stop offset="0.593" stop-color="#0369e0"/><stop offset="0.734" stop-color="#046bdf"/><stop offset="1" stop-color="#0369e1"/></linearGradient><linearGradient id="b68"><stop offset="0" stop-color="#fadc25"/><stop offset="0.008" stop-color="#fdc835"/><stop offset="0.012" stop-color="#fec13a"/><stop offset="0.017" stop-color="#fcbf3d"/><stop offset="0.021" stop-color="#f1bd44"/><stop offset="0.05" stop-color="#6eb28a"/><stop offset="0.054" stop-color="#5db193"/><stop offset="0.075" stop-color="#2dadac"/><stop offset="0.087" stop-color="#1aabb7"/><stop offset="0.1" stop-color="#0caabe"/><stop offset="0.17" stop-color="#07a5c6"/><stop offset="0.207" stop-color="#0999d1"/><stop offset="0.245" stop-color="#1382d5"/><stop offset="0.286" stop-color="#066ede"/><stop offset="0.386" stop-color="#0368e1"/><stop offset="0.448" stop-color="#0566e0"/><stop offset="0.548" stop-color="#0367e1"/><stop offset="0.685" stop-color="#046cdf"/><stop offset="1" stop-color="#036ae0"/></linearGradient><linearGradient id="b69"><stop offset="0" stop-color="#fadc26"/><stop offset="0.008" stop-color="#fdc735"/><stop offset="0.012" stop-color="#fdc13a"/><stop offset="0.017" stop-color="#fcbf3d"/><stop offset="0.021" stop-color="#f0bd44"/><stop offset="0.05" stop-color="#6db28a"/><stop offset="0.054" stop-color="#5cb194"/><stop offset="0.075" stop-color="#2cadad"/><stop offset="0.091" stop-color="#14abba"/><stop offset="0.1" stop-color="#0caabe"/><stop offset="0.17" stop-color="#07a5c6"/><stop offset="0.203" stop-color="#089bd0"/><stop offset="0.241" stop-color="#1484d4"/><stop offset="0.286" stop-color="#066ede"/><stop offset="0.386" stop-color="#0367e1"/><stop offset="0.539" stop-color="#0367e0"/><stop offset="0.685" stop-color="#056cdf"/><stop offset="1" stop-color="#036ae0"/></linearGradient><linearGradient id="b70"><stop offset="0" stop-color="#fadb26"/><stop offset="0.008" stop-color="#fdc636"/><stop offset="0.012" stop-color="#fdc13b"/><stop offset="0.017" stop-color="#fcbf3d"/><stop offset="0.021" stop-color="#efbd45"/><stop offset="0.05" stop-color="#6cb28b"/><stop offset="0.054" stop-color="#5bb194"/><stop offset="0.075" stop-color="#2badad"/><stop offset="0.091" stop-color="#14abba"/><stop offset="0.1" stop-color="#0caabe"/><stop offset="0.17" stop-color="#07a5c6"/><stop offset="0.203" stop-color="#089bd0"/><stop offset="0.241" stop-color="#1484d4"/><stop offset="0.286" stop-color="#066ede"/><stop offset="0.382" stop-color="#0367e1"/><stop offset="0.452" stop-color="#0566e0"/><stop offset="0.539" stop-color="#0367e1"/><stop offset="0.685" stop-color="#056cdf"/><stop offset="1" stop-color="#046be0"/></linearGradient><linearGradient id="b71"><stop offset="0" stop-color="#fbda27"/><stop offset="0.008" stop-color="#fdc636"/><stop offset="0.012" stop-color="#fdc13b"/><stop offset="0.017" stop-color="#fcbf3d"/><stop offset="0.021" stop-color="#eebd46"/><stop offset="0.05" stop-color="#6bb28b"/><stop offset="0.054" stop-color="#5ab095"/><stop offset="0.075" stop-color="#2aadae"/><stop offset="0.095" stop-color="#0eaabd"/><stop offset="0.112" stop-color="#0ba9bf"/><stop offset="0.17" stop-color="#07a5c6"/><stop offset="0.203" stop-color="#089bd0"/><stop offset="0.241" stop-color="#1484d4"/><stop offset="0.286" stop-color="#066dde"/><stop offset="0.382" stop-color="#0367e1"/><stop offset="0.531" stop-color="#0367e1"/><stop offset="0.685" stop-color="#056cdf"/><stop offset="1" stop-color="#046bdf"/></linearGradient><linearGradient id="b72"><stop offset="0" stop-color="#fbda27"/><stop offset="0.008" stop-color="#fec537"/><stop offset="0.017" stop-color="#fcbe3e"/><stop offset="0.021" stop-color="#edbd46"/><stop offset="0.05" stop-color="#6ab28c"/><stop offset="0.054" stop-color="#59b095"/><stop offset="0.075" stop-color="#2aacae"/><stop offset="0.095" stop-color="#0eaabd"/><stop offset="0.17" stop-color="#07a5c6"/><stop offset="0.203" stop-color="#089ad0"/><stop offset="0.241" stop-color="#1483d4"/><stop offset="0.286" stop-color="#066dde"/><stop offset="0.378" stop-color="#0367e1"/><stop offset="0.465" stop-color="#0566e0"/><stop offset="0.531" stop-color="#0368e1"/><stop offset="0.689" stop-color="#056ddf"/><stop offset="1" stop-color="#056cdf"/></linearGradient><linearGradient id="b73"><stop offset="0" stop-color="#fbd928"/><stop offset="0.008" stop-color="#fec437"/><stop offset="0.017" stop-color="#fcbe3e"/><stop offset="0.025" stop-color="#d8bb51"/><stop offset="0.05" stop-color="#69b28d"/><stop offset="0.054" stop-color="#58b096"/><stop offset="0.075" stop-color="#29acaf"/><stop offset="0.095" stop-color="#0daabd"/><stop offset="0.17" stop-color="#07a5c7"/><stop offset="0.203" stop-color="#089ad0"/><stop offset="0.241" stop-color="#1483d4"/><stop offset="0.286" stop-color="#056dde"/><stop offset="0.378" stop-color="#0367e1"/><stop offset="0.519" stop-color="#0367e0"/><stop offset="0.61" stop-color="#046bdf"/><stop offset="1" stop-color="#056cdf"/></linearGradient><linearGradient id="b74"><stop offset="0" stop-color="#fbd828"/><stop offset="0.008" stop-color="#fec438"/><stop offset="0.017" stop-color="#fcbe3e"/><stop offset="0.05" stop-color="#68b28d"/><stop offset="0.054" stop-color="#56b096"/><stop offset="0.075" stop-color="#28acaf"/><stop offset="0.095" stop-color="#0daabe"/><stop offset="0.17" stop-color="#07a4c7"/><stop offset="0.203" stop-color="#089ad0"/><stop offset="0.241" stop-color="#1483d4"/><stop offset="0.286" stop-color="#056ddf"/><stop offset="0.373" stop-color="#0367e1"/><stop offset="0.49" stop-color="#0566e0"/><stop offset="0.552" stop-color="#0369e0"/><stop offset="0.697" stop-color="#056ddf"/><stop offset="1" stop-color="#056ddf"/></linearGradient><linearGradient id="b75"><stop offset="0" stop-color="#fbd829"/><stop offset="0.008" stop-color="#fec338"/><stop offset="0.017" stop-color="#fcbe3e"/><stop offset="0.05" stop-color="#67b28e"/><stop offset="0.054" stop-color="#55b097"/><stop offset="0.075" stop-color="#28acaf"/><stop offset="0.095" stop-color="#0caabe"/><stop offset="0.17" stop-color="#07a4c7"/><stop offset="0.203" stop-color="#089ad0"/><stop offset="0.241" stop-color="#1483d4"/><stop offset="0.286" stop-color="#056ddf"/><stop offset="0.373" stop-color="#0367e1"/><stop offset="0.51" stop-color="#0367e1"/><stop offset="0.685" stop-color="#066dde"/><stop offset="1" stop-color="#066ede"/></linearGradient><linearGradient id="b76"><stop offset="0" stop-color="#fbd729"/><stop offset="0.008" stop-color="#fec239"/><stop offset="0.017" stop-color="#fbbe3f"/><stop offset="0.05" stop-color="#66b18e"/><stop offset="0.054" stop-color="#54b097"/><stop offset="0.071" stop-color="#2fadac"/><stop offset="0.087" stop-color="#16abb9"/><stop offset="0.095" stop-color="#0caabe"/><stop offset="0.17" stop-color="#07a4c7"/><stop offset="0.203" stop-color="#089ad0"/><stop offset="0.241" stop-color="#1483d4"/><stop offset="0.286" stop-color="#056ddf"/><stop offset="0.369" stop-color="#0367e1"/><stop offset="0.494" stop-color="#0466e0"/><stop offset="0.539" stop-color="#0369e1"/><stop offset="0.693" stop-color="#066ede"/><stop offset="1" stop-color="#066ede"/></linearGradient><linearGradient id="b77"><stop offset="0" stop-color="#fbd62a"/><stop offset="0.008" stop-color="#fec239"/><stop offset="0.017" stop-color="#fabe3f"/><stop offset="0.05" stop-color="#65b18f"/><stop offset="0.054" stop-color="#53b098"/><stop offset="0.071" stop-color="#2dadac"/><stop offset="0.087" stop-color="#15abb9"/><stop offset="0.095" stop-color="#0caabe"/><stop offset="0.17" stop-color="#07a4c7"/><stop offset="0.203" stop-color="#089ad0"/><stop offset="0.241" stop-color="#1483d4"/><stop offset="0.286" stop-color="#056ddf"/><stop offset="0.369" stop-color="#0367e0"/><stop offset="0.502" stop-color="#0367e1"/><stop offset="0.685" stop-color="#066ede"/><stop offset="1" stop-color="#066fde"/></linearGradient><linearGradient id="b78"><stop offset="0" stop-color="#fbd62a"/><stop offset="0.008" stop-color="#fec239"/><stop offset="0.012" stop-color="#fdc03c"/><stop offset="0.017" stop-color="#f8be40"/><stop offset="0.05" stop-color="#64b18f"/><stop offset="0.054" stop-color="#52b098"/><stop offset="0.071" stop-color="#2cadad"/><stop offset="0.091" stop-color="#10aabc"/><stop offset="0.095" stop-color="#0caabe"/><stop offset="0.17" stop-color="#07a4c7"/><stop offset="0.203" stop-color="#0899d0"/><stop offset="0.241" stop-color="#1482d4"/><stop offset="0.286" stop-color="#056ddf"/><stop offset="0.365" stop-color="#0367e1"/><stop offset="0.49" stop-color="#0467e0"/><stop offset="0.535" stop-color="#0369e0"/><stop offset="0.697" stop-color="#066ede"/><stop offset="1" stop-color="#076fdd"/></linearGradient><linearGradient id="b79"><stop offset="0" stop-color="#fbd52b"/><stop offset="0.008" stop-color="#fec239"/><stop offset="0.012" stop-color="#fdc03c"/><stop offset="0.017" stop-color="#f7be41"/><stop offset="0.05" stop-color="#63b190"/><stop offset="0.054" stop-color="#51b099"/><stop offset="0.071" stop-color="#2badad"/><stop offset="0.091" stop-color="#0faabc"/><stop offset="0.095" stop-color="#0caabe"/><stop offset="0.17" stop-color="#07a4c7"/><stop offset="0.203" stop-color="#0899d0"/><stop offset="0.241" stop-color="#1482d4"/><stop offset="0.286" stop-color="#056cdf"/><stop offset="0.365" stop-color="#0367e0"/><stop offset="0.49" stop-color="#0367e0"/><stop offset="0.685" stop-color="#066ede"/><stop offset="1" stop-color="#0770dd"/></linearGradient><linearGradient id="b80"><stop offset="0" stop-color="#fbd42b"/><stop offset="0.008" stop-color="#fec23a"/><stop offset="0.012" stop-color="#fdbf3c"/><stop offset="0.017" stop-color="#f6bd41"/><stop offset="0.05" stop-color="#62b190"/><stop offset="0.054" stop-color="#50b09a"/><stop offset="0.071" stop-color="#2aadae"/><stop offset="0.091" stop-color="#0faabd"/><stop offset="0.1" stop-color="#0caabe"/><stop offset="0.17" stop-color="#07a4c7"/><stop offset="0.203" stop-color="#0999d0"/><stop offset="0.241" stop-color="#1382d4"/><stop offset="0.286" stop-color="#056cdf"/><stop offset="0.361" stop-color="#0367e1"/><stop offset="0.485" stop-color="#0367e1"/><stop offset="0.685" stop-color="#066ede"/><stop offset="1" stop-color="#0870dd"/></linearGradient><linearGradient id="b81"><stop offset="0" stop-color="#fbd42c"/><stop offset="0.008" stop-color="#fec13a"/><stop offset="0.012" stop-color="#fdbf3c"/><stop offset="0.017" stop-color="#f5bd42"/><stop offset="0.05" stop-color="#61b191"/><stop offset="0.054" stop-color="#4fb09a"/><stop offset="0.071" stop-color="#2aacae"/><stop offset="0.091" stop-color="#0eaabd"/><stop offset="0.104" stop-color="#0baabf"/><stop offset="0.17" stop-color="#07a4c7"/><stop offset="0.203" stop-color="#0999d1"/><stop offset="0.241" stop-color="#1382d4"/><stop offset="0.286" stop-color="#056cdf"/><stop offset="0.361" stop-color="#0367e0"/><stop offset="0.481" stop-color="#0367e1"/><stop offset="0.685" stop-color="#066fde"/><stop offset="1" stop-color="#0871dd"/></linearGradient><linearGradient id="b82"><stop offset="0" stop-color="#fcd32c"/><stop offset="0.008" stop-color="#fec13a"/><stop offset="0.012" stop-color="#fdbf3d"/><stop offset="0.017" stop-color="#f4bd42"/><stop offset="0.05" stop-color="#60b191"/><stop offset="0.054" stop-color="#4eb09b"/><stop offset="0.071" stop-color="#29acae"/><stop offset="0.091" stop-color="#0eaabd"/><stop offset="0.162" stop-color="#07a6c5"/><stop offset="0.203" stop-color="#0999d1"/><stop offset="0.241" stop-color="#1382d5"/><stop offset="0.286" stop-color="#056cdf"/><stop offset="0.357" stop-color="#0367e1"/><stop offset="0.473" stop-color="#0367e0"/><stop offset="0.564" stop-color="#046bdf"/><stop offset="0.714" stop-color="#076fde"/><stop offset="1" stop-color="#0872dc"/></linearGradient><linearGradient id="b83"><stop offset="0" stop-color="#fcd22d"/><stop offset="0.004" stop-color="#fdc834"/><stop offset="0.008" stop-color="#fec13a"/><stop offset="0.012" stop-color="#fcbf3d"/><stop offset="0.017" stop-color="#f2bd43"/><stop offset="0.05" stop-color="#5eb192"/><stop offset="0.054" stop-color="#4daf9b"/><stop offset="0.071" stop-color="#29acaf"/><stop offset="0.091" stop-color="#0daabd"/><stop offset="0.166" stop-color="#07a5c6"/><stop offset="0.199" stop-color="#089bd0"/><stop offset="0.237" stop-color="#1484d4"/><stop offset="0.286" stop-color="#056cdf"/><stop offset="0.357" stop-color="#0367e0"/><stop offset="0.469" stop-color="#0367e0"/><stop offset="0.585" stop-color="#056ddf"/><stop offset="0.755" stop-color="#076fdd"/><stop offset="1" stop-color="#0972dc"/></linearGradient><linearGradient id="b84"><stop offset="0" stop-color="#fcd22d"/><stop offset="0.004" stop-color="#fdc735"/><stop offset="0.008" stop-color="#fdc13a"/><stop offset="0.012" stop-color="#fcbf3d"/><stop offset="0.017" stop-color="#f1bd44"/><stop offset="0.05" stop-color="#5db193"/><stop offset="0.054" stop-color="#4caf9c"/><stop offset="0.071" stop-color="#28acaf"/><stop offset="0.091" stop-color="#0daabe"/><stop offset="0.166" stop-color="#07a5c6"/><stop offset="0.199" stop-color="#089bd0"/><stop offset="0.237" stop-color="#1484d4"/><stop offset="0.286" stop-color="#046cdf"/><stop offset="0.353" stop-color="#0367e1"/><stop offset="0.465" stop-color="#0367e1"/><stop offset="0.685" stop-color="#076fdd"/><stop offset="1" stop-color="#0973dc"/></linearGradient><linearGradient id="b85"><stop offset="0" stop-color="#fcd12e"/><stop offset="0.004" stop-color="#fdc735"/><stop offset="0.008" stop-color="#fdc13b"/><stop offset="0.012" stop-color="#fcbf3d"/><stop offset="0.017" stop-color="#f0bd44"/><stop offset="0.05" stop-color="#5cb193"/><stop offset="0.054" stop-color="#4baf9c"/><stop offset="0.066" stop-color="#2fadac"/><stop offset="0.083" stop-color="#16abb8"/><stop offset="0.091" stop-color="#0caabe"/><stop offset="0.166" stop-color="#07a5c6"/><stop offset="0.199" stop-color="#089bd0"/><stop offset="0.237" stop-color="#1484d4"/><stop offset="0.286" stop-color="#046cdf"/><stop offset="0.349" stop-color="#0367e1"/><stop offset="0.448" stop-color="#0566e0"/><stop offset="0.494" stop-color="#0369e1"/><stop offset="0.693" stop-color="#0770dd"/><stop offset="1" stop-color="#0a73dc"/></linearGradient><linearGradient id="b86"><stop offset="0" stop-color="#fcd02e"/><stop offset="0.004" stop-color="#fdc636"/><stop offset="0.008" stop-color="#fdc13b"/><stop offset="0.012" stop-color="#fcbf3d"/><stop offset="0.017" stop-color="#efbd45"/><stop offset="0.05" stop-color="#5bb194"/><stop offset="0.054" stop-color="#4aaf9d"/><stop offset="0.066" stop-color="#2eadac"/><stop offset="0.087" stop-color="#1ab"/><stop offset="0.091" stop-color="#0caabe"/><stop offset="0.166" stop-color="#07a5c6"/><stop offset="0.199" stop-color="#089ad0"/><stop offset="0.237" stop-color="#1483d4"/><stop offset="0.286" stop-color="#046bdf"/><stop offset="0.349" stop-color="#0367e1"/><stop offset="0.456" stop-color="#0367e1"/><stop offset="0.689" stop-color="#0770dd"/><stop offset="1" stop-color="#0a74db"/></linearGradient><linearGradient id="b87"><stop offset="0" stop-color="#fcd02f"/><stop offset="0.004" stop-color="#fec536"/><stop offset="0.012" stop-color="#fcbe3d"/><stop offset="0.017" stop-color="#eebd46"/><stop offset="0.05" stop-color="#5ab194"/><stop offset="0.054" stop-color="#49af9d"/><stop offset="0.066" stop-color="#2dadad"/><stop offset="0.087" stop-color="#10aabc"/><stop offset="0.091" stop-color="#0caabe"/><stop offset="0.166" stop-color="#07a5c7"/><stop offset="0.199" stop-color="#089ad0"/><stop offset="0.237" stop-color="#1483d4"/><stop offset="0.286" stop-color="#046bdf"/><stop offset="0.344" stop-color="#0367e1"/><stop offset="0.444" stop-color="#0467e0"/><stop offset="0.49" stop-color="#0369e0"/><stop offset="0.693" stop-color="#0770dd"/><stop offset="1" stop-color="#0a75db"/></linearGradient><linearGradient id="b88"><stop offset="0" stop-color="#fccf2f"/><stop offset="0.004" stop-color="#fec537"/><stop offset="0.012" stop-color="#fcbe3e"/><stop offset="0.017" stop-color="#edbd46"/><stop offset="0.05" stop-color="#59b095"/><stop offset="0.054" stop-color="#48af9e"/><stop offset="0.066" stop-color="#2cadad"/><stop offset="0.087" stop-color="#10aabc"/><stop offset="0.091" stop-color="#0caabe"/><stop offset="0.166" stop-color="#07a5c7"/><stop offset="0.199" stop-color="#089ad0"/><stop offset="0.237" stop-color="#1483d4"/><stop offset="0.286" stop-color="#046be0"/><stop offset="0.344" stop-color="#0367e0"/><stop offset="0.444" stop-color="#0367e0"/><stop offset="0.593" stop-color="#066ede"/><stop offset="1" stop-color="#0b75db"/></linearGradient><linearGradient id="b89"><stop offset="0" stop-color="#fcce30"/><stop offset="0.004" stop-color="#fec438"/><stop offset="0.012" stop-color="#fcbe3e"/><stop offset="0.029" stop-color="#b3b865"/><stop offset="0.054" stop-color="#47af9f"/><stop offset="0.066" stop-color="#2badae"/><stop offset="0.087" stop-color="#0faabc"/><stop offset="0.091" stop-color="#0caabe"/><stop offset="0.166" stop-color="#07a4c7"/><stop offset="0.199" stop-color="#089ad0"/><stop offset="0.237" stop-color="#1483d4"/><stop offset="0.286" stop-color="#046be0"/><stop offset="0.34" stop-color="#0367e1"/><stop offset="0.436" stop-color="#0467e0"/><stop offset="0.494" stop-color="#036ae0"/><stop offset="0.697" stop-color="#0871dd"/><stop offset="1" stop-color="#0b76da"/></linearGradient><linearGradient id="b90"><stop offset="0" stop-color="#fcce30"/><stop offset="0.004" stop-color="#fec338"/><stop offset="0.012" stop-color="#fcbe3e"/><stop offset="0.054" stop-color="#46af9f"/><stop offset="0.066" stop-color="#2aacae"/><stop offset="0.087" stop-color="#0faabc"/><stop offset="0.095" stop-color="#0caabe"/><stop offset="0.166" stop-color="#07a4c7"/><stop offset="0.199" stop-color="#089ad0"/><stop offset="0.237" stop-color="#1483d4"/><stop offset="0.286" stop-color="#046be0"/><stop offset="0.34" stop-color="#0367e0"/><stop offset="0.436" stop-color="#0367e1"/><stop offset="0.689" stop-color="#0871dd"/><stop offset="1" stop-color="#0c76da"/></linearGradient><linearGradient id="b91"><stop offset="0" stop-color="#fccd31"/><stop offset="0.004" stop-color="#fec339"/><stop offset="0.012" stop-color="#fcbe3e"/><stop offset="0.05" stop-color="#56b096"/><stop offset="0.054" stop-color="#45afa0"/><stop offset="0.066" stop-color="#29acae"/><stop offset="0.087" stop-color="#0eaabd"/><stop offset="0.095" stop-color="#0caabe"/><stop offset="0.166" stop-color="#07a4c7"/><stop offset="0.199" stop-color="#089ad0"/><stop offset="0.237" stop-color="#1483d4"/><stop offset="0.286" stop-color="#046be0"/><stop offset="0.336" stop-color="#0367e1"/><stop offset="0.427" stop-color="#0367e0"/><stop offset="0.515" stop-color="#046bdf"/><stop offset="0.701" stop-color="#0871dd"/><stop offset="1" stop-color="#0c77da"/></linearGradient><linearGradient id="b92"><stop offset="0" stop-color="#fdcc31"/><stop offset="0.004" stop-color="#fec239"/><stop offset="0.012" stop-color="#fabe3f"/><stop offset="0.05" stop-color="#55b097"/><stop offset="0.054" stop-color="#44afa0"/><stop offset="0.066" stop-color="#29acaf"/><stop offset="0.087" stop-color="#0eaabd"/><stop offset="0.112" stop-color="#0ba9c0"/><stop offset="0.166" stop-color="#07a4c7"/><stop offset="0.199" stop-color="#0899d0"/><stop offset="0.237" stop-color="#1482d4"/><stop offset="0.286" stop-color="#046be0"/><stop offset="0.336" stop-color="#0367e0"/><stop offset="0.423" stop-color="#0367e0"/><stop offset="0.519" stop-color="#046cdf"/><stop offset="0.705" stop-color="#0871dc"/><stop offset="1" stop-color="#0c77da"/></linearGradient><linearGradient id="b93"><stop offset="0" stop-color="#fdcc32"/><stop offset="0.004" stop-color="#fec239"/><stop offset="0.012" stop-color="#f9be3f"/><stop offset="0.05" stop-color="#54b098"/><stop offset="0.054" stop-color="#43afa1"/><stop offset="0.066" stop-color="#28acaf"/><stop offset="0.087" stop-color="#0daabd"/><stop offset="0.166" stop-color="#07a4c7"/><stop offset="0.199" stop-color="#0899d0"/><stop offset="0.237" stop-color="#1482d4"/><stop offset="0.286" stop-color="#046ae0"/><stop offset="0.332" stop-color="#0367e1"/><stop offset="0.419" stop-color="#0367e0"/><stop offset="0.631" stop-color="#0871dd"/><stop offset="0.996" stop-color="#0d78d9"/><stop offset="1" stop-color="#0d78d9"/></linearGradient><linearGradient id="b94"><stop offset="0" stop-color="#fdcb32"/><stop offset="0.004" stop-color="#fec239"/><stop offset="0.008" stop-color="#fdc03c"/><stop offset="0.012" stop-color="#f8be40"/><stop offset="0.05" stop-color="#53b098"/><stop offset="0.054" stop-color="#42aea1"/><stop offset="0.066" stop-color="#27acaf"/><stop offset="0.087" stop-color="#0daabe"/><stop offset="0.166" stop-color="#07a4c7"/><stop offset="0.199" stop-color="#0999d0"/><stop offset="0.237" stop-color="#1382d4"/><stop offset="0.286" stop-color="#046ae0"/><stop offset="0.332" stop-color="#0367e0"/><stop offset="0.415" stop-color="#0367e1"/><stop offset="0.689" stop-color="#0972dc"/><stop offset="1" stop-color="#0d79d9"/></linearGradient><linearGradient id="b95"><stop offset="0" stop-color="#fdca33"/><stop offset="0.004" stop-color="#fec23a"/><stop offset="0.008" stop-color="#fdbf3c"/><stop offset="0.012" stop-color="#f7be41"/><stop offset="0.054" stop-color="#41aea2"/><stop offset="0.062" stop-color="#2eadac"/><stop offset="0.087" stop-color="#0caabe"/><stop offset="0.166" stop-color="#07a4c7"/><stop offset="0.199" stop-color="#0999d1"/><stop offset="0.237" stop-color="#1382d4"/><stop offset="0.286" stop-color="#036ae0"/><stop offset="0.328" stop-color="#0367e1"/><stop offset="0.411" stop-color="#0367e1"/><stop offset="0.693" stop-color="#0972dc"/><stop offset="0.996" stop-color="#0d79d9"/><stop offset="1" stop-color="#0d79d9"/></linearGradient><linearGradient id="b96"><stop offset="0" stop-color="#fdca33"/><stop offset="0.004" stop-color="#fec13a"/><stop offset="0.008" stop-color="#fdbf3c"/><stop offset="0.012" stop-color="#f6bd41"/><stop offset="0.054" stop-color="#40aea2"/><stop offset="0.062" stop-color="#2dadad"/><stop offset="0.087" stop-color="#0caabe"/><stop offset="0.162" stop-color="#07a5c6"/><stop offset="0.199" stop-color="#0999d1"/><stop offset="0.237" stop-color="#1382d5"/><stop offset="0.286" stop-color="#036ae0"/><stop offset="0.328" stop-color="#0467e0"/><stop offset="0.407" stop-color="#0367e1"/><stop offset="0.693" stop-color="#0972dc"/><stop offset="0.988" stop-color="#0d79d9"/><stop offset="1" stop-color="#0e7ad8"/></linearGradient><linearGradient id="b97"><stop offset="0" stop-color="#fdc934"/><stop offset="0.004" stop-color="#fec13a"/><stop offset="0.008" stop-color="#fdbf3c"/><stop offset="0.012" stop-color="#f5bd42"/><stop offset="0.054" stop-color="#3faea3"/><stop offset="0.062" stop-color="#2cadad"/><stop offset="0.087" stop-color="#0caabe"/><stop offset="0.162" stop-color="#07a5c6"/><stop offset="0.199" stop-color="#0998d1"/><stop offset="0.237" stop-color="#1382d5"/><stop offset="0.286" stop-color="#036ae0"/><stop offset="0.324" stop-color="#0367e1"/><stop offset="0.398" stop-color="#0367e0"/><stop offset="0.515" stop-color="#056ddf"/><stop offset="0.71" stop-color="#0973dc"/><stop offset="0.992" stop-color="#0e7ad8"/><stop offset="1" stop-color="#0e7ad8"/></linearGradient><linearGradient id="b98"><stop offset="0" stop-color="#fdc834"/><stop offset="0.004" stop-color="#fec13a"/><stop offset="0.008" stop-color="#fdbf3d"/><stop offset="0.012" stop-color="#f3bd43"/><stop offset="0.054" stop-color="#3eaea4"/><stop offset="0.062" stop-color="#2badae"/><stop offset="0.087" stop-color="#0caabe"/><stop offset="0.162" stop-color="#07a5c6"/><stop offset="0.195" stop-color="#089bd0"/><stop offset="0.232" stop-color="#1484d4"/><stop offset="0.286" stop-color="#036ae0"/><stop offset="0.324" stop-color="#0467e0"/><stop offset="0.394" stop-color="#0367e1"/><stop offset="0.693" stop-color="#0973dc"/><stop offset="0.975" stop-color="#0e7ad8"/><stop offset="1" stop-color="#0f7bd8"/></linearGradient><linearGradient id="b99"><stop offset="0" stop-color="#fdc835"/><stop offset="0.004" stop-color="#fdc13a"/><stop offset="0.008" stop-color="#fcbf3d"/><stop offset="0.012" stop-color="#f2bd43"/><stop offset="0.054" stop-color="#3daea4"/><stop offset="0.062" stop-color="#2aadae"/><stop offset="0.087" stop-color="#0caabe"/><stop offset="0.162" stop-color="#07a5c6"/><stop offset="0.195" stop-color="#089bd0"/><stop offset="0.232" stop-color="#1484d4"/><stop offset="0.286" stop-color="#036ae0"/><stop offset="0.32" stop-color="#0367e0"/><stop offset="0.39" stop-color="#0367e1"/><stop offset="0.693" stop-color="#0973dc"/><stop offset="0.967" stop-color="#0e7ad8"/><stop offset="1" stop-color="#0f7bd8"/></linearGradient><linearGradient id="b100"><stop offset="0" stop-color="#fdc735"/><stop offset="0.004" stop-color="#fdc13a"/><stop offset="0.008" stop-color="#fcbf3d"/><stop offset="0.012" stop-color="#f1bd44"/><stop offset="0.054" stop-color="#3caea5"/><stop offset="0.062" stop-color="#29acae"/><stop offset="0.083" stop-color="#0faabc"/><stop offset="0.091" stop-color="#0caabe"/><stop offset="0.162" stop-color="#07a5c6"/><stop offset="0.195" stop-color="#089bd0"/><stop offset="0.232" stop-color="#1483d4"/><stop offset="0.286" stop-color="#0369e0"/><stop offset="0.32" stop-color="#0467e0"/><stop offset="0.386" stop-color="#0367e1"/><stop offset="0.693" stop-color="#0a73dc"/><stop offset="0.959" stop-color="#0e7ad8"/><stop offset="1" stop-color="#0f7cd7"/></linearGradient><linearGradient id="b101"><stop offset="0" stop-color="#fdc636"/><stop offset="0.004" stop-color="#fdc13b"/><stop offset="0.008" stop-color="#fcbf3d"/><stop offset="0.012" stop-color="#f0bd44"/><stop offset="0.054" stop-color="#3baea5"/><stop offset="0.062" stop-color="#29acaf"/><stop offset="0.083" stop-color="#0faabd"/><stop offset="0.091" stop-color="#0caabe"/><stop offset="0.162" stop-color="#07a5c7"/><stop offset="0.195" stop-color="#089ad0"/><stop offset="0.232" stop-color="#1483d4"/><stop offset="0.286" stop-color="#0369e0"/><stop offset="0.315" stop-color="#0367e0"/><stop offset="0.382" stop-color="#0367e1"/><stop offset="0.697" stop-color="#0a74db"/><stop offset="0.95" stop-color="#0e7ad8"/><stop offset="1" stop-color="#107dd7"/></linearGradient><linearGradient id="b102"><stop offset="0" stop-color="#fdc636"/><stop offset="0.004" stop-color="#fdc13b"/><stop offset="0.008" stop-color="#fcbf3d"/><stop offset="0.012" stop-color="#efbd45"/><stop offset="0.054" stop-color="#3aaea6"/><stop offset="0.062" stop-color="#28acaf"/><stop offset="0.083" stop-color="#0eaabd"/><stop offset="0.1" stop-color="#0ba9bf"/><stop offset="0.162" stop-color="#07a5c7"/><stop offset="0.195" stop-color="#089ad0"/><stop offset="0.232" stop-color="#1483d4"/><stop offset="0.286" stop-color="#0369e0"/><stop offset="0.353" stop-color="#0566e0"/><stop offset="0.411" stop-color="#0369e0"/><stop offset="0.701" stop-color="#0a74db"/><stop offset="0.946" stop-color="#0f7bd8"/><stop offset="1" stop-color="#107dd7"/></linearGradient><linearGradient id="b103"><stop offset="0" stop-color="#fec537"/><stop offset="0.008" stop-color="#fcbe3d"/><stop offset="0.012" stop-color="#eebd46"/><stop offset="0.054" stop-color="#39aea6"/><stop offset="0.062" stop-color="#28acaf"/><stop offset="0.083" stop-color="#0eaabd"/><stop offset="0.162" stop-color="#07a4c7"/><stop offset="0.195" stop-color="#089ad0"/><stop offset="0.232" stop-color="#1483d4"/><stop offset="0.286" stop-color="#0369e1"/><stop offset="0.353" stop-color="#0566e0"/><stop offset="0.402" stop-color="#0369e1"/><stop offset="0.701" stop-color="#0a74db"/><stop offset="0.942" stop-color="#0f7bd8"/><stop offset="1" stop-color="#117ed7"/></linearGradient><linearGradient id="b104"><stop offset="0" stop-color="#fec437"/><stop offset="0.008" stop-color="#fcbe3e"/><stop offset="0.017" stop-color="#dabb50"/><stop offset="0.054" stop-color="#37aea7"/><stop offset="0.062" stop-color="#27acb0"/><stop offset="0.083" stop-color="#0daabd"/><stop offset="0.162" stop-color="#07a4c7"/><stop offset="0.195" stop-color="#089ad0"/><stop offset="0.232" stop-color="#1483d4"/><stop offset="0.286" stop-color="#0369e1"/><stop offset="0.349" stop-color="#0566e0"/><stop offset="0.398" stop-color="#0369e1"/><stop offset="0.701" stop-color="#0a74db"/><stop offset="0.942" stop-color="#0f7cd7"/><stop offset="1" stop-color="#117ed6"/></linearGradient><linearGradient id="b105"><stop offset="0" stop-color="#fec438"/><stop offset="0.008" stop-color="#fcbe3e"/><stop offset="0.054" stop-color="#36aea7"/><stop offset="0.058" stop-color="#2dadac"/><stop offset="0.083" stop-color="#0daabe"/><stop offset="0.162" stop-color="#07a4c7"/><stop offset="0.195" stop-color="#089ad0"/><stop offset="0.232" stop-color="#1483d4"/><stop offset="0.286" stop-color="#0269e1"/><stop offset="0.349" stop-color="#0466e0"/><stop offset="0.39" stop-color="#0369e1"/><stop offset="0.701" stop-color="#0a75db"/><stop offset="0.946" stop-color="#107dd7"/><stop offset="1" stop-color="#117fd6"/></linearGradient><linearGradient id="b106"><stop offset="0" stop-color="#fec338"/><stop offset="0.008" stop-color="#fcbe3e"/><stop offset="0.054" stop-color="#35ada8"/><stop offset="0.058" stop-color="#2cadad"/><stop offset="0.083" stop-color="#0caabe"/><stop offset="0.162" stop-color="#07a4c7"/><stop offset="0.195" stop-color="#0899d0"/><stop offset="0.232" stop-color="#1482d4"/><stop offset="0.286" stop-color="#0269e1"/><stop offset="0.344" stop-color="#0466e0"/><stop offset="0.386" stop-color="#0369e1"/><stop offset="0.705" stop-color="#0b75db"/><stop offset="0.983" stop-color="#117fd6"/><stop offset="1" stop-color="#1280d6"/></linearGradient><linearGradient id="b107"><stop offset="0" stop-color="#fec239"/><stop offset="0.008" stop-color="#fbbe3e"/><stop offset="0.054" stop-color="#34ada8"/><stop offset="0.058" stop-color="#2badae"/><stop offset="0.083" stop-color="#0caabe"/><stop offset="0.162" stop-color="#07a4c7"/><stop offset="0.195" stop-color="#0899d0"/><stop offset="0.232" stop-color="#1482d4"/><stop offset="0.286" stop-color="#0268e1"/><stop offset="0.34" stop-color="#0466e0"/><stop offset="0.382" stop-color="#0369e1"/><stop offset="0.705" stop-color="#0b75db"/><stop offset="1" stop-color="#1280d5"/></linearGradient><linearGradient id="b108"><stop offset="0" stop-color="#fec239"/><stop offset="0.008" stop-color="#fabe3f"/><stop offset="0.054" stop-color="#33ada9"/><stop offset="0.058" stop-color="#2aadae"/><stop offset="0.083" stop-color="#0caabe"/><stop offset="0.162" stop-color="#07a4c7"/><stop offset="0.195" stop-color="#0999d0"/><stop offset="0.232" stop-color="#1382d4"/><stop offset="0.286" stop-color="#0268e1"/><stop offset="0.332" stop-color="#0566e0"/><stop offset="0.378" stop-color="#0369e1"/><stop offset="0.705" stop-color="#0b75db"/><stop offset="1" stop-color="#1281d5"/></linearGradient><linearGradient id="b109"><stop offset="0" stop-color="#fec239"/><stop offset="0.008" stop-color="#f9be40"/><stop offset="0.054" stop-color="#32adaa"/><stop offset="0.058" stop-color="#2aacae"/><stop offset="0.083" stop-color="#0caabe"/><stop offset="0.162" stop-color="#07a4c7"/><stop offset="0.195" stop-color="#0999d0"/><stop offset="0.232" stop-color="#1382d4"/><stop offset="0.286" stop-color="#0268e1"/><stop offset="0.328" stop-color="#0466e0"/><stop offset="0.373" stop-color="#0369e1"/><stop offset="0.705" stop-color="#0b76da"/><stop offset="1" stop-color="#1381d5"/></linearGradient><linearGradient id="b110"><stop offset="0" stop-color="#fec239"/><stop offset="0.004" stop-color="#fdc03c"/><stop offset="0.008" stop-color="#f8be40"/><stop offset="0.054" stop-color="#31adaa"/><stop offset="0.062" stop-color="#24acb1"/><stop offset="0.083" stop-color="#0caabe"/><stop offset="0.158" stop-color="#07a5c6"/><stop offset="0.195" stop-color="#0999d1"/><stop offset="0.232" stop-color="#1382d5"/><stop offset="0.286" stop-color="#0268e1"/><stop offset="0.324" stop-color="#0466e0"/><stop offset="0.365" stop-color="#0369e1"/><stop offset="0.71" stop-color="#0b76da"/><stop offset="1" stop-color="#1382d5"/></linearGradient><linearGradient id="b111"><stop offset="0" stop-color="#fec13a"/><stop offset="0.004" stop-color="#fdbf3c"/><stop offset="0.008" stop-color="#f7be41"/><stop offset="0.054" stop-color="#30adab"/><stop offset="0.062" stop-color="#23acb2"/><stop offset="0.079" stop-color="#0faabd"/><stop offset="0.087" stop-color="#0caabe"/><stop offset="0.158" stop-color="#07a5c6"/><stop offset="0.195" stop-color="#0999d1"/><stop offset="0.232" stop-color="#1382d5"/><stop offset="0.286" stop-color="#0268e1"/><stop offset="0.32" stop-color="#0466e0"/><stop offset="0.361" stop-color="#0369e1"/><stop offset="0.71" stop-color="#0b76da"/><stop offset="1" stop-color="#1482d4"/></linearGradient><linearGradient id="b112"><stop offset="0" stop-color="#fec13a"/><stop offset="0.004" stop-color="#fdbf3c"/><stop offset="0.008" stop-color="#f6bd41"/><stop offset="0.054" stop-color="#2fadab"/><stop offset="0.066" stop-color="#1eabb5"/><stop offset="0.079" stop-color="#0eaabd"/><stop offset="0.091" stop-color="#0baabf"/><stop offset="0.158" stop-color="#07a5c6"/><stop offset="0.191" stop-color="#089bd0"/><stop offset="0.228" stop-color="#1484d4"/><stop offset="0.286" stop-color="#0367e1"/><stop offset="0.32" stop-color="#0467e0"/><stop offset="0.373" stop-color="#036ae0"/><stop offset="1" stop-color="#1483d4"/></linearGradient><linearGradient id="b113"><stop offset="0" stop-color="#fec13a"/><stop offset="0.004" stop-color="#fdbf3d"/><stop offset="0.008" stop-color="#f4bd42"/><stop offset="0.054" stop-color="#2eadac"/><stop offset="0.079" stop-color="#0eaabd"/><stop offset="0.137" stop-color="#08a7c3"/><stop offset="0.162" stop-color="#07a4c8"/><stop offset="0.191" stop-color="#089bd0"/><stop offset="0.228" stop-color="#1484d4"/><stop offset="0.286" stop-color="#0367e1"/><stop offset="0.32" stop-color="#0367e1"/><stop offset="1" stop-color="#1484d4"/></linearGradient><linearGradient id="b114"><stop offset="0" stop-color="#fec13a"/><stop offset="0.004" stop-color="#fdbf3d"/><stop offset="0.008" stop-color="#f3bd43"/><stop offset="0.054" stop-color="#2dadac"/><stop offset="0.079" stop-color="#0daabd"/><stop offset="0.158" stop-color="#07a5c6"/><stop offset="0.191" stop-color="#089bd0"/><stop offset="0.228" stop-color="#1483d4"/><stop offset="0.282" stop-color="#0369e0"/><stop offset="0.295" stop-color="#0566e0"/><stop offset="0.349" stop-color="#0369e1"/><stop offset="1" stop-color="#1384d4"/></linearGradient><linearGradient id="b115"><stop offset="0" stop-color="#fdc13a"/><stop offset="0.004" stop-color="#fcbf3d"/><stop offset="0.008" stop-color="#f2bd43"/><stop offset="0.054" stop-color="#2cadad"/><stop offset="0.079" stop-color="#0daabe"/><stop offset="0.158" stop-color="#07a5c6"/><stop offset="0.191" stop-color="#089ad0"/><stop offset="0.228" stop-color="#1483d4"/><stop offset="0.282" stop-color="#0369e0"/><stop offset="0.295" stop-color="#0566e0"/><stop offset="0.34" stop-color="#0369e1"/><stop offset="0.988" stop-color="#1384d4"/><stop offset="1" stop-color="#1385d4"/></linearGradient><linearGradient id="b116"><stop offset="0" stop-color="#fdc13b"/><stop offset="0.004" stop-color="#fcbf3d"/><stop offset="0.008" stop-color="#f1bd44"/><stop offset="0.054" stop-color="#2badad"/><stop offset="0.079" stop-color="#0caabe"/><stop offset="0.158" stop-color="#07a5c7"/><stop offset="0.191" stop-color="#089ad0"/><stop offset="0.228" stop-color="#1483d4"/><stop offset="0.282" stop-color="#0369e1"/><stop offset="0.29" stop-color="#0566e0"/><stop offset="0.336" stop-color="#0369e1"/><stop offset="0.971" stop-color="#1384d4"/><stop offset="1" stop-color="#1286d4"/></linearGradient><linearGradient id="b117"><stop offset="0" stop-color="#fdc13b"/><stop offset="0.004" stop-color="#fcbf3d"/><stop offset="0.008" stop-color="#f0bd44"/><stop offset="0.054" stop-color="#2aadae"/><stop offset="0.079" stop-color="#0caabe"/><stop offset="0.158" stop-color="#07a4c7"/><stop offset="0.191" stop-color="#089ad0"/><stop offset="0.228" stop-color="#1483d4"/><stop offset="0.282" stop-color="#0369e1"/><stop offset="0.29" stop-color="#0466e0"/><stop offset="0.336" stop-color="#0369e0"/><stop offset="0.959" stop-color="#1384d4"/><stop offset="1" stop-color="#1287d3"/></linearGradient><linearGradient id="b118"><stop offset="0" stop-color="#fdc03b"/><stop offset="0.004" stop-color="#fcbf3d"/><stop offset="0.008" stop-color="#efbd45"/><stop offset="0.054" stop-color="#29acae"/><stop offset="0.079" stop-color="#0caabe"/><stop offset="0.158" stop-color="#07a4c7"/><stop offset="0.191" stop-color="#089ad0"/><stop offset="0.228" stop-color="#1483d4"/><stop offset="0.282" stop-color="#0268e1"/><stop offset="0.286" stop-color="#0665e0"/><stop offset="0.328" stop-color="#0269e1"/><stop offset="0.95" stop-color="#1384d4"/><stop offset="1" stop-color="#1287d3"/></linearGradient><linearGradient id="b119"><stop offset="0" stop-color="#fdc03b"/><stop offset="0.004" stop-color="#fcbe3e"/><stop offset="0.008" stop-color="#edbd46"/><stop offset="0.054" stop-color="#28acaf"/><stop offset="0.075" stop-color="#0faabc"/><stop offset="0.083" stop-color="#0caabe"/><stop offset="0.158" stop-color="#07a4c7"/><stop offset="0.191" stop-color="#0899d0"/><stop offset="0.228" stop-color="#1382d4"/><stop offset="0.282" stop-color="#0367e1"/><stop offset="0.286" stop-color="#0864df"/><stop offset="0.328" stop-color="#0268e1"/><stop offset="0.946" stop-color="#1384d4"/><stop offset="1" stop-color="#1188d3"/></linearGradient><linearGradient id="b120"><stop offset="0" stop-color="#fdc03b"/><stop offset="0.004" stop-color="#fcbe3e"/><stop offset="0.025" stop-color="#a4b76d"/><stop offset="0.054" stop-color="#27acaf"/><stop offset="0.075" stop-color="#0eaabd"/><stop offset="0.095" stop-color="#0ba9bf"/><stop offset="0.158" stop-color="#07a4c7"/><stop offset="0.191" stop-color="#0999d1"/><stop offset="0.224" stop-color="#1484d4"/><stop offset="0.278" stop-color="#0369e0"/><stop offset="0.282" stop-color="#0466e0"/><stop offset="0.286" stop-color="#0962de"/><stop offset="0.332" stop-color="#0268e1"/><stop offset="0.942" stop-color="#1384d4"/><stop offset="1" stop-color="#1189d3"/></linearGradient><linearGradient id="b121"><stop offset="0" stop-color="#fdc03b"/><stop offset="0.004" stop-color="#fcbe3e"/><stop offset="0.054" stop-color="#26acb0"/><stop offset="0.075" stop-color="#0daabd"/><stop offset="0.154" stop-color="#07a5c6"/><stop offset="0.187" stop-color="#089bd0"/><stop offset="0.224" stop-color="#1483d4"/><stop offset="0.278" stop-color="#0269e1"/><stop offset="0.286" stop-color="#0b61dd"/><stop offset="0.336" stop-color="#0268e1"/><stop offset="0.934" stop-color="#1384d4"/><stop offset="1" stop-color="#118ad3"/></linearGradient><linearGradient id="b122"><stop offset="0" stop-color="#fdc03c"/><stop offset="0.004" stop-color="#fbbe3e"/><stop offset="0.054" stop-color="#25acb1"/><stop offset="0.075" stop-color="#0caabe"/><stop offset="0.154" stop-color="#07a5c6"/><stop offset="0.187" stop-color="#089ad0"/><stop offset="0.224" stop-color="#1483d4"/><stop offset="0.278" stop-color="#0268e1"/><stop offset="0.286" stop-color="#0d60dd"/><stop offset="0.34" stop-color="#0268e1"/><stop offset="0.929" stop-color="#1384d4"/><stop offset="1" stop-color="#108ad3"/></linearGradient><linearGradient id="b123"><stop offset="0" stop-color="#fdc03c"/><stop offset="0.004" stop-color="#fabe3f"/><stop offset="0.054" stop-color="#24acb1"/><stop offset="0.075" stop-color="#0caabe"/><stop offset="0.154" stop-color="#07a5c6"/><stop offset="0.187" stop-color="#089ad0"/><stop offset="0.224" stop-color="#1482d4"/><stop offset="0.274" stop-color="#0369e0"/><stop offset="0.278" stop-color="#0467e0"/><stop offset="0.286" stop-color="#0f5edc"/><stop offset="0.349" stop-color="#0268e1"/><stop offset="0.925" stop-color="#1384d4"/><stop offset="1" stop-color="#108bd3"/></linearGradient><linearGradient id="b124"><stop offset="0" stop-color="#fdc03c"/><stop offset="0.004" stop-color="#f9be40"/><stop offset="0.054" stop-color="#23acb2"/><stop offset="0.071" stop-color="#0faabc"/><stop offset="0.079" stop-color="#0caabe"/><stop offset="0.154" stop-color="#07a5c7"/><stop offset="0.187" stop-color="#089ad0"/><stop offset="0.224" stop-color="#1382d5"/><stop offset="0.274" stop-color="#0369e1"/><stop offset="0.278" stop-color="#0665e0"/><stop offset="0.286" stop-color="#115ddb"/><stop offset="0.357" stop-color="#0268e1"/><stop offset="0.917" stop-color="#1384d4"/><stop offset="1" stop-color="#0f8cd3"/></linearGradient><linearGradient id="b125"><stop offset="0" stop-color="#fdbf3c"/><stop offset="0.004" stop-color="#f7be40"/><stop offset="0.054" stop-color="#22acb2"/><stop offset="0.071" stop-color="#0eaabd"/><stop offset="0.091" stop-color="#0ba9bf"/><stop offset="0.154" stop-color="#07a4c7"/><stop offset="0.187" stop-color="#0999d0"/><stop offset="0.22" stop-color="#1484d4"/><stop offset="0.274" stop-color="#0268e1"/><stop offset="0.286" stop-color="#125cda"/><stop offset="0.365" stop-color="#0268e1"/><stop offset="0.913" stop-color="#1384d4"/><stop offset="1" stop-color="#0f8dd2"/></linearGradient><linearGradient id="b126"><stop offset="0" stop-color="#fdbf3c"/><stop offset="0.004" stop-color="#f6be41"/><stop offset="0.054" stop-color="#21acb3"/><stop offset="0.071" stop-color="#0daabd"/><stop offset="0.154" stop-color="#07a4c7"/><stop offset="0.187" stop-color="#0999d1"/><stop offset="0.22" stop-color="#1483d4"/><stop offset="0.274" stop-color="#0367e1"/><stop offset="0.286" stop-color="#145ada"/><stop offset="0.369" stop-color="#0268e1"/><stop offset="0.909" stop-color="#1384d4"/><stop offset="1" stop-color="#0f8dd2"/></linearGradient><linearGradient id="b127"><stop offset="0" stop-color="#fdbf3d"/><stop offset="0.004" stop-color="#f5bd42"/><stop offset="0.054" stop-color="#20acb3"/><stop offset="0.071" stop-color="#0caabe"/><stop offset="0.154" stop-color="#07a4c7"/><stop offset="0.183" stop-color="#089bd0"/><stop offset="0.22" stop-color="#1483d4"/><stop offset="0.27" stop-color="#0369e1"/><stop offset="0.274" stop-color="#0566e0"/><stop offset="0.286" stop-color="#1659d9"/><stop offset="0.378" stop-color="#0268e1"/><stop offset="0.9" stop-color="#1384d4"/><stop offset="1" stop-color="#0e8ed2"/></linearGradient><linearGradient id="b128"><stop offset="0" stop-color="#fdbf3d"/><stop offset="0.004" stop-color="#f3bd43"/><stop offset="0.054" stop-color="#1facb4"/><stop offset="0.071" stop-color="#0caabe"/><stop offset="0.149" stop-color="#07a5c6"/><stop offset="0.183" stop-color="#089ad0"/><stop offset="0.22" stop-color="#1382d4"/><stop offset="0.27" stop-color="#0268e1"/><stop offset="0.286" stop-color="#1858d8"/><stop offset="0.386" stop-color="#0268e1"/><stop offset="0.896" stop-color="#1384d4"/><stop offset="1" stop-color="#0e8fd2"/></linearGradient><linearGradient id="b129"><stop offset="0" stop-color="#fcbf3d"/><stop offset="0.004" stop-color="#f2bd43"/><stop offset="0.054" stop-color="#1eacb4"/><stop offset="0.066" stop-color="#0faabc"/><stop offset="0.075" stop-color="#0caabe"/><stop offset="0.149" stop-color="#07a5c6"/><stop offset="0.183" stop-color="#089ad0"/><stop offset="0.216" stop-color="#1384d4"/><stop offset="0.27" stop-color="#0368e1"/><stop offset="0.286" stop-color="#1956d8"/><stop offset="0.394" stop-color="#0268e1"/><stop offset="0.892" stop-color="#1384d4"/><stop offset="1" stop-color="#0e8fd2"/></linearGradient><linearGradient id="b130"><stop offset="0" stop-color="#fcbf3d"/><stop offset="0.004" stop-color="#f1bd44"/><stop offset="0.054" stop-color="#1dabb5"/><stop offset="0.066" stop-color="#0eaabd"/><stop offset="0.087" stop-color="#0ba9bf"/><stop offset="0.149" stop-color="#07a5c6"/><stop offset="0.183" stop-color="#0899d0"/><stop offset="0.216" stop-color="#1483d4"/><stop offset="0.266" stop-color="#0369e0"/><stop offset="0.27" stop-color="#0466e0"/><stop offset="0.286" stop-color="#1b55d7"/><stop offset="0.402" stop-color="#0268e1"/><stop offset="0.884" stop-color="#1384d4"/><stop offset="1" stop-color="#0d90d2"/></linearGradient><linearGradient id="b131"><stop offset="0" stop-color="#fcbf3d"/><stop offset="0.004" stop-color="#efbd45"/><stop offset="0.054" stop-color="#1cabb5"/><stop offset="0.066" stop-color="#0daabd"/><stop offset="0.149" stop-color="#07a5c6"/><stop offset="0.183" stop-color="#0999d0"/><stop offset="0.216" stop-color="#1483d4"/><stop offset="0.266" stop-color="#0269e1"/><stop offset="0.274" stop-color="#0c60dd"/><stop offset="0.286" stop-color="#1d53d4"/><stop offset="0.353" stop-color="#0e5fdc"/><stop offset="0.411" stop-color="#0268e1"/><stop offset="0.88" stop-color="#1384d4"/><stop offset="1" stop-color="#0d91d2"/></linearGradient><linearGradient id="b132"><stop offset="0" stop-color="#fcbe3d"/><stop offset="0.004" stop-color="#eebd45"/><stop offset="0.054" stop-color="#1babb6"/><stop offset="0.066" stop-color="#0caabe"/><stop offset="0.149" stop-color="#07a5c7"/><stop offset="0.183" stop-color="#0998d1"/><stop offset="0.216" stop-color="#1482d4"/><stop offset="0.266" stop-color="#0268e1"/><stop offset="0.282" stop-color="#1a56d7"/><stop offset="0.286" stop-color="#1e52d2"/><stop offset="0.315" stop-color="#1857d8"/><stop offset="0.419" stop-color="#0268e1"/><stop offset="0.876" stop-color="#1384d4"/><stop offset="1" stop-color="#0c92d2"/></linearGradient><linearGradient id="b133"><stop offset="0" stop-color="#fcbe3e"/><stop offset="0.008" stop-color="#dbbb50"/><stop offset="0.054" stop-color="#1aabb7"/><stop offset="0.066" stop-color="#0caabe"/><stop offset="0.145" stop-color="#07a6c5"/><stop offset="0.178" stop-color="#089bd0"/><stop offset="0.216" stop-color="#1382d5"/><stop offset="0.261" stop-color="#036ae0"/><stop offset="0.266" stop-color="#0467e0"/><stop offset="0.282" stop-color="#1c55d6"/><stop offset="0.286" stop-color="#2051d0"/><stop offset="0.32" stop-color="#1957d8"/><stop offset="0.423" stop-color="#0268e1"/><stop offset="0.867" stop-color="#1384d4"/><stop offset="1" stop-color="#0c92d2"/></linearGradient><linearGradient id="b134"><stop offset="0" stop-color="#fcbe3e"/><stop offset="0.054" stop-color="#19abb7"/><stop offset="0.066" stop-color="#0caabe"/><stop offset="0.145" stop-color="#07a6c5"/><stop offset="0.178" stop-color="#089ad0"/><stop offset="0.212" stop-color="#1484d4"/><stop offset="0.261" stop-color="#0369e1"/><stop offset="0.266" stop-color="#0565e0"/><stop offset="0.278" stop-color="#1758d8"/><stop offset="0.286" stop-color="#2150cd"/><stop offset="0.328" stop-color="#1957d8"/><stop offset="0.432" stop-color="#0268e1"/><stop offset="0.863" stop-color="#1384d4"/><stop offset="1" stop-color="#0c93d1"/></linearGradient><linearGradient id="b135"><stop offset="0" stop-color="#fcbe3e"/><stop offset="0.054" stop-color="#18abb8"/><stop offset="0.062" stop-color="#0eaabd"/><stop offset="0.083" stop-color="#0ba9bf"/><stop offset="0.149" stop-color="#07a4c7"/><stop offset="0.178" stop-color="#089ad0"/><stop offset="0.212" stop-color="#1483d4"/><stop offset="0.261" stop-color="#0268e1"/><stop offset="0.278" stop-color="#1956d8"/><stop offset="0.286" stop-color="#224ecb"/><stop offset="0.336" stop-color="#1957d8"/><stop offset="0.44" stop-color="#0268e1"/><stop offset="0.859" stop-color="#1384d4"/><stop offset="1" stop-color="#0b94d1"/></linearGradient><linearGradient id="b136"><stop offset="0" stop-color="#fbbe3f"/><stop offset="0.054" stop-color="#17abb8"/><stop offset="0.062" stop-color="#0daabd"/><stop offset="0.145" stop-color="#07a5c6"/><stop offset="0.178" stop-color="#0899d0"/><stop offset="0.212" stop-color="#1483d4"/><stop offset="0.261" stop-color="#0367e1"/><stop offset="0.278" stop-color="#1b55d7"/><stop offset="0.286" stop-color="#244dc9"/><stop offset="0.34" stop-color="#1a56d8"/><stop offset="0.448" stop-color="#0268e1"/><stop offset="0.851" stop-color="#1384d4"/><stop offset="1" stop-color="#0b95d1"/></linearGradient><linearGradient id="b137"><stop offset="0" stop-color="#f9be3f"/><stop offset="0.054" stop-color="#16abb9"/><stop offset="0.062" stop-color="#0caabe"/><stop offset="0.145" stop-color="#07a5c6"/><stop offset="0.178" stop-color="#0999d1"/><stop offset="0.212" stop-color="#1382d4"/><stop offset="0.257" stop-color="#0369e0"/><stop offset="0.261" stop-color="#0566e0"/><stop offset="0.278" stop-color="#1c54d5"/><stop offset="0.286" stop-color="#254cc7"/><stop offset="0.349" stop-color="#1a56d8"/><stop offset="0.456" stop-color="#0268e1"/><stop offset="0.846" stop-color="#1384d4"/><stop offset="1" stop-color="#0a95d1"/></linearGradient><linearGradient id="b138"><stop offset="0" stop-color="#f8be40"/><stop offset="0.054" stop-color="#15abb9"/><stop offset="0.062" stop-color="#0caabe"/><stop offset="0.141" stop-color="#07a6c5"/><stop offset="0.174" stop-color="#079bd0"/><stop offset="0.207" stop-color="#1384d4"/><stop offset="0.257" stop-color="#0268e1"/><stop offset="0.274" stop-color="#1957d8"/><stop offset="0.286" stop-color="#274ac4"/><stop offset="0.357" stop-color="#1956d8"/><stop offset="0.465" stop-color="#0268e1"/><stop offset="0.842" stop-color="#1384d4"/><stop offset="1" stop-color="#0a96d1"/></linearGradient><linearGradient id="b139"><stop offset="0" stop-color="#f7be41"/><stop offset="0.054" stop-color="#14abba"/><stop offset="0.062" stop-color="#0caabe"/><stop offset="0.141" stop-color="#07a6c5"/><stop offset="0.174" stop-color="#089bd0"/><stop offset="0.207" stop-color="#1483d4"/><stop offset="0.257" stop-color="#0268e1"/><stop offset="0.274" stop-color="#1a55d7"/><stop offset="0.286" stop-color="#2849c2"/><stop offset="0.365" stop-color="#1956d8"/><stop offset="0.473" stop-color="#0268e1"/><stop offset="0.834" stop-color="#1384d4"/><stop offset="1" stop-color="#0a97d1"/></linearGradient><linearGradient id="b140"><stop offset="0" stop-color="#f5bd41"/><stop offset="0.054" stop-color="#13abba"/><stop offset="0.062" stop-color="#0caabe"/><stop offset="0.141" stop-color="#07a6c5"/><stop offset="0.174" stop-color="#089ad0"/><stop offset="0.207" stop-color="#1483d4"/><stop offset="0.253" stop-color="#0369e0"/><stop offset="0.257" stop-color="#0466e0"/><stop offset="0.274" stop-color="#1c54d5"/><stop offset="0.286" stop-color="#2a48c0"/><stop offset="0.373" stop-color="#1956d8"/><stop offset="0.477" stop-color="#0268e1"/><stop offset="0.83" stop-color="#1384d4"/><stop offset="1" stop-color="#0998d1"/></linearGradient><linearGradient id="b141"><stop offset="0" stop-color="#f4bd42"/><stop offset="0.054" stop-color="#12aabb"/><stop offset="0.058" stop-color="#0daabd"/><stop offset="0.141" stop-color="#07a6c5"/><stop offset="0.174" stop-color="#089ad0"/><stop offset="0.207" stop-color="#1482d4"/><stop offset="0.253" stop-color="#0369e1"/><stop offset="0.261" stop-color="#0c60dd"/><stop offset="0.27" stop-color="#1857d8"/><stop offset="0.278" stop-color="#224ecb"/><stop offset="0.286" stop-color="#2b46bd"/><stop offset="0.378" stop-color="#1a56d7"/><stop offset="0.485" stop-color="#0268e1"/><stop offset="0.826" stop-color="#1384d4"/><stop offset="1" stop-color="#0998d1"/></linearGradient><linearGradient id="b142"><stop offset="0" stop-color="#f3bd43"/><stop offset="0.054" stop-color="#11aabc"/><stop offset="0.058" stop-color="#0caabe"/><stop offset="0.141" stop-color="#07a6c5"/><stop offset="0.174" stop-color="#0899d0"/><stop offset="0.207" stop-color="#1382d5"/><stop offset="0.253" stop-color="#0268e1"/><stop offset="0.27" stop-color="#1a56d7"/><stop offset="0.286" stop-color="#2c45bb"/><stop offset="0.386" stop-color="#1a56d7"/><stop offset="0.494" stop-color="#0268e1"/><stop offset="0.817" stop-color="#1384d4"/><stop offset="1" stop-color="#0999d0"/></linearGradient><linearGradient id="b143"><stop offset="0" stop-color="#f2bd44"/><stop offset="0.054" stop-color="#10aabc"/><stop offset="0.058" stop-color="#0caabe"/><stop offset="0.141" stop-color="#07a5c6"/><stop offset="0.174" stop-color="#0999d1"/><stop offset="0.203" stop-color="#1484d4"/><stop offset="0.249" stop-color="#036ae0"/><stop offset="0.253" stop-color="#0467e0"/><stop offset="0.27" stop-color="#1b55d6"/><stop offset="0.286" stop-color="#2e44b9"/><stop offset="0.394" stop-color="#1a56d7"/><stop offset="0.502" stop-color="#0268e1"/><stop offset="0.813" stop-color="#1384d4"/><stop offset="1" stop-color="#089ad0"/></linearGradient><linearGradient id="b144"><stop offset="0" stop-color="#f0bd45"/><stop offset="0.054" stop-color="#10aabc"/><stop offset="0.058" stop-color="#0caabe"/><stop offset="0.149" stop-color="#07a5c6"/><stop offset="0.178" stop-color="#089bd0"/><stop offset="0.212" stop-color="#1483d4"/><stop offset="0.257" stop-color="#0369e1"/><stop offset="0.266" stop-color="#0c61dd"/><stop offset="0.274" stop-color="#1857d8"/><stop offset="0.286" stop-color="#264bc5"/><stop offset="0.353" stop-color="#1956d8"/><stop offset="0.456" stop-color="#0268e1"/><stop offset="0.784" stop-color="#1385d4"/><stop offset="0.996" stop-color="#079bd0"/><stop offset="1" stop-color="#079bd0"/></linearGradient><linearGradient id="b145"><stop offset="0" stop-color="#edbd46"/><stop offset="0.054" stop-color="#1ab"/><stop offset="0.058" stop-color="#0caabe"/><stop offset="0.162" stop-color="#07a5c6"/><stop offset="0.191" stop-color="#089bd0"/><stop offset="0.224" stop-color="#1483d4"/><stop offset="0.27" stop-color="#0269e1"/><stop offset="0.278" stop-color="#0c60dd"/><stop offset="0.286" stop-color="#1758d9"/><stop offset="0.382" stop-color="#0268e1"/><stop offset="0.593" stop-color="#0d79d9"/><stop offset="0.739" stop-color="#1385d4"/><stop offset="0.95" stop-color="#079bd0"/><stop offset="1" stop-color="#079dcf"/></linearGradient><linearGradient id="b146"><stop offset="0" stop-color="#ebbd47"/><stop offset="0.054" stop-color="#12aabb"/><stop offset="0.058" stop-color="#0daabd"/><stop offset="0.17" stop-color="#07a6c5"/><stop offset="0.203" stop-color="#089ad0"/><stop offset="0.237" stop-color="#1482d4"/><stop offset="0.282" stop-color="#0269e1"/><stop offset="0.286" stop-color="#0665e0"/><stop offset="0.307" stop-color="#0268e1"/><stop offset="0.535" stop-color="#0e7bd8"/><stop offset="0.685" stop-color="#1384d4"/><stop offset="0.905" stop-color="#079cd0"/><stop offset="1" stop-color="#079ece"/></linearGradient><linearGradient id="b147"><stop offset="0" stop-color="#e8bc49"/><stop offset="0.054" stop-color="#13abba"/><stop offset="0.062" stop-color="#0caabe"/><stop offset="0.183" stop-color="#07a6c5"/><stop offset="0.216" stop-color="#089ad0"/><stop offset="0.249" stop-color="#1482d4"/><stop offset="0.286" stop-color="#066dde"/><stop offset="0.523" stop-color="#117fd6"/><stop offset="0.643" stop-color="#1385d4"/><stop offset="0.859" stop-color="#079cd0"/><stop offset="1" stop-color="#079fcd"/></linearGradient><linearGradient id="b148"><stop offset="0" stop-color="#e6bc4a"/><stop offset="0.054" stop-color="#14abba"/><stop offset="0.062" stop-color="#0caabe"/><stop offset="0.195" stop-color="#07a6c5"/><stop offset="0.228" stop-color="#089ad0"/><stop offset="0.261" stop-color="#1382d4"/><stop offset="0.286" stop-color="#0a74db"/><stop offset="0.523" stop-color="#1384d4"/><stop offset="0.672" stop-color="#0f8ed2"/><stop offset="0.813" stop-color="#079cd0"/><stop offset="1" stop-color="#07a0cc"/></linearGradient><linearGradient id="b149"><stop offset="0" stop-color="#e3bc4b"/><stop offset="0.037" stop-color="#53b098"/><stop offset="0.054" stop-color="#15abb9"/><stop offset="0.062" stop-color="#0caabe"/><stop offset="0.207" stop-color="#07a6c5"/><stop offset="0.241" stop-color="#089ad0"/><stop offset="0.274" stop-color="#1382d4"/><stop offset="0.286" stop-color="#0f7bd8"/><stop offset="0.423" stop-color="#1384d4"/><stop offset="0.668" stop-color="#0c93d2"/><stop offset="0.776" stop-color="#079dcf"/><stop offset="1" stop-color="#07a1cb"/></linearGradient><linearGradient id="b150"><stop offset="0" stop-color="#e1bc4d"/><stop offset="0.025" stop-color="#82b47f"/><stop offset="0.054" stop-color="#16abb9"/><stop offset="0.062" stop-color="#0caabe"/><stop offset="0.22" stop-color="#07a6c5"/><stop offset="0.253" stop-color="#089ad0"/><stop offset="0.286" stop-color="#1382d4"/><stop offset="0.568" stop-color="#0c92d2"/><stop offset="0.668" stop-color="#0998d1"/><stop offset="0.759" stop-color="#079ece"/><stop offset="1" stop-color="#07a2ca"/></linearGradient><linearGradient id="b151"><stop offset="0" stop-color="#debc4e"/><stop offset="0.033" stop-color="#63b190"/><stop offset="0.054" stop-color="#17abb8"/><stop offset="0.062" stop-color="#0daabe"/><stop offset="0.17" stop-color="#09a7c2"/><stop offset="0.232" stop-color="#07a6c5"/><stop offset="0.266" stop-color="#0899d0"/><stop offset="0.286" stop-color="#108bd3"/><stop offset="0.589" stop-color="#0999d0"/><stop offset="0.871" stop-color="#07a1ca"/><stop offset="1" stop-color="#07a3c9"/></linearGradient><linearGradient id="b152"><stop offset="0" stop-color="#dcbb4f"/><stop offset="0.054" stop-color="#18abb8"/><stop offset="0.062" stop-color="#0eaabd"/><stop offset="0.095" stop-color="#0aa9c0"/><stop offset="0.245" stop-color="#07a6c5"/><stop offset="0.278" stop-color="#0999d0"/><stop offset="0.286" stop-color="#0b94d1"/><stop offset="0.552" stop-color="#079dcf"/><stop offset="1" stop-color="#07a4c8"/></linearGradient><linearGradient id="b153"><stop offset="0" stop-color="#d9bb50"/><stop offset="0.054" stop-color="#19abb7"/><stop offset="0.066" stop-color="#0caabe"/><stop offset="0.199" stop-color="#09a7c3"/><stop offset="0.257" stop-color="#07a6c5"/><stop offset="0.29" stop-color="#079cd0"/><stop offset="1" stop-color="#07a5c7"/></linearGradient><linearGradient id="b154"><stop offset="0" stop-color="#d7bb52"/><stop offset="0.054" stop-color="#1aabb7"/><stop offset="0.066" stop-color="#0caabe"/><stop offset="0.187" stop-color="#09a8c2"/><stop offset="0.266" stop-color="#07a6c5"/><stop offset="0.29" stop-color="#07a0cb"/><stop offset="1" stop-color="#07a6c5"/></linearGradient><linearGradient id="b155"><stop offset="0" stop-color="#d4bb53"/><stop offset="0.054" stop-color="#1babb6"/><stop offset="0.066" stop-color="#0caabe"/><stop offset="0.178" stop-color="#09a8c2"/><stop offset="0.278" stop-color="#07a6c5"/><stop offset="0.299" stop-color="#07a4c7"/><stop offset="1" stop-color="#07a6c5"/></linearGradient><linearGradient id="b156"><stop offset="0" stop-color="#d2ba54"/><stop offset="0.054" stop-color="#1cabb6"/><stop offset="0.066" stop-color="#0daabe"/><stop offset="0.154" stop-color="#09a8c2"/><stop offset="0.494" stop-color="#08a6c4"/><stop offset="1" stop-color="#07a6c4"/></linearGradient><linearGradient id="b157"><stop offset="0" stop-color="#cfba56"/><stop offset="0.054" stop-color="#1babb6"/><stop offset="0.066" stop-color="#0caabe"/><stop offset="0.158" stop-color="#09a8c2"/><stop offset="1" stop-color="#08a7c4"/></linearGradient><linearGradient id="b158"><stop offset="0" stop-color="#cdba57"/><stop offset="0.054" stop-color="#1aabb7"/><stop offset="0.066" stop-color="#0caabe"/><stop offset="0.162" stop-color="#0aa8c1"/><stop offset="1" stop-color="#08a7c3"/></linearGradient><linearGradient id="b159"><stop offset="0" stop-color="#caba59"/><stop offset="0.054" stop-color="#19abb7"/><stop offset="0.066" stop-color="#0caabe"/><stop offset="0.158" stop-color="#0aa8c1"/><stop offset="1" stop-color="#08a7c3"/></linearGradient><linearGradient id="b160"><stop offset="0" stop-color="#c8ba5a"/><stop offset="0.054" stop-color="#17abb8"/><stop offset="0.062" stop-color="#0daabd"/><stop offset="0.141" stop-color="#0aa8c1"/><stop offset="1" stop-color="#09a7c2"/></linearGradient><linearGradient id="b161"><stop offset="0" stop-color="#c5b95b"/><stop offset="0.054" stop-color="#16abb9"/><stop offset="0.062" stop-color="#0caabe"/><stop offset="0.162" stop-color="#0aa8c1"/><stop offset="1" stop-color="#09a8c2"/></linearGradient><linearGradient id="b162"><stop offset="0" stop-color="#c2b95d"/><stop offset="0.05" stop-color="#21acb3"/><stop offset="0.054" stop-color="#15abb9"/><stop offset="0.062" stop-color="#0caabe"/><stop offset="0.166" stop-color="#0aa8c1"/><stop offset="1" stop-color="#0aa8c1"/></linearGradient><linearGradient id="b163"><stop offset="0" stop-color="#c0b95e"/><stop offset="0.05" stop-color="#1facb4"/><stop offset="0.054" stop-color="#13abba"/><stop offset="0.062" stop-color="#0caabe"/><stop offset="0.17" stop-color="#0aa8c1"/><stop offset="1" stop-color="#0aa8c1"/></linearGradient><linearGradient id="b164"><stop offset="0" stop-color="#bdb960"/><stop offset="0.05" stop-color="#1eabb5"/><stop offset="0.054" stop-color="#12abbb"/><stop offset="0.058" stop-color="#0daabd"/><stop offset="0.145" stop-color="#0aa8c1"/><stop offset="1" stop-color="#0aa9c0"/></linearGradient><linearGradient id="b165"><stop offset="0" stop-color="#bab961"/><stop offset="0.041" stop-color="#36aea7"/><stop offset="0.054" stop-color="#1ab"/><stop offset="0.058" stop-color="#0caabe"/><stop offset="0.162" stop-color="#0aa8c1"/><stop offset="1" stop-color="#0ba9c0"/></linearGradient><linearGradient id="b166"><stop offset="0" stop-color="#b8b862"/><stop offset="0.033" stop-color="#4eb09b"/><stop offset="0.054" stop-color="#10aabc"/><stop offset="0.058" stop-color="#0caabe"/><stop offset="0.162" stop-color="#0aa8c1"/><stop offset="1" stop-color="#0ba9bf"/></linearGradient><linearGradient id="b167"><stop offset="0" stop-color="#b5b864"/><stop offset="0.033" stop-color="#4daf9c"/><stop offset="0.054" stop-color="#0eaabd"/><stop offset="0.066" stop-color="#0baabf"/><stop offset="0.195" stop-color="#0aa8c1"/><stop offset="1" stop-color="#0baabf"/></linearGradient><linearGradient id="b168"><stop offset="0" stop-color="#b3b865"/><stop offset="0.037" stop-color="#3eaea3"/><stop offset="0.054" stop-color="#0daabe"/><stop offset="0.145" stop-color="#0aa8c1"/><stop offset="1" stop-color="#0caabe"/></linearGradient><linearGradient id="b169"><stop offset="0" stop-color="#b0b867"/><stop offset="0.046" stop-color="#23acb2"/><stop offset="0.054" stop-color="#0caabe"/><stop offset="0.158" stop-color="#0aa8c1"/><stop offset="0.979" stop-color="#0daabd"/><stop offset="1" stop-color="#0faabc"/></linearGradient><linearGradient id="b170"><stop offset="0" stop-color="#adb768"/><stop offset="0.05" stop-color="#16abb9"/><stop offset="0.054" stop-color="#0caabe"/><stop offset="0.158" stop-color="#0aa8c1"/><stop offset="0.896" stop-color="#0eaabd"/><stop offset="1" stop-color="#17abb8"/></linearGradient><linearGradient id="b171"><stop offset="0" stop-color="#abb769"/><stop offset="0.05" stop-color="#14abba"/><stop offset="0.054" stop-color="#0caabe"/><stop offset="0.162" stop-color="#0aa8c1"/><stop offset="0.809" stop-color="#0daabd"/><stop offset="1" stop-color="#20acb4"/></linearGradient><linearGradient id="b172"><stop offset="0" stop-color="#a8b76b"/><stop offset="0.05" stop-color="#13abba"/><stop offset="0.054" stop-color="#0caabe"/><stop offset="0.162" stop-color="#0aa8c1"/><stop offset="0.722" stop-color="#0daabd"/><stop offset="0.967" stop-color="#24acb1"/><stop offset="1" stop-color="#28acaf"/></linearGradient><linearGradient id="b173"><stop offset="0" stop-color="#a5b76c"/><stop offset="0.05" stop-color="#12aabb"/><stop offset="0.054" stop-color="#0caabe"/><stop offset="0.162" stop-color="#0aa8c1"/><stop offset="0.639" stop-color="#0daabd"/><stop offset="0.892" stop-color="#23acb2"/><stop offset="1" stop-color="#30adab"/></linearGradient><linearGradient id="b174"><stop offset="0" stop-color="#a3b76e"/><stop offset="0.05" stop-color="#10aabc"/><stop offset="0.054" stop-color="#0caabe"/><stop offset="0.174" stop-color="#0aa8c1"/><stop offset="0.589" stop-color="#0daabd"/><stop offset="0.871" stop-color="#29acae"/><stop offset="1" stop-color="#38aea6"/></linearGradient><linearGradient id="b175"><stop offset="0" stop-color="#a0b66f"/><stop offset="0.05" stop-color="#0faabc"/><stop offset="0.054" stop-color="#0caabf"/><stop offset="0.17" stop-color="#0aa8c1"/><stop offset="0.539" stop-color="#0daabd"/><stop offset="0.714" stop-color="#1facb4"/><stop offset="1" stop-color="#40aea2"/></linearGradient><linearGradient id="b176"><stop offset="0" stop-color="#9eb670"/><stop offset="0.05" stop-color="#0eaabd"/><stop offset="0.062" stop-color="#0ba9bf"/><stop offset="0.178" stop-color="#0aa9c0"/><stop offset="0.494" stop-color="#0eaabd"/><stop offset="1" stop-color="#49af9e"/></linearGradient><linearGradient id="b177"><stop offset="0" stop-color="#99b673"/><stop offset="0.046" stop-color="#13abba"/><stop offset="0.05" stop-color="#0caabe"/><stop offset="0.145" stop-color="#0aa8c1"/><stop offset="0.523" stop-color="#0daabd"/><stop offset="1" stop-color="#45afa0"/></linearGradient><linearGradient id="b178"><stop offset="0" stop-color="#94b576"/><stop offset="0.046" stop-color="#0caabe"/><stop offset="0.124" stop-color="#0aa8c1"/><stop offset="0.564" stop-color="#0eaabd"/><stop offset="1" stop-color="#3faea3"/></linearGradient><linearGradient id="b179"><stop offset="0" stop-color="#8fb578"/><stop offset="0.041" stop-color="#0faabc"/><stop offset="0.05" stop-color="#0ba9c0"/><stop offset="0.174" stop-color="#0aa8c1"/><stop offset="0.602" stop-color="#0daabd"/><stop offset="1" stop-color="#3aaea6"/></linearGradient><linearGradient id="b180"><stop offset="0" stop-color="#8ab57b"/><stop offset="0.037" stop-color="#14abba"/><stop offset="0.041" stop-color="#0caabe"/><stop offset="0.075" stop-color="#09a8c2"/><stop offset="0.643" stop-color="#0daabd"/><stop offset="1" stop-color="#34ada8"/></linearGradient><linearGradient id="b181"><stop offset="0" stop-color="#85b47d"/><stop offset="0.037" stop-color="#0caabe"/><stop offset="0.066" stop-color="#09a8c2"/><stop offset="0.689" stop-color="#0eaabd"/><stop offset="1" stop-color="#2fadab"/></linearGradient><linearGradient id="b182"><stop offset="0" stop-color="#80b480"/><stop offset="0.033" stop-color="#0faabc"/><stop offset="0.037" stop-color="#0caabf"/><stop offset="0.066" stop-color="#09a8c2"/><stop offset="0.734" stop-color="#0eaabd"/><stop offset="1" stop-color="#2aacae"/></linearGradient><linearGradient id="b183"><stop offset="0" stop-color="#7bb383"/><stop offset="0.029" stop-color="#16abb9"/><stop offset="0.033" stop-color="#0caabe"/><stop offset="0.062" stop-color="#08a7c3"/><stop offset="0.739" stop-color="#0daabd"/><stop offset="0.992" stop-color="#29acaf"/><stop offset="1" stop-color="#2badae"/></linearGradient><linearGradient id="b184"><stop offset="0" stop-color="#76b386"/><stop offset="0.029" stop-color="#0faabd"/><stop offset="0.037" stop-color="#0ba9c0"/><stop offset="0.062" stop-color="#08a7c4"/><stop offset="0.672" stop-color="#0daabd"/><stop offset="0.938" stop-color="#2badae"/><stop offset="1" stop-color="#37aea7"/></linearGradient><linearGradient id="b185"><stop offset="0" stop-color="#70b289"/><stop offset="0.021" stop-color="#27acb0"/><stop offset="0.025" stop-color="#17abb8"/><stop offset="0.029" stop-color="#0caabe"/><stop offset="0.058" stop-color="#07a6c5"/><stop offset="0.631" stop-color="#0daabd"/><stop offset="0.66" stop-color="#13abba"/><stop offset="0.884" stop-color="#2cadad"/><stop offset="1" stop-color="#44afa0"/></linearGradient><linearGradient id="b186"><stop offset="0" stop-color="#6bb28b"/><stop offset="0.021" stop-color="#20acb3"/><stop offset="0.025" stop-color="#10aabc"/><stop offset="0.029" stop-color="#0baabf"/><stop offset="0.05" stop-color="#07a6c4"/><stop offset="0.054" stop-color="#07a4c7"/><stop offset="0.199" stop-color="#09a8c2"/><stop offset="0.606" stop-color="#0caabe"/><stop offset="0.651" stop-color="#19abb7"/><stop offset="0.842" stop-color="#2fadab"/><stop offset="0.967" stop-color="#47af9e"/><stop offset="1" stop-color="#50b09a"/></linearGradient><linearGradient id="b187"><stop offset="0" stop-color="#65b18e"/><stop offset="0.017" stop-color="#2aacae"/><stop offset="0.021" stop-color="#19abb7"/><stop offset="0.025" stop-color="#0caabe"/><stop offset="0.05" stop-color="#07a5c6"/><stop offset="0.054" stop-color="#07a1ca"/><stop offset="0.154" stop-color="#09a7c3"/><stop offset="0.585" stop-color="#0caabe"/><stop offset="0.647" stop-color="#1facb4"/><stop offset="0.826" stop-color="#35ada8"/><stop offset="0.95" stop-color="#4eb09b"/><stop offset="1" stop-color="#5db193"/></linearGradient><linearGradient id="b188"><stop offset="0" stop-color="#60b191"/><stop offset="0.012" stop-color="#34ada8"/><stop offset="0.021" stop-color="#12aabb"/><stop offset="0.025" stop-color="#0baabf"/><stop offset="0.046" stop-color="#07a6c5"/><stop offset="0.054" stop-color="#079fcd"/><stop offset="0.145" stop-color="#08a7c4"/><stop offset="0.564" stop-color="#0daabe"/><stop offset="0.647" stop-color="#26acb0"/><stop offset="0.822" stop-color="#3daea4"/><stop offset="0.942" stop-color="#57b096"/><stop offset="1" stop-color="#69b28c"/></linearGradient><linearGradient id="b189"><stop offset="0" stop-color="#5bb194"/><stop offset="0.012" stop-color="#2eadac"/><stop offset="0.021" stop-color="#0caabe"/><stop offset="0.041" stop-color="#08a6c4"/><stop offset="0.054" stop-color="#079cd0"/><stop offset="0.145" stop-color="#08a7c4"/><stop offset="0.544" stop-color="#0daabe"/><stop offset="0.647" stop-color="#2dadad"/><stop offset="0.813" stop-color="#44afa0"/><stop offset="0.921" stop-color="#5db193"/><stop offset="1" stop-color="#76b386"/></linearGradient><linearGradient id="b190"><stop offset="0" stop-color="#55b097"/><stop offset="0.008" stop-color="#38aea6"/><stop offset="0.017" stop-color="#13abba"/><stop offset="0.021" stop-color="#0baabf"/><stop offset="0.041" stop-color="#07a5c6"/><stop offset="0.05" stop-color="#079dcf"/><stop offset="0.054" stop-color="#0a97d1"/><stop offset="0.075" stop-color="#079ece"/><stop offset="0.158" stop-color="#08a7c4"/><stop offset="0.523" stop-color="#0daabd"/><stop offset="0.647" stop-color="#33ada9"/><stop offset="0.809" stop-color="#4caf9c"/><stop offset="0.888" stop-color="#5fb192"/><stop offset="1" stop-color="#82b47f"/></linearGradient><linearGradient id="b191"><stop offset="0" stop-color="#50b09a"/><stop offset="0.008" stop-color="#32adaa"/><stop offset="0.017" stop-color="#0caabe"/><stop offset="0.037" stop-color="#07a6c5"/><stop offset="0.05" stop-color="#0899d0"/><stop offset="0.054" stop-color="#0d91d2"/><stop offset="0.079" stop-color="#079cd0"/><stop offset="0.166" stop-color="#08a7c4"/><stop offset="0.502" stop-color="#0daabd"/><stop offset="0.651" stop-color="#3baea5"/><stop offset="0.805" stop-color="#54b098"/><stop offset="0.867" stop-color="#65b18e"/><stop offset="1" stop-color="#8fb578"/></linearGradient><linearGradient id="b192"><stop offset="0" stop-color="#4aaf9d"/><stop offset="0.004" stop-color="#3caea4"/><stop offset="0.012" stop-color="#15abb9"/><stop offset="0.017" stop-color="#0caabf"/><stop offset="0.037" stop-color="#07a4c7"/><stop offset="0.046" stop-color="#079cd0"/><stop offset="0.054" stop-color="#0f8cd3"/><stop offset="0.087" stop-color="#079cd0"/><stop offset="0.174" stop-color="#08a6c4"/><stop offset="0.481" stop-color="#0daabd"/><stop offset="0.651" stop-color="#42aea1"/><stop offset="0.793" stop-color="#5ab194"/><stop offset="1" stop-color="#9cb671"/></linearGradient><linearGradient id="b193"><stop offset="0" stop-color="#45afa0"/><stop offset="0.004" stop-color="#37aea7"/><stop offset="0.012" stop-color="#0caabe"/><stop offset="0.033" stop-color="#07a6c5"/><stop offset="0.041" stop-color="#079ece"/><stop offset="0.054" stop-color="#1286d3"/><stop offset="0.091" stop-color="#0899d0"/><stop offset="0.183" stop-color="#08a6c4"/><stop offset="0.432" stop-color="#0caabe"/><stop offset="0.461" stop-color="#0eaabd"/><stop offset="0.651" stop-color="#48af9e"/><stop offset="0.759" stop-color="#5cb193"/><stop offset="1" stop-color="#a8b76b"/></linearGradient><linearGradient id="b194"><stop offset="0" stop-color="#40aea2"/><stop offset="0.004" stop-color="#2eadac"/><stop offset="0.008" stop-color="#18abb8"/><stop offset="0.012" stop-color="#0caabf"/><stop offset="0.029" stop-color="#07a6c4"/><stop offset="0.041" stop-color="#089ad0"/><stop offset="0.05" stop-color="#1189d3"/><stop offset="0.054" stop-color="#1381d5"/><stop offset="0.062" stop-color="#1385d4"/><stop offset="0.1" stop-color="#0999d1"/><stop offset="0.174" stop-color="#07a5c6"/><stop offset="0.349" stop-color="#0ba9bf"/><stop offset="0.436" stop-color="#0daabe"/><stop offset="0.651" stop-color="#4fb09a"/><stop offset="0.722" stop-color="#5db193"/><stop offset="1" stop-color="#b5b864"/></linearGradient><linearGradient id="b195"><stop offset="0" stop-color="#3aaea5"/><stop offset="0.008" stop-color="#0eaabd"/><stop offset="0.029" stop-color="#07a5c6"/><stop offset="0.037" stop-color="#079dcf"/><stop offset="0.05" stop-color="#1483d4"/><stop offset="0.054" stop-color="#107dd7"/><stop offset="0.071" stop-color="#1385d4"/><stop offset="0.108" stop-color="#0998d1"/><stop offset="0.149" stop-color="#07a0cb"/><stop offset="0.207" stop-color="#08a7c4"/><stop offset="0.415" stop-color="#0daabe"/><stop offset="0.651" stop-color="#56b096"/><stop offset="0.693" stop-color="#60b191"/><stop offset="1" stop-color="#c1b95d"/></linearGradient><linearGradient id="b196"><stop offset="0" stop-color="#36ada8"/><stop offset="0.004" stop-color="#29acae"/><stop offset="0.008" stop-color="#14abba"/><stop offset="0.012" stop-color="#0ba9bf"/><stop offset="0.029" stop-color="#07a5c6"/><stop offset="0.037" stop-color="#079dcf"/><stop offset="0.05" stop-color="#1384d4"/><stop offset="0.054" stop-color="#107ed7"/><stop offset="0.066" stop-color="#1483d4"/><stop offset="0.108" stop-color="#089ad0"/><stop offset="0.195" stop-color="#07a6c4"/><stop offset="0.369" stop-color="#0caabe"/><stop offset="0.39" stop-color="#0daabd"/><stop offset="1" stop-color="#ceba57"/></linearGradient><linearGradient id="b197"><stop offset="0" stop-color="#34ada9"/><stop offset="0.004" stop-color="#29acae"/><stop offset="0.012" stop-color="#29acae"/><stop offset="0.017" stop-color="#17abb8"/><stop offset="0.021" stop-color="#0baabf"/><stop offset="0.037" stop-color="#07a6c5"/><stop offset="0.046" stop-color="#079ece"/><stop offset="0.054" stop-color="#0e8fd2"/><stop offset="0.083" stop-color="#079dcf"/><stop offset="0.154" stop-color="#08a6c4"/><stop offset="0.315" stop-color="#0caabf"/><stop offset="0.353" stop-color="#0daabd"/><stop offset="1" stop-color="#dbbb50"/></linearGradient><linearGradient id="b198"><stop offset="0" stop-color="#32adaa"/><stop offset="0.004" stop-color="#29acae"/><stop offset="0.021" stop-color="#29acae"/><stop offset="0.029" stop-color="#0caabf"/><stop offset="0.046" stop-color="#07a6c5"/><stop offset="0.054" stop-color="#079fcd"/><stop offset="0.104" stop-color="#07a6c4"/><stop offset="0.266" stop-color="#0baabf"/><stop offset="0.315" stop-color="#0daabd"/><stop offset="1" stop-color="#e7bc49"/></linearGradient><linearGradient id="b199"><stop offset="0" stop-color="#30adab"/><stop offset="0.004" stop-color="#29acae"/><stop offset="0.029" stop-color="#29acae"/><stop offset="0.033" stop-color="#1eabb5"/><stop offset="0.037" stop-color="#0caabe"/><stop offset="0.058" stop-color="#08a6c4"/><stop offset="0.249" stop-color="#0caabe"/><stop offset="0.295" stop-color="#12abbb"/><stop offset="1" stop-color="#f4bd42"/></linearGradient><linearGradient id="b200"><stop offset="0" stop-color="#2eadac"/><stop offset="0.004" stop-color="#29acae"/><stop offset="0.037" stop-color="#29acae"/><stop offset="0.041" stop-color="#21acb3"/><stop offset="0.046" stop-color="#0caabe"/><stop offset="0.058" stop-color="#0aa8c1"/><stop offset="0.166" stop-color="#0eaabd"/><stop offset="0.253" stop-color="#19abb7"/><stop offset="0.29" stop-color="#1dabb5"/><stop offset="0.988" stop-color="#fcbe3e"/><stop offset="1" stop-color="#fcbf3d"/></linearGradient><linearGradient id="b201"><stop offset="0" stop-color="#2cadad"/><stop offset="0.008" stop-color="#29acae"/><stop offset="0.046" stop-color="#29acae"/><stop offset="0.05" stop-color="#24acb1"/><stop offset="0.054" stop-color="#0eaabd"/><stop offset="0.112" stop-color="#1facb4"/><stop offset="0.22" stop-color="#26acb0"/><stop offset="0.29" stop-color="#29acaf"/><stop offset="0.946" stop-color="#fcbe3e"/><stop offset="1" stop-color="#fdc03c"/></linearGradient><linearGradient id="b202"><stop offset="0" stop-color="#2aacae"/><stop offset="0.021" stop-color="#2aadae"/><stop offset="0.054" stop-color="#42afa1"/><stop offset="0.112" stop-color="#45afa0"/><stop offset="0.232" stop-color="#35ada8"/><stop offset="0.29" stop-color="#35ada8"/><stop offset="0.909" stop-color="#fcbe3e"/><stop offset="1" stop-color="#fec13a"/></linearGradient><linearGradient id="b203"><stop offset="0" stop-color="#24acb1"/><stop offset="0.021" stop-color="#2fadab"/><stop offset="0.054" stop-color="#47af9f"/><stop offset="0.12" stop-color="#45afa0"/><stop offset="0.232" stop-color="#36aea7"/><stop offset="0.274" stop-color="#37aea7"/><stop offset="0.805" stop-color="#e8bc49"/><stop offset="0.871" stop-color="#fcbe3e"/><stop offset="0.983" stop-color="#fec438"/><stop offset="1" stop-color="#fdc735"/></linearGradient><linearGradient id="b204"><stop offset="0" stop-color="#1dabb5"/><stop offset="0.033" stop-color="#2cadad"/><stop offset="0.054" stop-color="#3baea5"/><stop offset="0.12" stop-color="#39aea6"/><stop offset="0.166" stop-color="#36aea7"/><stop offset="0.257" stop-color="#37aea7"/><stop offset="0.311" stop-color="#4baf9c"/><stop offset="0.618" stop-color="#b6b863"/><stop offset="0.826" stop-color="#fcbe3e"/><stop offset="0.942" stop-color="#fec437"/><stop offset="1" stop-color="#fcd02f"/></linearGradient><linearGradient id="b205"><stop offset="0" stop-color="#15abb9"/><stop offset="0.037" stop-color="#24acb1"/><stop offset="0.054" stop-color="#2eadac"/><stop offset="0.108" stop-color="#2fadac"/><stop offset="0.129" stop-color="#36aea7"/><stop offset="0.241" stop-color="#37aea7"/><stop offset="0.303" stop-color="#50b09a"/><stop offset="0.598" stop-color="#bab861"/><stop offset="0.68" stop-color="#d8bb51"/><stop offset="0.788" stop-color="#fcbe3e"/><stop offset="0.896" stop-color="#fec438"/><stop offset="1" stop-color="#fbd828"/></linearGradient><linearGradient id="b206"><stop offset="0" stop-color="#0eaabd"/><stop offset="0.041" stop-color="#1babb6"/><stop offset="0.054" stop-color="#22acb2"/><stop offset="0.108" stop-color="#22acb2"/><stop offset="0.154" stop-color="#36aea8"/><stop offset="0.224" stop-color="#37aea7"/><stop offset="0.303" stop-color="#57b096"/><stop offset="0.598" stop-color="#c6ba5b"/><stop offset="0.68" stop-color="#e4bc4b"/><stop offset="0.751" stop-color="#fcbe3e"/><stop offset="0.855" stop-color="#fec438"/><stop offset="1" stop-color="#fae022"/></linearGradient><linearGradient id="b207"><stop offset="0" stop-color="#0caabe"/><stop offset="0.033" stop-color="#0eaabd"/><stop offset="0.058" stop-color="#16abb9"/><stop offset="0.108" stop-color="#16abb9"/><stop offset="0.183" stop-color="#36aea7"/><stop offset="0.207" stop-color="#37aea7"/><stop offset="0.315" stop-color="#64b18f"/><stop offset="0.705" stop-color="#fbbe3e"/><stop offset="0.809" stop-color="#fec438"/><stop offset="1" stop-color="#fae81d"/></linearGradient></defs><rect y="0" width="482" height="2.6" fill="url(#b0)"/><rect y="2" width="482" height="2.6" fill="url(#b1)"/><rect y="4" width="482" height="2.6" fill="url(#b2)"/><rect y="6" width="482" height="2.6" fill="url(#b3)"/><rect y="8" width="482" height="2.6" fill="url(#b4)"/><rect y="10" width="482" height="2.6" fill="url(#b5)"/><rect y="12" width="482" height="2.6" fill="url(#b6)"/><rect y="14" width="482" height="2.6" fill="url(#b7)"/><rect y="16" width="482" height="2.6" fill="url(#b8)"/><rect y="18" width="482" height="2.6" fill="url(#b9)"/><rect y="20" width="482" height="2.6" fill="url(#b10)"/><rect y="22" width="482" height="2.6" fill="url(#b11)"/><rect y="24" width="482" height="2.6" fill="url(#b12)"/><rect y="26" width="482" height="2.6" fill="url(#b13)"/><rect y="28" width="482" height="2.6" fill="url(#b14)"/><rect y="30" width="482" height="2.6" fill="url(#b15)"/><rect y="32" width="482" height="2.6" fill="url(#b16)"/><rect y="34" width="482" height="2.6" fill="url(#b17)"/><rect y="36" width="482" height="2.6" fill="url(#b18)"/><rect y="38" width="482" height="2.6" fill="url(#b19)"/><rect y="40" width="482" height="2.6" fill="url(#b20)"/><rect y="42" width="482" height="2.6" fill="url(#b21)"/><rect y="44" width="482" height="2.6" fill="url(#b22)"/><rect y="46" width="482" height="2.6" fill="url(#b23)"/><rect y="48" width="482" height="2.6" fill="url(#b24)"/><rect y="50" width="482" height="2.6" fill="url(#b25)"/><rect y="52" width="482" height="2.6" fill="url(#b26)"/><rect y="54" width="482" height="2.6" fill="url(#b27)"/><rect y="56" width="482" height="2.6" fill="url(#b28)"/><rect y="58" width="482" height="2.6" fill="url(#b29)"/><rect y="60" width="482" height="2.6" fill="url(#b30)"/><rect y="62" width="482" height="2.6" fill="url(#b31)"/><rect y="64" width="482" height="2.6" fill="url(#b32)"/><rect y="66" width="482" height="2.6" fill="url(#b33)"/><rect y="68" width="482" height="2.6" fill="url(#b34)"/><rect y="70" width="482" height="2.6" fill="url(#b35)"/><rect y="72" width="482" height="2.6" fill="url(#b36)"/><rect y="74" width="482" height="2.6" fill="url(#b37)"/><rect y="76" width="482" height="2.6" fill="url(#b38)"/><rect y="78" width="482" height="2.6" fill="url(#b39)"/><rect y="80" width="482" height="2.6" fill="url(#b40)"/><rect y="82" width="482" height="2.6" fill="url(#b41)"/><rect y="84" width="482" height="2.6" fill="url(#b42)"/><rect y="86" width="482" height="2.6" fill="url(#b43)"/><rect y="88" width="482" height="2.6" fill="url(#b44)"/><rect y="90" width="482" height="2.6" fill="url(#b45)"/><rect y="92" width="482" height="2.6" fill="url(#b46)"/><rect y="94" width="482" height="2.6" fill="url(#b47)"/><rect y="96" width="482" height="2.6" fill="url(#b48)"/><rect y="98" width="482" height="2.6" fill="url(#b49)"/><rect y="100" width="482" height="2.6" fill="url(#b50)"/><rect y="102" width="482" height="2.6" fill="url(#b51)"/><rect y="104" width="482" height="2.6" fill="url(#b52)"/><rect y="106" width="482" height="2.6" fill="url(#b53)"/><rect y="108" width="482" height="2.6" fill="url(#b54)"/><rect y="110" width="482" height="2.6" fill="url(#b55)"/><rect y="112" width="482" height="2.6" fill="url(#b56)"/><rect y="114" width="482" height="2.6" fill="url(#b57)"/><rect y="116" width="482" height="2.6" fill="url(#b58)"/><rect y="118" width="482" height="2.6" fill="url(#b59)"/><rect y="120" width="482" height="2.6" fill="url(#b60)"/><rect y="122" width="482" height="2.6" fill="url(#b61)"/><rect y="124" width="482" height="2.6" fill="url(#b62)"/><rect y="126" width="482" height="2.6" fill="url(#b63)"/><rect y="128" width="482" height="2.6" fill="url(#b64)"/><rect y="130" width="482" height="2.6" fill="url(#b65)"/><rect y="132" width="482" height="2.6" fill="url(#b66)"/><rect y="134" width="482" height="2.6" fill="url(#b67)"/><rect y="136" width="482" height="2.6" fill="url(#b68)"/><rect y="138" width="482" height="2.6" fill="url(#b69)"/><rect y="140" width="482" height="2.6" fill="url(#b70)"/><rect y="142" width="482" height="2.6" fill="url(#b71)"/><rect y="144" width="482" height="2.6" fill="url(#b72)"/><rect y="146" width="482" height="2.6" fill="url(#b73)"/><rect y="148" width="482" height="2.6" fill="url(#b74)"/><rect y="150" width="482" height="2.6" fill="url(#b75)"/><rect y="152" width="482" height="2.6" fill="url(#b76)"/><rect y="154" width="482" height="2.6" fill="url(#b77)"/><rect y="156" width="482" height="2.6" fill="url(#b78)"/><rect y="158" width="482" height="2.6" fill="url(#b79)"/><rect y="160" width="482" height="2.6" fill="url(#b80)"/><rect y="162" width="482" height="2.6" fill="url(#b81)"/><rect y="164" width="482" height="2.6" fill="url(#b82)"/><rect y="166" width="482" height="2.6" fill="url(#b83)"/><rect y="168" width="482" height="2.6" fill="url(#b84)"/><rect y="170" width="482" height="2.6" fill="url(#b85)"/><rect y="172" width="482" height="2.6" fill="url(#b86)"/><rect y="174" width="482" height="2.6" fill="url(#b87)"/><rect y="176" width="482" height="2.6" fill="url(#b88)"/><rect y="178" width="482" height="2.6" fill="url(#b89)"/><rect y="180" width="482" height="2.6" fill="url(#b90)"/><rect y="182" width="482" height="2.6" fill="url(#b91)"/><rect y="184" width="482" height="2.6" fill="url(#b92)"/><rect y="186" width="482" height="2.6" fill="url(#b93)"/><rect y="188" width="482" height="2.6" fill="url(#b94)"/><rect y="190" width="482" height="2.6" fill="url(#b95)"/><rect y="192" width="482" height="2.6" fill="url(#b96)"/><rect y="194" width="482" height="2.6" fill="url(#b97)"/><rect y="196" width="482" height="2.6" fill="url(#b98)"/><rect y="198" width="482" height="2.6" fill="url(#b99)"/><rect y="200" width="482" height="2.6" fill="url(#b100)"/><rect y="202" width="482" height="2.6" fill="url(#b101)"/><rect y="204" width="482" height="2.6" fill="url(#b102)"/><rect y="206" width="482" height="2.6" fill="url(#b103)"/><rect y="208" width="482" height="2.6" fill="url(#b104)"/><rect y="210" width="482" height="2.6" fill="url(#b105)"/><rect y="212" width="482" height="2.6" fill="url(#b106)"/><rect y="214" width="482" height="2.6" fill="url(#b107)"/><rect y="216" width="482" height="2.6" fill="url(#b108)"/><rect y="218" width="482" height="2.6" fill="url(#b109)"/><rect y="220" width="482" height="2.6" fill="url(#b110)"/><rect y="222" width="482" height="2.6" fill="url(#b111)"/><rect y="224" width="482" height="2.6" fill="url(#b112)"/><rect y="226" width="482" height="2.6" fill="url(#b113)"/><rect y="228" width="482" height="2.6" fill="url(#b114)"/><rect y="230" width="482" height="2.6" fill="url(#b115)"/><rect y="232" width="482" height="2.6" fill="url(#b116)"/><rect y="234" width="482" height="2.6" fill="url(#b117)"/><rect y="236" width="482" height="2.6" fill="url(#b118)"/><rect y="238" width="482" height="2.6" fill="url(#b119)"/><rect y="240" width="482" height="2.6" fill="url(#b120)"/><rect y="242" width="482" height="2.6" fill="url(#b121)"/><rect y="244" width="482" height="2.6" fill="url(#b122)"/><rect y="246" width="482" height="2.6" fill="url(#b123)"/><rect y="248" width="482" height="2.6" fill="url(#b124)"/><rect y="250" width="482" height="2.6" fill="url(#b125)"/><rect y="252" width="482" height="2.6" fill="url(#b126)"/><rect y="254" width="482" height="2.6" fill="url(#b127)"/><rect y="256" width="482" height="2.6" fill="url(#b128)"/><rect y="258" width="482" height="2.6" fill="url(#b129)"/><rect y="260" width="482" height="2.6" fill="url(#b130)"/><rect y="262" width="482" height="2.6" fill="url(#b131)"/><rect y="264" width="482" height="2.6" fill="url(#b132)"/><rect y="266" width="482" height="2.6" fill="url(#b133)"/><rect y="268" width="482" height="2.6" fill="url(#b134)"/><rect y="270" width="482" height="2.6" fill="url(#b135)"/><rect y="272" width="482" height="2.6" fill="url(#b136)"/><rect y="274" width="482" height="2.6" fill="url(#b137)"/><rect y="276" width="482" height="2.6" fill="url(#b138)"/><rect y="278" width="482" height="2.6" fill="url(#b139)"/><rect y="280" width="482" height="2.6" fill="url(#b140)"/><rect y="282" width="482" height="2.6" fill="url(#b141)"/><rect y="284" width="482" height="2.6" fill="url(#b142)"/><rect y="286" width="482" height="2.6" fill="url(#b143)"/><rect y="288" width="482" height="2.6" fill="url(#b144)"/><rect y="290" width="482" height="2.6" fill="url(#b145)"/><rect y="292" width="482" height="2.6" fill="url(#b146)"/><rect y="294" width="482" height="2.6" fill="url(#b147)"/><rect y="296" width="482" height="2.6" fill="url(#b148)"/><rect y="298" width="482" height="2.6" fill="url(#b149)"/><rect y="300" width="482" height="2.6" fill="url(#b150)"/><rect y="302" width="482" height="2.6" fill="url(#b151)"/><rect y="304" width="482" height="2.6" fill="url(#b152)"/><rect y="306" width="482" height="2.6" fill="url(#b153)"/><rect y="308" width="482" height="2.6" fill="url(#b154)"/><rect y="310" width="482" height="2.6" fill="url(#b155)"/><rect y="312" width="482" height="2.6" fill="url(#b156)"/><rect y="314" width="482" height="2.6" fill="url(#b157)"/><rect y="316" width="482" height="2.6" fill="url(#b158)"/><rect y="318" width="482" height="2.6" fill="url(#b159)"/><rect y="320" width="482" height="2.6" fill="url(#b160)"/><rect y="322" width="482" height="2.6" fill="url(#b161)"/><rect y="324" width="482" height="2.6" fill="url(#b162)"/><rect y="326" width="482" height="2.6" fill="url(#b163)"/><rect y="328" width="482" height="2.6" fill="url(#b164)"/><rect y="330" width="482" height="2.6" fill="url(#b165)"/><rect y="332" width="482" height="2.6" fill="url(#b166)"/><rect y="334" width="482" height="2.6" fill="url(#b167)"/><rect y="336" width="482" height="2.6" fill="url(#b168)"/><rect y="338" width="482" height="2.6" fill="url(#b169)"/><rect y="340" width="482" height="2.6" fill="url(#b170)"/><rect y="342" width="482" height="2.6" fill="url(#b171)"/><rect y="344" width="482" height="2.6" fill="url(#b172)"/><rect y="346" width="482" height="2.6" fill="url(#b173)"/><rect y="348" width="482" height="2.6" fill="url(#b174)"/><rect y="350" width="482" height="2.6" fill="url(#b175)"/><rect y="352" width="482" height="2.6" fill="url(#b176)"/><rect y="354" width="482" height="2.6" fill="url(#b177)"/><rect y="356" width="482" height="2.6" fill="url(#b178)"/><rect y="358" width="482" height="2.6" fill="url(#b179)"/><rect y="360" width="482" height="2.6" fill="url(#b180)"/><rect y="362" width="482" height="2.6" fill="url(#b181)"/><rect y="364" width="482" height="2.6" fill="url(#b182)"/><rect y="366" width="482" height="2.6" fill="url(#b183)"/><rect y="368" width="482" height="2.6" fill="url(#b184)"/><rect y="370" width="482" height="2.6" fill="url(#b185)"/><rect y="372" width="482" height="2.6" fill="url(#b186)"/><rect y="374" width="482" height="2.6" fill="url(#b187)"/><rect y="376" width="482" height="2.6" fill="url(#b188)"/><rect y="378" width="482" height="2.6" fill="url(#b189)"/><rect y="380" width="482" height="2.6" fill="url(#b190)"/><rect y="382" width="482" height="2.6" fill="url(#b191)"/><rect y="384" width="482" height="2.6" fill="url(#b192)"/><rect y="386" width="482" height="2.6" fill="url(#b193)"/><rect y="388" width="482" height="2.6" fill="url(#b194)"/><rect y="390" width="482" height="2.6" fill="url(#b195)"/><rect y="392" width="482" height="2.6" fill="url(#b196)"/><rect y="394" width="482" height="2.6" fill="url(#b197)"/><rect y="396" width="482" height="2.6" fill="url(#b198)"/><rect y="398" width="482" height="2.6" fill="url(#b199)"/><rect y="400" width="482" height="2.6" fill="url(#b200)"/><rect y="402" width="482" height="2.6" fill="url(#b201)"/><rect y="404" width="482" height="2.6" fill="url(#b202)"/><rect y="406" width="482" height="2.6" fill="url(#b203)"/><rect y="408" width="482" height="2.6" fill="url(#b204)"/><rect y="410" width="482" height="2.6" fill="url(#b205)"/><rect y="412" width="482" height="2.6" fill="url(#b206)"/><rect y="414" width="482" height="2" fill="url(#b207)"/></svg><svg class="hm" style="left:601px;top:62px" width="33.5" height="416.5" viewBox="0 0 33.5 416.5"><g shape-rendering="crispEdges"><rect x="0.75" y="0.75" width="32" height="6.98" fill="#f9fb0e"/><rect x="0.75" y="7.23" width="32" height="6.98" fill="#f9f512"/><rect x="0.75" y="13.72" width="32" height="6.98" fill="#f9f017"/><rect x="0.75" y="20.20" width="32" height="6.98" fill="#faea1b"/><rect x="0.75" y="26.69" width="32" height="6.98" fill="#fae51f"/><rect x="0.75" y="33.17" width="32" height="6.98" fill="#fadf23"/><rect x="0.75" y="39.66" width="32" height="6.98" fill="#fbd828"/><rect x="0.75" y="46.14" width="32" height="6.98" fill="#fcd12d"/><rect x="0.75" y="52.62" width="32" height="6.98" fill="#fdcb33"/><rect x="0.75" y="59.11" width="32" height="6.98" fill="#fec438"/><rect x="0.75" y="65.59" width="32" height="6.98" fill="#fdc13a"/><rect x="0.75" y="72.08" width="32" height="6.98" fill="#fdbf3c"/><rect x="0.75" y="78.56" width="32" height="6.98" fill="#fcbe3e"/><rect x="0.75" y="85.05" width="32" height="6.98" fill="#eebd45"/><rect x="0.75" y="91.53" width="32" height="6.98" fill="#e0bc4d"/><rect x="0.75" y="98.02" width="32" height="6.98" fill="#d3bb54"/><rect x="0.75" y="104.50" width="32" height="6.98" fill="#c5b95b"/><rect x="0.75" y="110.98" width="32" height="6.98" fill="#b8b862"/><rect x="0.75" y="117.47" width="32" height="6.98" fill="#aab76a"/><rect x="0.75" y="123.95" width="32" height="6.98" fill="#9cb671"/><rect x="0.75" y="130.44" width="32" height="6.98" fill="#8fb578"/><rect x="0.75" y="136.92" width="32" height="6.98" fill="#81b480"/><rect x="0.75" y="143.41" width="32" height="6.98" fill="#74b387"/><rect x="0.75" y="149.89" width="32" height="6.98" fill="#66b18e"/><rect x="0.75" y="156.38" width="32" height="6.98" fill="#58b095"/><rect x="0.75" y="162.86" width="32" height="6.98" fill="#4baf9d"/><rect x="0.75" y="169.34" width="32" height="6.98" fill="#3daea4"/><rect x="0.75" y="175.83" width="32" height="6.98" fill="#30adab"/><rect x="0.75" y="182.31" width="32" height="6.98" fill="#22acb2"/><rect x="0.75" y="188.80" width="32" height="6.98" fill="#14abba"/><rect x="0.75" y="195.28" width="32" height="6.98" fill="#0caabe"/><rect x="0.75" y="201.77" width="32" height="6.98" fill="#0ba9bf"/><rect x="0.75" y="208.25" width="32" height="6.98" fill="#0ba9c0"/><rect x="0.75" y="214.73" width="32" height="6.98" fill="#0aa8c1"/><rect x="0.75" y="221.22" width="32" height="6.98" fill="#09a8c2"/><rect x="0.75" y="227.70" width="32" height="6.98" fill="#09a7c3"/><rect x="0.75" y="234.19" width="32" height="6.98" fill="#08a7c3"/><rect x="0.75" y="240.67" width="32" height="6.98" fill="#07a6c4"/><rect x="0.75" y="247.16" width="32" height="6.98" fill="#07a6c5"/><rect x="0.75" y="253.64" width="32" height="6.98" fill="#07a3c8"/><rect x="0.75" y="260.12" width="32" height="6.98" fill="#07a1ca"/><rect x="0.75" y="266.61" width="32" height="6.98" fill="#079fcd"/><rect x="0.75" y="273.09" width="32" height="6.98" fill="#079ccf"/><rect x="0.75" y="279.58" width="32" height="6.98" fill="#0998d1"/><rect x="0.75" y="286.06" width="32" height="6.98" fill="#0c93d1"/><rect x="0.75" y="292.55" width="32" height="6.98" fill="#0e8ed2"/><rect x="0.75" y="299.03" width="32" height="6.98" fill="#1189d3"/><rect x="0.75" y="305.52" width="32" height="6.98" fill="#1384d4"/><rect x="0.75" y="312.00" width="32" height="6.98" fill="#1280d5"/><rect x="0.75" y="318.48" width="32" height="6.98" fill="#0f7cd7"/><rect x="0.75" y="324.97" width="32" height="6.98" fill="#0d78d9"/><rect x="0.75" y="331.45" width="32" height="6.98" fill="#0a74db"/><rect x="0.75" y="337.94" width="32" height="6.98" fill="#0870dd"/><rect x="0.75" y="344.42" width="32" height="6.98" fill="#056ddf"/><rect x="0.75" y="350.91" width="32" height="6.98" fill="#0269e1"/><rect x="0.75" y="357.39" width="32" height="6.98" fill="#0a62de"/><rect x="0.75" y="363.88" width="32" height="6.98" fill="#145ada"/><rect x="0.75" y="370.36" width="32" height="6.98" fill="#1d53d3"/><rect x="0.75" y="376.84" width="32" height="6.98" fill="#254cc6"/><rect x="0.75" y="383.33" width="32" height="6.98" fill="#2d44ba"/><rect x="0.75" y="389.81" width="32" height="6.98" fill="#343dad"/><rect x="0.75" y="396.30" width="32" height="6.98" fill="#3437a0"/><rect x="0.75" y="402.78" width="32" height="6.98" fill="#353094"/><rect x="0.75" y="409.27" width="32" height="6.48" fill="#352a87"/></g><rect x="0.75" y="0.75" width="32" height="415" fill="none" stroke="#15152a" stroke-width="1.5"/></svg><svg class="hm" style="left:1282.6px;top:62px" width="36.4" height="416.5" viewBox="0 0 36.4 416.5"><g shape-rendering="crispEdges"><rect x="0.75" y="0.75" width="34.9" height="6.98" fill="#f9fb0e"/><rect x="0.75" y="7.23" width="34.9" height="6.98" fill="#f9f512"/><rect x="0.75" y="13.72" width="34.9" height="6.98" fill="#f9f017"/><rect x="0.75" y="20.20" width="34.9" height="6.98" fill="#faea1b"/><rect x="0.75" y="26.69" width="34.9" height="6.98" fill="#fae51f"/><rect x="0.75" y="33.17" width="34.9" height="6.98" fill="#fadf23"/><rect x="0.75" y="39.66" width="34.9" height="6.98" fill="#fbd828"/><rect x="0.75" y="46.14" width="34.9" height="6.98" fill="#fcd12d"/><rect x="0.75" y="52.62" width="34.9" height="6.98" fill="#fdcb33"/><rect x="0.75" y="59.11" width="34.9" height="6.98" fill="#fec438"/><rect x="0.75" y="65.59" width="34.9" height="6.98" fill="#fdc13a"/><rect x="0.75" y="72.08" width="34.9" height="6.98" fill="#fdbf3c"/><rect x="0.75" y="78.56" width="34.9" height="6.98" fill="#fcbe3e"/><rect x="0.75" y="85.05" width="34.9" height="6.98" fill="#eebd45"/><rect x="0.75" y="91.53" width="34.9" height="6.98" fill="#e0bc4d"/><rect x="0.75" y="98.02" width="34.9" height="6.98" fill="#d3bb54"/><rect x="0.75" y="104.50" width="34.9" height="6.98" fill="#c5b95b"/><rect x="0.75" y="110.98" width="34.9" height="6.98" fill="#b8b862"/><rect x="0.75" y="117.47" width="34.9" height="6.98" fill="#aab76a"/><rect x="0.75" y="123.95" width="34.9" height="6.98" fill="#9cb671"/><rect x="0.75" y="130.44" width="34.9" height="6.98" fill="#8fb578"/><rect x="0.75" y="136.92" width="34.9" height="6.98" fill="#81b480"/><rect x="0.75" y="143.41" width="34.9" height="6.98" fill="#74b387"/><rect x="0.75" y="149.89" width="34.9" height="6.98" fill="#66b18e"/><rect x="0.75" y="156.38" width="34.9" height="6.98" fill="#58b095"/><rect x="0.75" y="162.86" width="34.9" height="6.98" fill="#4baf9d"/><rect x="0.75" y="169.34" width="34.9" height="6.98" fill="#3daea4"/><rect x="0.75" y="175.83" width="34.9" height="6.98" fill="#30adab"/><rect x="0.75" y="182.31" width="34.9" height="6.98" fill="#22acb2"/><rect x="0.75" y="188.80" width="34.9" height="6.98" fill="#14abba"/><rect x="0.75" y="195.28" width="34.9" height="6.98" fill="#0caabe"/><rect x="0.75" y="201.77" width="34.9" height="6.98" fill="#0ba9bf"/><rect x="0.75" y="208.25" width="34.9" height="6.98" fill="#0ba9c0"/><rect x="0.75" y="214.73" width="34.9" height="6.98" fill="#0aa8c1"/><rect x="0.75" y="221.22" width="34.9" height="6.98" fill="#09a8c2"/><rect x="0.75" y="227.70" width="34.9" height="6.98" fill="#09a7c3"/><rect x="0.75" y="234.19" width="34.9" height="6.98" fill="#08a7c3"/><rect x="0.75" y="240.67" width="34.9" height="6.98" fill="#07a6c4"/><rect x="0.75" y="247.16" width="34.9" height="6.98" fill="#07a6c5"/><rect x="0.75" y="253.64" width="34.9" height="6.98" fill="#07a3c8"/><rect x="0.75" y="260.12" width="34.9" height="6.98" fill="#07a1ca"/><rect x="0.75" y="266.61" width="34.9" height="6.98" fill="#079fcd"/><rect x="0.75" y="273.09" width="34.9" height="6.98" fill="#079ccf"/><rect x="0.75" y="279.58" width="34.9" height="6.98" fill="#0998d1"/><rect x="0.75" y="286.06" width="34.9" height="6.98" fill="#0c93d1"/><rect x="0.75" y="292.55" width="34.9" height="6.98" fill="#0e8ed2"/><rect x="0.75" y="299.03" width="34.9" height="6.98" fill="#1189d3"/><rect x="0.75" y="305.52" width="34.9" height="6.98" fill="#1384d4"/><rect x="0.75" y="312.00" width="34.9" height="6.98" fill="#1280d5"/><rect x="0.75" y="318.48" width="34.9" height="6.98" fill="#0f7cd7"/><rect x="0.75" y="324.97" width="34.9" height="6.98" fill="#0d78d9"/><rect x="0.75" y="331.45" width="34.9" height="6.98" fill="#0a74db"/><rect x="0.75" y="337.94" width="34.9" height="6.98" fill="#0870dd"/><rect x="0.75" y="344.42" width="34.9" height="6.98" fill="#056ddf"/><rect x="0.75" y="350.91" width="34.9" height="6.98" fill="#0269e1"/><rect x="0.75" y="357.39" width="34.9" height="6.98" fill="#0a62de"/><rect x="0.75" y="363.88" width="34.9" height="6.98" fill="#145ada"/><rect x="0.75" y="370.36" width="34.9" height="6.98" fill="#1d53d3"/><rect x="0.75" y="376.84" width="34.9" height="6.98" fill="#254cc6"/><rect x="0.75" y="383.33" width="34.9" height="6.98" fill="#2d44ba"/><rect x="0.75" y="389.81" width="34.9" height="6.98" fill="#343dad"/><rect x="0.75" y="396.30" width="34.9" height="6.98" fill="#3437a0"/><rect x="0.75" y="402.78" width="34.9" height="6.98" fill="#353094"/><rect x="0.75" y="409.27" width="34.9" height="6.48" fill="#352a87"/></g><rect x="0.75" y="0.75" width="34.9" height="415" fill="none" stroke="#15152a" stroke-width="1.5"/></svg><div class="t yl" style="left:16.9px;top:54.05px">1600</div><div class="t yl" style="left:16.9px;top:106.2px">1400</div><div class="t yl" style="left:16.9px;top:158.35px">1200</div><div class="t yl" style="left:16.9px;top:210.5px">1000</div><div class="t yl" style="left:16.9px;top:262.65px">800</div><div class="t yl" style="left:16.9px;top:314.8px">600</div><div class="t yl" style="left:16.9px;top:366.95px">400</div><div class="t yl" style="left:16.9px;top:419.1px">200</div><div class="t xl" style="left:105.8px;top:489px">50</div><div class="t xl" style="left:191.825px;top:489px">100</div><div class="t xl" style="left:277.85px;top:489px">150</div><div class="t xl" style="left:363.875px;top:489px">200</div><div class="t xl" style="left:449.9px;top:489px">250</div><div class="t xl" style="left:535.925px;top:489px">300</div><div class="ax" style="left:300.9px;top:512.8px;font-size:21.6px"><i style="display:inline-block;transform:scaleX(1.17);transform-origin:0 50%">&tau;</i> (fs)</div><div class="ax" style="left:-1.2px;top:314px;transform-origin:0 0;transform:rotate(-90deg)">L<sub style="font-size:16px;vertical-align:-7px;line-height:0">pre</sub> (nm)</div><div class="t yl" style="left:702.2px;top:54.05px">1600</div><div class="t yl" style="left:702.2px;top:106.2px">1400</div><div class="t yl" style="left:702.2px;top:158.35px">1200</div><div class="t yl" style="left:702.2px;top:210.5px">1000</div><div class="t yl" style="left:702.2px;top:262.65px">800</div><div class="t yl" style="left:702.2px;top:314.8px">600</div><div class="t yl" style="left:702.2px;top:366.95px">400</div><div class="t yl" style="left:702.2px;top:419.1px">200</div><div class="t xl" style="left:791.1px;top:489px">50</div><div class="t xl" style="left:877.125px;top:489px">100</div><div class="t xl" style="left:963.15px;top:489px">150</div><div class="t xl" style="left:1049.17px;top:489px">200</div><div class="t xl" style="left:1135.2px;top:489px">250</div><div class="t xl" style="left:1221.23px;top:489px">300</div><div class="ax" style="left:986.2px;top:512.8px;font-size:21.6px"><i style="display:inline-block;transform:scaleX(1.17);transform-origin:0 50%">&tau;</i> (fs)</div><div class="ax" style="left:684.1px;top:314px;transform-origin:0 0;transform:rotate(-90deg)">L<sub style="font-size:16px;vertical-align:-7px;line-height:0">pre</sub> (nm)</div><div class="tk" style="left:629.5px;top:461.65px"></div><div class="t c" style="left:641.6px;top:455.4px">1</div><div class="tk" style="left:629.5px;top:418.69px"></div><div class="t c" style="left:641.6px;top:412.44px">1.2</div><div class="tk" style="left:629.5px;top:375.73px"></div><div class="t c" style="left:641.6px;top:369.48px">1.4</div><div class="tk" style="left:629.5px;top:332.77px"></div><div class="t c" style="left:641.6px;top:326.52px">1.6</div><div class="tk" style="left:629.5px;top:289.81px"></div><div class="t c" style="left:641.6px;top:283.56px">1.8</div><div class="tk" style="left:629.5px;top:246.85px"></div><div class="t c" style="left:641.6px;top:240.6px">2</div><div class="tk" style="left:629.5px;top:203.89px"></div><div class="t c" style="left:641.6px;top:197.64px">2.2</div><div class="tk" style="left:629.5px;top:160.93px"></div><div class="t c" style="left:641.6px;top:154.68px">2.4</div><div class="tk" style="left:629.5px;top:117.97px"></div><div class="t c" style="left:641.6px;top:111.72px">2.6</div><div class="tk" style="left:629.5px;top:75.01px"></div><div class="t c" style="left:641.6px;top:68.76px">2.8</div><div class="t c" style="left:1325.5px;top:55.4px">0</div><div class="tk" style="left:1314px;top:124.73px"></div><div class="t c" style="left:1325.5px;top:117.68px">-0.2</div><div class="tk" style="left:1314px;top:187.01px"></div><div class="t c" style="left:1325.5px;top:179.96px">-0.4</div><div class="tk" style="left:1314px;top:249.29px"></div><div class="t c" style="left:1325.5px;top:242.24px">-0.6</div><div class="tk" style="left:1314px;top:311.57px"></div><div class="t c" style="left:1325.5px;top:304.52px">-0.8</div><div class="tk" style="left:1314px;top:373.85px"></div><div class="t c" style="left:1325.5px;top:366.8px">-1</div><div class="tk" style="left:1314px;top:436.13px"></div><div class="t c" style="left:1325.5px;top:429.08px">-1.2</div><div class="s" style="left:573.6px;top:38.9px;font-size:20.1px">Ion energy</div><div class="s" style="left:1224px;top:39.7px;font-size:19.8px">Relative efficiency</div><div class="s" style="left:634.4px;top:-1.6px;font-size:32.3px">a)</div><div class="s" style="left:1362px;top:-1.3px;font-size:32.3px">b)</div></div></body></html>
